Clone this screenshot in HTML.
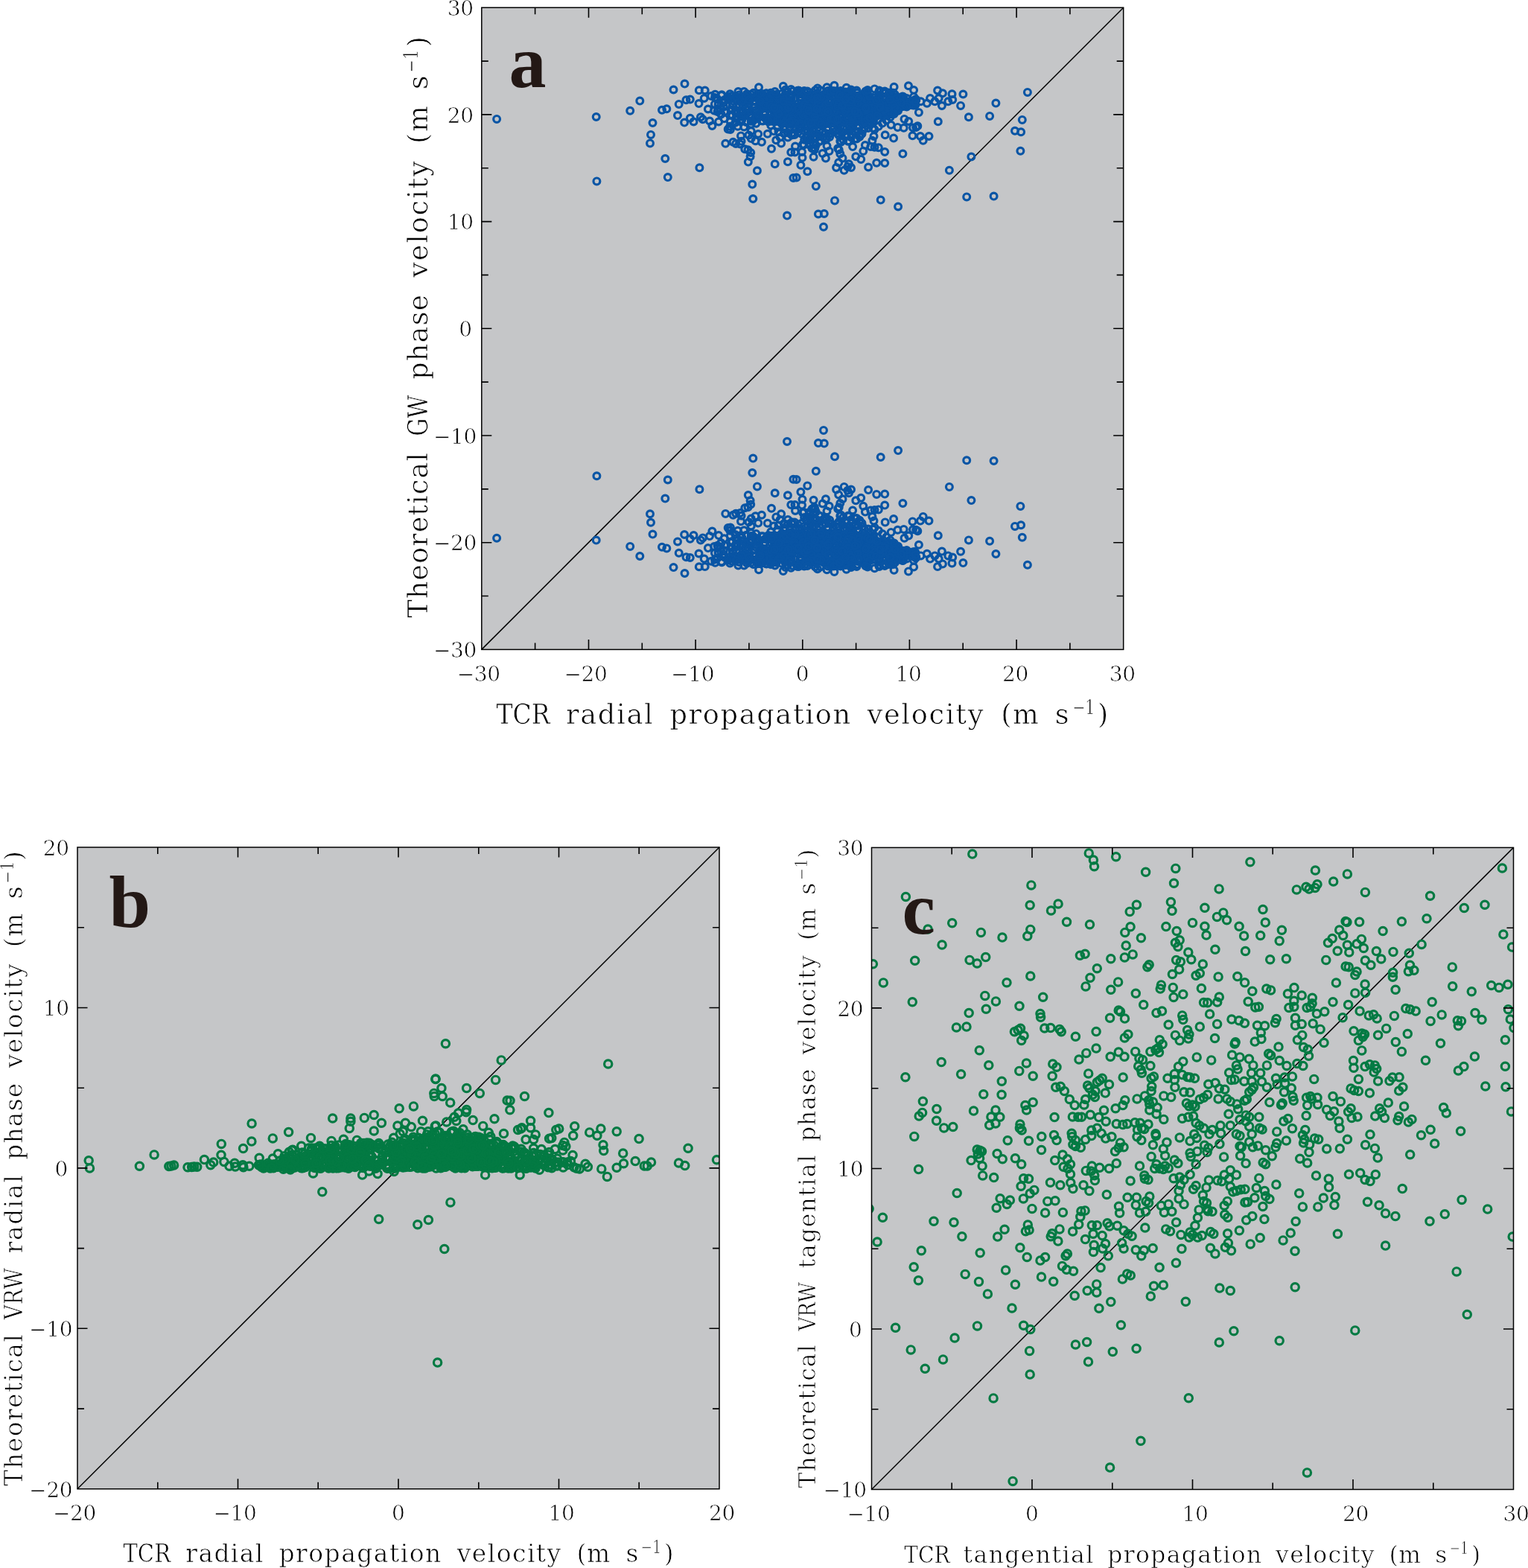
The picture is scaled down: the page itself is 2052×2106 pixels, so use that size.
<!DOCTYPE html>
<html lang="en"><head><meta charset="utf-8"><title>Figure</title>
<style>html,body{margin:0;padding:0;background:#fff}svg{display:block}</style></head>
<body><svg width="2052" height="2106" viewBox="0 0 2052 2106">
<rect width="2052" height="2106" fill="#fff"/>
<rect x="646.8" y="10.2" width="861.9" height="862.2" fill="#c5c6c8"/>
<rect x="104" y="1138" width="862" height="861.8" fill="#c5c6c8"/>
<rect x="1170.5" y="1138.4" width="862" height="862.1" fill="#c5c6c8"/>
<path d="M646.8 872.4L1508.7 10.2" stroke="#000" stroke-width="1.5" fill="none"/>
<clipPath id="cpa"><rect x="646.8" y="10.2" width="861.9" height="862.2"/></clipPath>
<g clip-path="url(#cpa)" fill="none" stroke="#0955a5" stroke-width="3.2">
<circle cx="1015.4" cy="165.7" r="4.4"/>
<circle cx="1008.1" cy="156.4" r="4.4"/>
<circle cx="998.2" cy="137.6" r="4.4"/>
<circle cx="994.4" cy="150.7" r="4.4"/>
<circle cx="992.9" cy="131" r="4.4"/>
<circle cx="983.8" cy="141.3" r="4.4"/>
<circle cx="1015" cy="147.9" r="4.4"/>
<circle cx="984.7" cy="135.8" r="4.4"/>
<circle cx="980.8" cy="163.2" r="4.4"/>
<circle cx="989.5" cy="148.7" r="4.4"/>
<circle cx="977.5" cy="130" r="4.4"/>
<circle cx="998.5" cy="132" r="4.4"/>
<circle cx="1002.1" cy="163.9" r="4.4"/>
<circle cx="1015.7" cy="131.1" r="4.4"/>
<circle cx="987.4" cy="164.7" r="4.4"/>
<circle cx="1001.4" cy="145.4" r="4.4"/>
<circle cx="971.3" cy="138.3" r="4.4"/>
<circle cx="1012.5" cy="135.8" r="4.4"/>
<circle cx="1015.4" cy="155.1" r="4.4"/>
<circle cx="1002.7" cy="126.6" r="4.4"/>
<circle cx="964.4" cy="147" r="4.4"/>
<circle cx="983.4" cy="155.5" r="4.4"/>
<circle cx="959.9" cy="139.9" r="4.4"/>
<circle cx="968.3" cy="153.6" r="4.4"/>
<circle cx="1006.8" cy="130.9" r="4.4"/>
<circle cx="994.9" cy="156.7" r="4.4"/>
<circle cx="964.8" cy="138.8" r="4.4"/>
<circle cx="993.1" cy="141.3" r="4.4"/>
<circle cx="959.1" cy="148.5" r="4.4"/>
<circle cx="960" cy="131.1" r="4.4"/>
<circle cx="971.9" cy="143.6" r="4.4"/>
<circle cx="973" cy="150" r="4.4"/>
<circle cx="983.4" cy="147.2" r="4.4"/>
<circle cx="982.5" cy="128.9" r="4.4"/>
<circle cx="968.9" cy="128.1" r="4.4"/>
<circle cx="1006.2" cy="140.1" r="4.4"/>
<circle cx="1006.7" cy="153.9" r="4.4"/>
<circle cx="1011.9" cy="161.8" r="4.4"/>
<circle cx="988.9" cy="143.2" r="4.4"/>
<circle cx="1016.3" cy="150.3" r="4.4"/>
<circle cx="1015" cy="129.4" r="4.4"/>
<circle cx="1002.1" cy="134.6" r="4.4"/>
<circle cx="1004.3" cy="147.4" r="4.4"/>
<circle cx="988.4" cy="133.5" r="4.4"/>
<circle cx="996.4" cy="160.7" r="4.4"/>
<circle cx="1011" cy="131.2" r="4.4"/>
<circle cx="1006.5" cy="129.9" r="4.4"/>
<circle cx="988.1" cy="159" r="4.4"/>
<circle cx="994.3" cy="133.4" r="4.4"/>
<circle cx="1017.5" cy="159" r="4.4"/>
<circle cx="1004.2" cy="151.4" r="4.4"/>
<circle cx="1008.7" cy="162.7" r="4.4"/>
<circle cx="1014.8" cy="136.7" r="4.4"/>
<circle cx="998.8" cy="131.5" r="4.4"/>
<circle cx="992.4" cy="127.5" r="4.4"/>
<circle cx="997" cy="148.5" r="4.4"/>
<circle cx="988.1" cy="151.4" r="4.4"/>
<circle cx="998.1" cy="137.1" r="4.4"/>
<circle cx="1012.6" cy="143.7" r="4.4"/>
<circle cx="997.5" cy="143.8" r="4.4"/>
<circle cx="1009.1" cy="127.2" r="4.4"/>
<circle cx="1017.3" cy="125.9" r="4.4"/>
<circle cx="1086.5" cy="188.1" r="4.4"/>
<circle cx="1100.1" cy="189.7" r="4.4"/>
<circle cx="1126.4" cy="175.7" r="4.4"/>
<circle cx="1088.7" cy="180.1" r="4.4"/>
<circle cx="1148.2" cy="186.4" r="4.4"/>
<circle cx="1140.1" cy="189.4" r="4.4"/>
<circle cx="1152.5" cy="176.5" r="4.4"/>
<circle cx="1076" cy="179.6" r="4.4"/>
<circle cx="1126.5" cy="181.8" r="4.4"/>
<circle cx="1114.2" cy="184" r="4.4"/>
<circle cx="1131.1" cy="178.2" r="4.4"/>
<circle cx="1091.4" cy="175.6" r="4.4"/>
<circle cx="1104.3" cy="177.9" r="4.4"/>
<circle cx="1092.3" cy="194" r="4.4"/>
<circle cx="1136" cy="182.6" r="4.4"/>
<circle cx="1082.3" cy="184.6" r="4.4"/>
<circle cx="1094.3" cy="198.9" r="4.4"/>
<circle cx="1154.4" cy="183.8" r="4.4"/>
<circle cx="1109.4" cy="187.5" r="4.4"/>
<circle cx="1128.3" cy="189.5" r="4.4"/>
<circle cx="1099.5" cy="182.1" r="4.4"/>
<circle cx="1092.9" cy="183.8" r="4.4"/>
<circle cx="1141.5" cy="174.7" r="4.4"/>
<circle cx="1144.8" cy="180.2" r="4.4"/>
<circle cx="1116.6" cy="179" r="4.4"/>
<circle cx="1105.2" cy="184.6" r="4.4"/>
<circle cx="1157.5" cy="179.8" r="4.4"/>
<circle cx="1085.4" cy="175.8" r="4.4"/>
<circle cx="1079.6" cy="194.6" r="4.4"/>
<circle cx="1067.1" cy="181.1" r="4.4"/>
<circle cx="1061.6" cy="162.2" r="4.4"/>
<circle cx="1086.4" cy="163.3" r="4.4"/>
<circle cx="1035.3" cy="168.4" r="4.4"/>
<circle cx="1143.6" cy="164.7" r="4.4"/>
<circle cx="1108.2" cy="165.8" r="4.4"/>
<circle cx="1051.8" cy="162.2" r="4.4"/>
<circle cx="1149.1" cy="164.1" r="4.4"/>
<circle cx="1073" cy="173.2" r="4.4"/>
<circle cx="1161.4" cy="161.8" r="4.4"/>
<circle cx="1118.9" cy="174.1" r="4.4"/>
<circle cx="1103.4" cy="163.7" r="4.4"/>
<circle cx="1098.4" cy="161.9" r="4.4"/>
<circle cx="1165.9" cy="172" r="4.4"/>
<circle cx="1103.8" cy="168.7" r="4.4"/>
<circle cx="1117.8" cy="169.1" r="4.4"/>
<circle cx="1050" cy="166.4" r="4.4"/>
<circle cx="1068.5" cy="171.2" r="4.4"/>
<circle cx="1098" cy="167.2" r="4.4"/>
<circle cx="1123.1" cy="165.8" r="4.4"/>
<circle cx="1080.2" cy="175.7" r="4.4"/>
<circle cx="1143.6" cy="172.9" r="4.4"/>
<circle cx="1061.8" cy="167" r="4.4"/>
<circle cx="1088.6" cy="179.8" r="4.4"/>
<circle cx="1070.5" cy="164" r="4.4"/>
<circle cx="1093.8" cy="162.9" r="4.4"/>
<circle cx="1031.9" cy="163.6" r="4.4"/>
<circle cx="1129.9" cy="163.1" r="4.4"/>
<circle cx="1044" cy="171.1" r="4.4"/>
<circle cx="1063.5" cy="178.7" r="4.4"/>
<circle cx="1153.8" cy="170.5" r="4.4"/>
<circle cx="1147.6" cy="175.6" r="4.4"/>
<circle cx="1057.7" cy="178.3" r="4.4"/>
<circle cx="1126.5" cy="174.4" r="4.4"/>
<circle cx="1173.2" cy="161.6" r="4.4"/>
<circle cx="1168" cy="160.3" r="4.4"/>
<circle cx="1161.1" cy="171.6" r="4.4"/>
<circle cx="1153.3" cy="161.8" r="4.4"/>
<circle cx="1071.9" cy="177.6" r="4.4"/>
<circle cx="1109" cy="179" r="4.4"/>
<circle cx="1100.4" cy="175" r="4.4"/>
<circle cx="1097.4" cy="179.1" r="4.4"/>
<circle cx="1037.8" cy="163" r="4.4"/>
<circle cx="1052.8" cy="173.7" r="4.4"/>
<circle cx="1075.6" cy="166.3" r="4.4"/>
<circle cx="1113.9" cy="179.7" r="4.4"/>
<circle cx="1087.9" cy="172.6" r="4.4"/>
<circle cx="1132.5" cy="172.9" r="4.4"/>
<circle cx="1111.8" cy="174.6" r="4.4"/>
<circle cx="1137.2" cy="171.6" r="4.4"/>
<circle cx="1158.5" cy="166.9" r="4.4"/>
<circle cx="1085" cy="168.9" r="4.4"/>
<circle cx="1061" cy="171.6" r="4.4"/>
<circle cx="1166.3" cy="166.4" r="4.4"/>
<circle cx="1125.3" cy="178.8" r="4.4"/>
<circle cx="1138.6" cy="160.7" r="4.4"/>
<circle cx="1113.9" cy="164.1" r="4.4"/>
<circle cx="1080.2" cy="169.4" r="4.4"/>
<circle cx="1092.7" cy="176.8" r="4.4"/>
<circle cx="1179.2" cy="160.7" r="4.4"/>
<circle cx="1139.3" cy="175.9" r="4.4"/>
<circle cx="1046.8" cy="160" r="4.4"/>
<circle cx="1181.4" cy="132.7" r="4.4"/>
<circle cx="1124" cy="141.7" r="4.4"/>
<circle cx="1157.4" cy="157.3" r="4.4"/>
<circle cx="1196.9" cy="140.9" r="4.4"/>
<circle cx="1113.3" cy="154.2" r="4.4"/>
<circle cx="1067" cy="164.5" r="4.4"/>
<circle cx="1023.4" cy="145.9" r="4.4"/>
<circle cx="1219" cy="138.5" r="4.4"/>
<circle cx="1064.4" cy="140.4" r="4.4"/>
<circle cx="1024.2" cy="131.2" r="4.4"/>
<circle cx="1111.7" cy="143.8" r="4.4"/>
<circle cx="1067.9" cy="131.6" r="4.4"/>
<circle cx="1064.8" cy="142.1" r="4.4"/>
<circle cx="1080" cy="122" r="4.4"/>
<circle cx="1197.2" cy="146.6" r="4.4"/>
<circle cx="1155.5" cy="129.6" r="4.4"/>
<circle cx="1043.9" cy="136.3" r="4.4"/>
<circle cx="1172.4" cy="153.7" r="4.4"/>
<circle cx="1218.4" cy="140.4" r="4.4"/>
<circle cx="1195.6" cy="151.8" r="4.4"/>
<circle cx="1082.9" cy="148" r="4.4"/>
<circle cx="1126.1" cy="148.1" r="4.4"/>
<circle cx="1025.4" cy="132.2" r="4.4"/>
<circle cx="1188.6" cy="140.1" r="4.4"/>
<circle cx="1055" cy="146.2" r="4.4"/>
<circle cx="1168.5" cy="152" r="4.4"/>
<circle cx="1098.2" cy="141.2" r="4.4"/>
<circle cx="1126.8" cy="156.8" r="4.4"/>
<circle cx="1129.5" cy="139.1" r="4.4"/>
<circle cx="1122.8" cy="122.4" r="4.4"/>
<circle cx="1027.3" cy="153.4" r="4.4"/>
<circle cx="1102.2" cy="128.8" r="4.4"/>
<circle cx="1125.5" cy="166.2" r="4.4"/>
<circle cx="1182.9" cy="145.8" r="4.4"/>
<circle cx="1202.1" cy="131.7" r="4.4"/>
<circle cx="1127.9" cy="164.8" r="4.4"/>
<circle cx="1141.6" cy="142.1" r="4.4"/>
<circle cx="1075.6" cy="146.2" r="4.4"/>
<circle cx="1191.2" cy="144.9" r="4.4"/>
<circle cx="1138.1" cy="140.6" r="4.4"/>
<circle cx="1030" cy="161" r="4.4"/>
<circle cx="1140" cy="130.2" r="4.4"/>
<circle cx="1126" cy="143.3" r="4.4"/>
<circle cx="1094.4" cy="136.9" r="4.4"/>
<circle cx="1133.2" cy="149.7" r="4.4"/>
<circle cx="1149.1" cy="142.1" r="4.4"/>
<circle cx="1024" cy="131.6" r="4.4"/>
<circle cx="1055.9" cy="147.9" r="4.4"/>
<circle cx="1072.6" cy="159.7" r="4.4"/>
<circle cx="1162" cy="124.8" r="4.4"/>
<circle cx="1179.7" cy="132.5" r="4.4"/>
<circle cx="1041.4" cy="149.7" r="4.4"/>
<circle cx="1091.7" cy="124.2" r="4.4"/>
<circle cx="1052.2" cy="145.3" r="4.4"/>
<circle cx="1054" cy="133.6" r="4.4"/>
<circle cx="1170.3" cy="141.9" r="4.4"/>
<circle cx="1086.9" cy="142.8" r="4.4"/>
<circle cx="1023.1" cy="138.8" r="4.4"/>
<circle cx="1108.1" cy="129.6" r="4.4"/>
<circle cx="1041.3" cy="162.4" r="4.4"/>
<circle cx="1127.2" cy="130.6" r="4.4"/>
<circle cx="1147.6" cy="158.6" r="4.4"/>
<circle cx="1049.3" cy="154.1" r="4.4"/>
<circle cx="1052.3" cy="153.4" r="4.4"/>
<circle cx="1163.1" cy="146.1" r="4.4"/>
<circle cx="1065.2" cy="165.9" r="4.4"/>
<circle cx="1188.7" cy="144.8" r="4.4"/>
<circle cx="1065.8" cy="150.8" r="4.4"/>
<circle cx="1102.5" cy="147.5" r="4.4"/>
<circle cx="1086.7" cy="150" r="4.4"/>
<circle cx="1030.6" cy="134.7" r="4.4"/>
<circle cx="1083.6" cy="160.5" r="4.4"/>
<circle cx="1084.4" cy="164.2" r="4.4"/>
<circle cx="1177.2" cy="140.1" r="4.4"/>
<circle cx="1140" cy="128.9" r="4.4"/>
<circle cx="1168.7" cy="144.4" r="4.4"/>
<circle cx="1098.9" cy="137" r="4.4"/>
<circle cx="1062" cy="152" r="4.4"/>
<circle cx="1110.7" cy="129.9" r="4.4"/>
<circle cx="1040.3" cy="151.6" r="4.4"/>
<circle cx="1081.4" cy="144" r="4.4"/>
<circle cx="1087.6" cy="161.1" r="4.4"/>
<circle cx="1061" cy="136.1" r="4.4"/>
<circle cx="1090.6" cy="130.8" r="4.4"/>
<circle cx="1162.3" cy="159.5" r="4.4"/>
<circle cx="1217.5" cy="136.8" r="4.4"/>
<circle cx="1121.7" cy="166.3" r="4.4"/>
<circle cx="1068.2" cy="154.4" r="4.4"/>
<circle cx="1036.1" cy="128.8" r="4.4"/>
<circle cx="1213" cy="130.8" r="4.4"/>
<circle cx="1180.5" cy="148.6" r="4.4"/>
<circle cx="1198" cy="137.9" r="4.4"/>
<circle cx="1090.8" cy="134.4" r="4.4"/>
<circle cx="1203.6" cy="148.8" r="4.4"/>
<circle cx="1047" cy="146.4" r="4.4"/>
<circle cx="1033.7" cy="160.8" r="4.4"/>
<circle cx="1091" cy="149.3" r="4.4"/>
<circle cx="1185.3" cy="138.4" r="4.4"/>
<circle cx="1140.1" cy="131.3" r="4.4"/>
<circle cx="1035.5" cy="133.3" r="4.4"/>
<circle cx="1216" cy="142.1" r="4.4"/>
<circle cx="1077.3" cy="157.2" r="4.4"/>
<circle cx="1161.5" cy="125.2" r="4.4"/>
<circle cx="1042.6" cy="161.7" r="4.4"/>
<circle cx="1026.6" cy="132" r="4.4"/>
<circle cx="1229.5" cy="140.4" r="4.4"/>
<circle cx="1042.7" cy="128.7" r="4.4"/>
<circle cx="1069.7" cy="155.2" r="4.4"/>
<circle cx="1040" cy="162.9" r="4.4"/>
<circle cx="1099" cy="165.6" r="4.4"/>
<circle cx="1212.6" cy="134.5" r="4.4"/>
<circle cx="1072.2" cy="142.9" r="4.4"/>
<circle cx="1039.4" cy="151" r="4.4"/>
<circle cx="1228.3" cy="134.6" r="4.4"/>
<circle cx="1145.7" cy="141.7" r="4.4"/>
<circle cx="1085" cy="123.9" r="4.4"/>
<circle cx="1064.1" cy="149.4" r="4.4"/>
<circle cx="1165.3" cy="151.4" r="4.4"/>
<circle cx="1073.4" cy="145.9" r="4.4"/>
<circle cx="1083.8" cy="132.3" r="4.4"/>
<circle cx="1035.4" cy="133.9" r="4.4"/>
<circle cx="1228.4" cy="141.6" r="4.4"/>
<circle cx="1157.5" cy="150.6" r="4.4"/>
<circle cx="1219.3" cy="139" r="4.4"/>
<circle cx="1083.7" cy="136.1" r="4.4"/>
<circle cx="1085.8" cy="160" r="4.4"/>
<circle cx="1209.2" cy="134.9" r="4.4"/>
<circle cx="1089.5" cy="146" r="4.4"/>
<circle cx="1141.9" cy="148.4" r="4.4"/>
<circle cx="1070.5" cy="121.9" r="4.4"/>
<circle cx="1070.2" cy="124.3" r="4.4"/>
<circle cx="1136" cy="124.3" r="4.4"/>
<circle cx="1034.1" cy="150.2" r="4.4"/>
<circle cx="1080.2" cy="157.4" r="4.4"/>
<circle cx="1123.6" cy="160.7" r="4.4"/>
<circle cx="1051" cy="144.1" r="4.4"/>
<circle cx="1188.1" cy="124.5" r="4.4"/>
<circle cx="1193.8" cy="135.7" r="4.4"/>
<circle cx="1040.9" cy="144.7" r="4.4"/>
<circle cx="1214.7" cy="134.5" r="4.4"/>
<circle cx="1085.6" cy="162.5" r="4.4"/>
<circle cx="1165.6" cy="129.2" r="4.4"/>
<circle cx="1110.6" cy="128.3" r="4.4"/>
<circle cx="1171" cy="151.7" r="4.4"/>
<circle cx="1072.1" cy="124" r="4.4"/>
<circle cx="1135.5" cy="145.9" r="4.4"/>
<circle cx="1200.2" cy="141.9" r="4.4"/>
<circle cx="1102.7" cy="136.6" r="4.4"/>
<circle cx="1073.2" cy="122.1" r="4.4"/>
<circle cx="1156.3" cy="140.2" r="4.4"/>
<circle cx="1140.1" cy="123.9" r="4.4"/>
<circle cx="1094" cy="127.4" r="4.4"/>
<circle cx="1044.8" cy="132.9" r="4.4"/>
<circle cx="1195.4" cy="139.3" r="4.4"/>
<circle cx="1103.8" cy="149.2" r="4.4"/>
<circle cx="1131.1" cy="144" r="4.4"/>
<circle cx="1156.9" cy="141.2" r="4.4"/>
<circle cx="1164.9" cy="154.6" r="4.4"/>
<circle cx="1069" cy="143.8" r="4.4"/>
<circle cx="1120.5" cy="131.4" r="4.4"/>
<circle cx="1106.2" cy="146.8" r="4.4"/>
<circle cx="1076.9" cy="150.7" r="4.4"/>
<circle cx="1127.5" cy="161.4" r="4.4"/>
<circle cx="1052.1" cy="156.2" r="4.4"/>
<circle cx="1207" cy="135.3" r="4.4"/>
<circle cx="1166.2" cy="160.1" r="4.4"/>
<circle cx="1097.5" cy="153.3" r="4.4"/>
<circle cx="1175.6" cy="148.4" r="4.4"/>
<circle cx="1055.7" cy="132.5" r="4.4"/>
<circle cx="1064.6" cy="147.2" r="4.4"/>
<circle cx="1180.2" cy="123.4" r="4.4"/>
<circle cx="1163.9" cy="154" r="4.4"/>
<circle cx="1092.5" cy="144.7" r="4.4"/>
<circle cx="1053.3" cy="154.6" r="4.4"/>
<circle cx="1190.9" cy="149.9" r="4.4"/>
<circle cx="1075.3" cy="163" r="4.4"/>
<circle cx="1159.2" cy="153.2" r="4.4"/>
<circle cx="1113.2" cy="163.5" r="4.4"/>
<circle cx="1225.8" cy="138.6" r="4.4"/>
<circle cx="1189.8" cy="140.9" r="4.4"/>
<circle cx="1053.3" cy="136" r="4.4"/>
<circle cx="1045" cy="162.8" r="4.4"/>
<circle cx="1146.5" cy="139.8" r="4.4"/>
<circle cx="1043.3" cy="134.6" r="4.4"/>
<circle cx="1071.1" cy="155.5" r="4.4"/>
<circle cx="1018.9" cy="129.7" r="4.4"/>
<circle cx="1111.9" cy="122" r="4.4"/>
<circle cx="1152.3" cy="148.9" r="4.4"/>
<circle cx="1196.8" cy="130.5" r="4.4"/>
<circle cx="1078.9" cy="145.9" r="4.4"/>
<circle cx="1076.5" cy="147.9" r="4.4"/>
<circle cx="1071.7" cy="152.4" r="4.4"/>
<circle cx="1123" cy="160.4" r="4.4"/>
<circle cx="1182.6" cy="147.2" r="4.4"/>
<circle cx="1100" cy="134.1" r="4.4"/>
<circle cx="1041.1" cy="158.1" r="4.4"/>
<circle cx="1043.3" cy="155.4" r="4.4"/>
<circle cx="1134.7" cy="165.4" r="4.4"/>
<circle cx="1047.2" cy="144" r="4.4"/>
<circle cx="1140.5" cy="135.3" r="4.4"/>
<circle cx="1125.6" cy="137.4" r="4.4"/>
<circle cx="1112.7" cy="141.7" r="4.4"/>
<circle cx="1083.2" cy="139.4" r="4.4"/>
<circle cx="1185.6" cy="152.4" r="4.4"/>
<circle cx="1123.4" cy="150.8" r="4.4"/>
<circle cx="1098.8" cy="130.4" r="4.4"/>
<circle cx="1018.8" cy="133.8" r="4.4"/>
<circle cx="1146" cy="161.6" r="4.4"/>
<circle cx="1195.5" cy="144.5" r="4.4"/>
<circle cx="1196.6" cy="139.8" r="4.4"/>
<circle cx="1083.3" cy="128.8" r="4.4"/>
<circle cx="1150.7" cy="145.4" r="4.4"/>
<circle cx="1094.9" cy="121.2" r="4.4"/>
<circle cx="1101.3" cy="140.6" r="4.4"/>
<circle cx="1104.7" cy="160.6" r="4.4"/>
<circle cx="1143.1" cy="154.8" r="4.4"/>
<circle cx="1123.4" cy="155.3" r="4.4"/>
<circle cx="1155" cy="150.8" r="4.4"/>
<circle cx="1152.8" cy="139.7" r="4.4"/>
<circle cx="1152.7" cy="150.2" r="4.4"/>
<circle cx="1192.5" cy="148.9" r="4.4"/>
<circle cx="1092.8" cy="133.2" r="4.4"/>
<circle cx="1169.5" cy="161.2" r="4.4"/>
<circle cx="1134.5" cy="128" r="4.4"/>
<circle cx="1196.3" cy="143.3" r="4.4"/>
<circle cx="1118" cy="123.1" r="4.4"/>
<circle cx="1127.2" cy="155.3" r="4.4"/>
<circle cx="1108.4" cy="137.3" r="4.4"/>
<circle cx="1126.5" cy="164.5" r="4.4"/>
<circle cx="1165.8" cy="139.5" r="4.4"/>
<circle cx="1165.4" cy="148.8" r="4.4"/>
<circle cx="1062.7" cy="130.6" r="4.4"/>
<circle cx="1207.6" cy="133.4" r="4.4"/>
<circle cx="1034" cy="159.2" r="4.4"/>
<circle cx="1130" cy="137.9" r="4.4"/>
<circle cx="1127.5" cy="154.9" r="4.4"/>
<circle cx="1054.1" cy="151" r="4.4"/>
<circle cx="1170.7" cy="158.5" r="4.4"/>
<circle cx="1075.7" cy="149" r="4.4"/>
<circle cx="1067.7" cy="146.8" r="4.4"/>
<circle cx="1054.9" cy="157.3" r="4.4"/>
<circle cx="1203.5" cy="136.2" r="4.4"/>
<circle cx="1065.6" cy="165.3" r="4.4"/>
<circle cx="1169.2" cy="159.8" r="4.4"/>
<circle cx="1024.5" cy="162.4" r="4.4"/>
<circle cx="1151.2" cy="135.6" r="4.4"/>
<circle cx="1110.4" cy="156" r="4.4"/>
<circle cx="1186.1" cy="129.7" r="4.4"/>
<circle cx="1151.9" cy="128.6" r="4.4"/>
<circle cx="1226.2" cy="141.4" r="4.4"/>
<circle cx="1147.7" cy="133.1" r="4.4"/>
<circle cx="1130.7" cy="127.4" r="4.4"/>
<circle cx="1047.6" cy="153.9" r="4.4"/>
<circle cx="1095.3" cy="155.6" r="4.4"/>
<circle cx="1069.5" cy="154" r="4.4"/>
<circle cx="1171.8" cy="135.1" r="4.4"/>
<circle cx="1040.8" cy="139.3" r="4.4"/>
<circle cx="1123.4" cy="125.6" r="4.4"/>
<circle cx="1058" cy="123.5" r="4.4"/>
<circle cx="1145.9" cy="161.9" r="4.4"/>
<circle cx="1064.3" cy="122.6" r="4.4"/>
<circle cx="1168.6" cy="158.5" r="4.4"/>
<circle cx="1091.3" cy="159.5" r="4.4"/>
<circle cx="1043.3" cy="152.9" r="4.4"/>
<circle cx="1038.4" cy="139.4" r="4.4"/>
<circle cx="1123.9" cy="138.4" r="4.4"/>
<circle cx="1054.1" cy="131.7" r="4.4"/>
<circle cx="1193.5" cy="142.3" r="4.4"/>
<circle cx="1142.1" cy="130.7" r="4.4"/>
<circle cx="1171" cy="136.2" r="4.4"/>
<circle cx="1145" cy="162.8" r="4.4"/>
<circle cx="1086.4" cy="138.6" r="4.4"/>
<circle cx="1142.2" cy="163.3" r="4.4"/>
<circle cx="1103.6" cy="161.5" r="4.4"/>
<circle cx="1180.3" cy="128" r="4.4"/>
<circle cx="1049.1" cy="151.6" r="4.4"/>
<circle cx="1030.2" cy="138.5" r="4.4"/>
<circle cx="1045.8" cy="142.3" r="4.4"/>
<circle cx="1076.5" cy="126.4" r="4.4"/>
<circle cx="1154.4" cy="155.3" r="4.4"/>
<circle cx="1165" cy="159.9" r="4.4"/>
<circle cx="1159.9" cy="138.9" r="4.4"/>
<circle cx="1155.3" cy="132.2" r="4.4"/>
<circle cx="1144.4" cy="137.1" r="4.4"/>
<circle cx="1147.5" cy="146.8" r="4.4"/>
<circle cx="1129.7" cy="123.8" r="4.4"/>
<circle cx="1093.6" cy="140" r="4.4"/>
<circle cx="1060.7" cy="161.5" r="4.4"/>
<circle cx="1108.8" cy="151.5" r="4.4"/>
<circle cx="1170.7" cy="155.2" r="4.4"/>
<circle cx="1172.3" cy="155.6" r="4.4"/>
<circle cx="1071.8" cy="165.9" r="4.4"/>
<circle cx="1050.3" cy="163.3" r="4.4"/>
<circle cx="1029.3" cy="125.2" r="4.4"/>
<circle cx="1192" cy="142.6" r="4.4"/>
<circle cx="1097.2" cy="166.3" r="4.4"/>
<circle cx="1026.6" cy="145.4" r="4.4"/>
<circle cx="1112.9" cy="126.9" r="4.4"/>
<circle cx="1102.6" cy="153.6" r="4.4"/>
<circle cx="1130.2" cy="125.2" r="4.4"/>
<circle cx="1189.3" cy="124.9" r="4.4"/>
<circle cx="1025.3" cy="138.7" r="4.4"/>
<circle cx="1174.8" cy="135.4" r="4.4"/>
<circle cx="1045.8" cy="157.6" r="4.4"/>
<circle cx="1083" cy="140.5" r="4.4"/>
<circle cx="1070.5" cy="146.6" r="4.4"/>
<circle cx="1088.6" cy="136.6" r="4.4"/>
<circle cx="1143" cy="125.8" r="4.4"/>
<circle cx="1157.7" cy="141.6" r="4.4"/>
<circle cx="1196.6" cy="153.3" r="4.4"/>
<circle cx="1132.6" cy="162.3" r="4.4"/>
<circle cx="1196" cy="134.4" r="4.4"/>
<circle cx="1051.6" cy="138" r="4.4"/>
<circle cx="1129.5" cy="125.5" r="4.4"/>
<circle cx="1091.9" cy="147.4" r="4.4"/>
<circle cx="1027.3" cy="158.5" r="4.4"/>
<circle cx="1157.3" cy="135.4" r="4.4"/>
<circle cx="1081.8" cy="137.2" r="4.4"/>
<circle cx="1087.6" cy="155.4" r="4.4"/>
<circle cx="1125.2" cy="145.2" r="4.4"/>
<circle cx="1049.8" cy="163.1" r="4.4"/>
<circle cx="1087.7" cy="136.1" r="4.4"/>
<circle cx="1120.7" cy="163" r="4.4"/>
<circle cx="1046.8" cy="145.1" r="4.4"/>
<circle cx="1185.8" cy="153.3" r="4.4"/>
<circle cx="1177.8" cy="137.6" r="4.4"/>
<circle cx="1104.2" cy="142.4" r="4.4"/>
<circle cx="1053.9" cy="127.8" r="4.4"/>
<circle cx="1165.1" cy="146.9" r="4.4"/>
<circle cx="1212.1" cy="129.5" r="4.4"/>
<circle cx="1106" cy="154.5" r="4.4"/>
<circle cx="1028.7" cy="125.6" r="4.4"/>
<circle cx="1134.8" cy="133.2" r="4.4"/>
<circle cx="1040.9" cy="133" r="4.4"/>
<circle cx="1153.3" cy="145.2" r="4.4"/>
<circle cx="1200" cy="150.6" r="4.4"/>
<circle cx="1055.1" cy="160.6" r="4.4"/>
<circle cx="1022.7" cy="137.9" r="4.4"/>
<circle cx="1078.7" cy="162" r="4.4"/>
<circle cx="1146" cy="160.8" r="4.4"/>
<circle cx="1209.1" cy="140.6" r="4.4"/>
<circle cx="1162.6" cy="146" r="4.4"/>
<circle cx="1173.3" cy="158.4" r="4.4"/>
<circle cx="1061.1" cy="155.4" r="4.4"/>
<circle cx="1182.9" cy="144.7" r="4.4"/>
<circle cx="1122.2" cy="139.6" r="4.4"/>
<circle cx="1143.1" cy="122.8" r="4.4"/>
<circle cx="1200.1" cy="142.1" r="4.4"/>
<circle cx="1058.6" cy="134.8" r="4.4"/>
<circle cx="1043.7" cy="134.9" r="4.4"/>
<circle cx="1140.4" cy="146.4" r="4.4"/>
<circle cx="1130.5" cy="145.9" r="4.4"/>
<circle cx="1105.4" cy="150" r="4.4"/>
<circle cx="1083.9" cy="134.9" r="4.4"/>
<circle cx="1126.4" cy="148" r="4.4"/>
<circle cx="1052.9" cy="150.3" r="4.4"/>
<circle cx="1139.1" cy="137.9" r="4.4"/>
<circle cx="1104.1" cy="164.1" r="4.4"/>
<circle cx="1199.1" cy="138.6" r="4.4"/>
<circle cx="1117.4" cy="157.6" r="4.4"/>
<circle cx="1097.7" cy="155.5" r="4.4"/>
<circle cx="1121" cy="136.5" r="4.4"/>
<circle cx="1115.6" cy="126.4" r="4.4"/>
<circle cx="1093.9" cy="140.1" r="4.4"/>
<circle cx="1021.9" cy="128.9" r="4.4"/>
<circle cx="1073.7" cy="160.5" r="4.4"/>
<circle cx="1144.2" cy="134.2" r="4.4"/>
<circle cx="1128" cy="155" r="4.4"/>
<circle cx="1165.9" cy="140.9" r="4.4"/>
<circle cx="1184.3" cy="143.3" r="4.4"/>
<circle cx="1171.1" cy="143.6" r="4.4"/>
<circle cx="1037.6" cy="127" r="4.4"/>
<circle cx="1023.6" cy="132.6" r="4.4"/>
<circle cx="1120.7" cy="164.8" r="4.4"/>
<circle cx="1103.4" cy="154.3" r="4.4"/>
<circle cx="1196.6" cy="125.1" r="4.4"/>
<circle cx="1135.6" cy="145.6" r="4.4"/>
<circle cx="1092.2" cy="164.5" r="4.4"/>
<circle cx="1136.3" cy="140.3" r="4.4"/>
<circle cx="1161.7" cy="126.5" r="4.4"/>
<circle cx="1074.8" cy="133.8" r="4.4"/>
<circle cx="1120.7" cy="157.5" r="4.4"/>
<circle cx="1162.8" cy="125" r="4.4"/>
<circle cx="1101.4" cy="151.8" r="4.4"/>
<circle cx="1081" cy="144.4" r="4.4"/>
<circle cx="1100.7" cy="162.6" r="4.4"/>
<circle cx="1061.1" cy="145" r="4.4"/>
<circle cx="1107.2" cy="161.8" r="4.4"/>
<circle cx="1230.3" cy="134.3" r="4.4"/>
<circle cx="1123.4" cy="162.2" r="4.4"/>
<circle cx="1134.6" cy="130.9" r="4.4"/>
<circle cx="1180.6" cy="136.5" r="4.4"/>
<circle cx="1075.3" cy="145.9" r="4.4"/>
<circle cx="1112.2" cy="156" r="4.4"/>
<circle cx="1198.3" cy="131.5" r="4.4"/>
<circle cx="1076.8" cy="153.5" r="4.4"/>
<circle cx="1106.1" cy="127" r="4.4"/>
<circle cx="1059.8" cy="146.8" r="4.4"/>
<circle cx="1132" cy="149" r="4.4"/>
<circle cx="1049.9" cy="140" r="4.4"/>
<circle cx="1077.9" cy="153" r="4.4"/>
<circle cx="1075.2" cy="130.9" r="4.4"/>
<circle cx="1096.7" cy="142.6" r="4.4"/>
<circle cx="1090.4" cy="148.9" r="4.4"/>
<circle cx="1056.8" cy="161.5" r="4.4"/>
<circle cx="1166.6" cy="145.6" r="4.4"/>
<circle cx="1030.4" cy="136" r="4.4"/>
<circle cx="1165.7" cy="150.7" r="4.4"/>
<circle cx="1085.5" cy="143.7" r="4.4"/>
<circle cx="1088.6" cy="126.9" r="4.4"/>
<circle cx="1048" cy="132.8" r="4.4"/>
<circle cx="1036.8" cy="145.8" r="4.4"/>
<circle cx="1168.4" cy="146.9" r="4.4"/>
<circle cx="1164.5" cy="131.4" r="4.4"/>
<circle cx="1060.7" cy="147.1" r="4.4"/>
<circle cx="1207.2" cy="140.4" r="4.4"/>
<circle cx="1083.3" cy="149.3" r="4.4"/>
<circle cx="1036.1" cy="131.3" r="4.4"/>
<circle cx="1091" cy="148.7" r="4.4"/>
<circle cx="1128.9" cy="122.1" r="4.4"/>
<circle cx="1088.6" cy="127.4" r="4.4"/>
<circle cx="1071.7" cy="156.4" r="4.4"/>
<circle cx="1163.8" cy="122.9" r="4.4"/>
<circle cx="1034.6" cy="154.3" r="4.4"/>
<circle cx="1040.1" cy="135.6" r="4.4"/>
<circle cx="1075.6" cy="123.3" r="4.4"/>
<circle cx="1024.7" cy="127.4" r="4.4"/>
<circle cx="1103.5" cy="164" r="4.4"/>
<circle cx="1154.6" cy="132.1" r="4.4"/>
<circle cx="1163.4" cy="133.6" r="4.4"/>
<circle cx="1128.3" cy="135.8" r="4.4"/>
<circle cx="1221" cy="137.2" r="4.4"/>
<circle cx="1190" cy="150.5" r="4.4"/>
<circle cx="1198.5" cy="148.9" r="4.4"/>
<circle cx="1204.3" cy="139.6" r="4.4"/>
<circle cx="1163.3" cy="149.5" r="4.4"/>
<circle cx="1130.9" cy="147" r="4.4"/>
<circle cx="1132.7" cy="139.1" r="4.4"/>
<circle cx="1135.5" cy="123.5" r="4.4"/>
<circle cx="1126.8" cy="129.1" r="4.4"/>
<circle cx="1064" cy="141" r="4.4"/>
<circle cx="1134.8" cy="132.5" r="4.4"/>
<circle cx="1076" cy="145.4" r="4.4"/>
<circle cx="1119.3" cy="139.6" r="4.4"/>
<circle cx="1040.2" cy="138.2" r="4.4"/>
<circle cx="1158" cy="146" r="4.4"/>
<circle cx="1134.6" cy="159.8" r="4.4"/>
<circle cx="1172.8" cy="152.5" r="4.4"/>
<circle cx="1024.5" cy="135.2" r="4.4"/>
<circle cx="1164" cy="128.2" r="4.4"/>
<circle cx="1206.1" cy="130.9" r="4.4"/>
<circle cx="1089.8" cy="161.9" r="4.4"/>
<circle cx="1052.2" cy="160.1" r="4.4"/>
<circle cx="1099.7" cy="141.2" r="4.4"/>
<circle cx="1043.2" cy="148.6" r="4.4"/>
<circle cx="1075.7" cy="151.7" r="4.4"/>
<circle cx="1189.1" cy="148.8" r="4.4"/>
<circle cx="1099.2" cy="146.8" r="4.4"/>
<circle cx="1206.9" cy="142.1" r="4.4"/>
<circle cx="1184.8" cy="148.5" r="4.4"/>
<circle cx="1108.4" cy="163.9" r="4.4"/>
<circle cx="1105.4" cy="148.9" r="4.4"/>
<circle cx="1029.4" cy="142.7" r="4.4"/>
<circle cx="1026" cy="153.4" r="4.4"/>
<circle cx="1041.8" cy="127.4" r="4.4"/>
<circle cx="1126.7" cy="137.4" r="4.4"/>
<circle cx="1076" cy="166.2" r="4.4"/>
<circle cx="1070.5" cy="158.2" r="4.4"/>
<circle cx="1069.3" cy="146.9" r="4.4"/>
<circle cx="1094.6" cy="128.3" r="4.4"/>
<circle cx="1085.1" cy="161.5" r="4.4"/>
<circle cx="1092.1" cy="151.2" r="4.4"/>
<circle cx="1029.9" cy="141" r="4.4"/>
<circle cx="1098.5" cy="134.5" r="4.4"/>
<circle cx="1192.7" cy="141.3" r="4.4"/>
<circle cx="1167.6" cy="150.2" r="4.4"/>
<circle cx="1129.1" cy="123.6" r="4.4"/>
<circle cx="1162" cy="162" r="4.4"/>
<circle cx="1054.9" cy="150.6" r="4.4"/>
<circle cx="1122.3" cy="136.7" r="4.4"/>
<circle cx="1022.6" cy="162.3" r="4.4"/>
<circle cx="1100" cy="159.4" r="4.4"/>
<circle cx="1055.4" cy="154" r="4.4"/>
<circle cx="1039.3" cy="136.4" r="4.4"/>
<circle cx="1185.9" cy="142.2" r="4.4"/>
<circle cx="1118.8" cy="143.7" r="4.4"/>
<circle cx="1183.5" cy="154.3" r="4.4"/>
<circle cx="1059.5" cy="141.3" r="4.4"/>
<circle cx="1134" cy="147.3" r="4.4"/>
<circle cx="1050.1" cy="138.3" r="4.4"/>
<circle cx="1034" cy="129.4" r="4.4"/>
<circle cx="1181.9" cy="151.7" r="4.4"/>
<circle cx="1188.7" cy="134.3" r="4.4"/>
<circle cx="1022" cy="139.2" r="4.4"/>
<circle cx="1153.6" cy="154.9" r="4.4"/>
<circle cx="1101.6" cy="121.2" r="4.4"/>
<circle cx="1091.3" cy="132" r="4.4"/>
<circle cx="1143.3" cy="144.6" r="4.4"/>
<circle cx="1109.5" cy="157.5" r="4.4"/>
<circle cx="1167.9" cy="152.8" r="4.4"/>
<circle cx="1157.9" cy="145.7" r="4.4"/>
<circle cx="1071.1" cy="156.9" r="4.4"/>
<circle cx="1043.5" cy="150.6" r="4.4"/>
<circle cx="1100.8" cy="146.8" r="4.4"/>
<circle cx="1155.3" cy="143" r="4.4"/>
<circle cx="1084.8" cy="133.8" r="4.4"/>
<circle cx="1106.9" cy="148.4" r="4.4"/>
<circle cx="1086.1" cy="145.6" r="4.4"/>
<circle cx="1114" cy="144.1" r="4.4"/>
<circle cx="1107.4" cy="128.7" r="4.4"/>
<circle cx="1102.6" cy="138.9" r="4.4"/>
<circle cx="1061" cy="158.6" r="4.4"/>
<circle cx="1095" cy="128" r="4.4"/>
<circle cx="1139.3" cy="159.9" r="4.4"/>
<circle cx="1185" cy="149.6" r="4.4"/>
<circle cx="1174.4" cy="136.5" r="4.4"/>
<circle cx="1048.5" cy="132.7" r="4.4"/>
<circle cx="1092.8" cy="133.8" r="4.4"/>
<circle cx="1118.1" cy="127.9" r="4.4"/>
<circle cx="1045.9" cy="132.6" r="4.4"/>
<circle cx="1060.1" cy="157.9" r="4.4"/>
<circle cx="1133" cy="130.1" r="4.4"/>
<circle cx="1109.9" cy="161.1" r="4.4"/>
<circle cx="1141.6" cy="146.5" r="4.4"/>
<circle cx="1101.7" cy="130" r="4.4"/>
<circle cx="1151.8" cy="124.5" r="4.4"/>
<circle cx="1186.2" cy="123.6" r="4.4"/>
<circle cx="1177.7" cy="138.6" r="4.4"/>
<circle cx="1164" cy="148.2" r="4.4"/>
<circle cx="1045.6" cy="145.8" r="4.4"/>
<circle cx="1033.9" cy="132.1" r="4.4"/>
<circle cx="1099.7" cy="134.1" r="4.4"/>
<circle cx="1094.4" cy="159.6" r="4.4"/>
<circle cx="1066.2" cy="153.6" r="4.4"/>
<circle cx="1092.4" cy="145.6" r="4.4"/>
<circle cx="1037" cy="159.1" r="4.4"/>
<circle cx="1062.7" cy="142.3" r="4.4"/>
<circle cx="1080.1" cy="158.3" r="4.4"/>
<circle cx="1144.8" cy="149.3" r="4.4"/>
<circle cx="1179.5" cy="132.7" r="4.4"/>
<circle cx="1030.5" cy="159.1" r="4.4"/>
<circle cx="1085.5" cy="158.4" r="4.4"/>
<circle cx="1040.1" cy="160.3" r="4.4"/>
<circle cx="1153.6" cy="132.3" r="4.4"/>
<circle cx="1062.5" cy="144.4" r="4.4"/>
<circle cx="1044" cy="162.7" r="4.4"/>
<circle cx="1169.5" cy="158.7" r="4.4"/>
<circle cx="1100.1" cy="163.5" r="4.4"/>
<circle cx="1046.7" cy="153.9" r="4.4"/>
<circle cx="1043.9" cy="130.3" r="4.4"/>
<circle cx="1181.4" cy="138.4" r="4.4"/>
<circle cx="1121.2" cy="149.2" r="4.4"/>
<circle cx="1075.3" cy="150.4" r="4.4"/>
<circle cx="1161.7" cy="163.4" r="4.4"/>
<circle cx="1125.6" cy="160.3" r="4.4"/>
<circle cx="1108.1" cy="133.5" r="4.4"/>
<circle cx="1038.9" cy="159.2" r="4.4"/>
<circle cx="1045.7" cy="146.7" r="4.4"/>
<circle cx="1115.1" cy="123.1" r="4.4"/>
<circle cx="1063.9" cy="158.9" r="4.4"/>
<circle cx="1133.3" cy="163.5" r="4.4"/>
<circle cx="1163.1" cy="123" r="4.4"/>
<circle cx="1108.5" cy="141.3" r="4.4"/>
<circle cx="1058.7" cy="144.4" r="4.4"/>
<circle cx="1129.7" cy="130.1" r="4.4"/>
<circle cx="1095" cy="161.4" r="4.4"/>
<circle cx="1031.8" cy="162.7" r="4.4"/>
<circle cx="1116.1" cy="159.4" r="4.4"/>
<circle cx="1055.8" cy="127.8" r="4.4"/>
<circle cx="1212" cy="134.1" r="4.4"/>
<circle cx="1027.2" cy="144" r="4.4"/>
<circle cx="1102.8" cy="166.7" r="4.4"/>
<circle cx="1156.3" cy="139.1" r="4.4"/>
<circle cx="1211.8" cy="142.6" r="4.4"/>
<circle cx="1212.7" cy="142.9" r="4.4"/>
<circle cx="1109.3" cy="148.1" r="4.4"/>
<circle cx="1085.9" cy="127.9" r="4.4"/>
<circle cx="1144.1" cy="160.1" r="4.4"/>
<circle cx="1077.4" cy="160.8" r="4.4"/>
<circle cx="1186.4" cy="156.7" r="4.4"/>
<circle cx="1187.2" cy="147.5" r="4.4"/>
<circle cx="1042.3" cy="147.4" r="4.4"/>
<circle cx="1090.1" cy="137.9" r="4.4"/>
<circle cx="1135.9" cy="150.3" r="4.4"/>
<circle cx="1142.7" cy="143.3" r="4.4"/>
<circle cx="1153.8" cy="160" r="4.4"/>
<circle cx="1113.5" cy="144" r="4.4"/>
<circle cx="1052.4" cy="136" r="4.4"/>
<circle cx="1063.8" cy="162.2" r="4.4"/>
<circle cx="1049.7" cy="126" r="4.4"/>
<circle cx="1085.9" cy="144.4" r="4.4"/>
<circle cx="1200.3" cy="149" r="4.4"/>
<circle cx="1153" cy="158.7" r="4.4"/>
<circle cx="1074.8" cy="165.6" r="4.4"/>
<circle cx="1135.8" cy="147.4" r="4.4"/>
<circle cx="1150.4" cy="124.4" r="4.4"/>
<circle cx="1054.5" cy="164.1" r="4.4"/>
<circle cx="1075.2" cy="124.8" r="4.4"/>
<circle cx="1078.4" cy="154.4" r="4.4"/>
<circle cx="1074.2" cy="130.7" r="4.4"/>
<circle cx="1077.3" cy="143.1" r="4.4"/>
<circle cx="1175.8" cy="134.9" r="4.4"/>
<circle cx="1193.9" cy="124.5" r="4.4"/>
<circle cx="1085.5" cy="163.6" r="4.4"/>
<circle cx="1201.9" cy="127.1" r="4.4"/>
<circle cx="1112.6" cy="137.7" r="4.4"/>
<circle cx="1085.5" cy="155.5" r="4.4"/>
<circle cx="1143.9" cy="151.5" r="4.4"/>
<circle cx="1204.8" cy="140.5" r="4.4"/>
<circle cx="1042.6" cy="127" r="4.4"/>
<circle cx="1143.6" cy="126.6" r="4.4"/>
<circle cx="1075.1" cy="130" r="4.4"/>
<circle cx="1089.7" cy="165.3" r="4.4"/>
<circle cx="1172.8" cy="131.1" r="4.4"/>
<circle cx="1072.2" cy="146.4" r="4.4"/>
<circle cx="1020" cy="156.2" r="4.4"/>
<circle cx="1036.1" cy="158.6" r="4.4"/>
<circle cx="1025.5" cy="145.3" r="4.4"/>
<circle cx="1062.8" cy="134.3" r="4.4"/>
<circle cx="1123" cy="138.1" r="4.4"/>
<circle cx="1101.9" cy="151.1" r="4.4"/>
<circle cx="1059.8" cy="129.3" r="4.4"/>
<circle cx="1164.5" cy="134.7" r="4.4"/>
<circle cx="1217.7" cy="140.6" r="4.4"/>
<circle cx="1119.4" cy="122.1" r="4.4"/>
<circle cx="1022.4" cy="125.8" r="4.4"/>
<circle cx="1151.9" cy="151.6" r="4.4"/>
<circle cx="1221.8" cy="140.9" r="4.4"/>
<circle cx="1169.4" cy="136.8" r="4.4"/>
<circle cx="1033.8" cy="140.3" r="4.4"/>
<circle cx="1168.1" cy="158" r="4.4"/>
<circle cx="1138.6" cy="146.3" r="4.4"/>
<circle cx="1125.2" cy="143" r="4.4"/>
<circle cx="1163.6" cy="147.5" r="4.4"/>
<circle cx="1201.4" cy="141.7" r="4.4"/>
<circle cx="1118.8" cy="159.3" r="4.4"/>
<circle cx="1162.6" cy="145.1" r="4.4"/>
<circle cx="1138.6" cy="158.1" r="4.4"/>
<circle cx="1148" cy="132.9" r="4.4"/>
<circle cx="1084.4" cy="148.8" r="4.4"/>
<circle cx="1027.8" cy="142" r="4.4"/>
<circle cx="1208.9" cy="131.7" r="4.4"/>
<circle cx="1113" cy="153.2" r="4.4"/>
<circle cx="1151.9" cy="138.7" r="4.4"/>
<circle cx="1111.6" cy="150.5" r="4.4"/>
<circle cx="1094.3" cy="157.1" r="4.4"/>
<circle cx="1019.8" cy="155.6" r="4.4"/>
<circle cx="1176.8" cy="135.1" r="4.4"/>
<circle cx="1021.2" cy="136.6" r="4.4"/>
<circle cx="1144.1" cy="157.2" r="4.4"/>
<circle cx="1204.3" cy="130.6" r="4.4"/>
<circle cx="1035.5" cy="126.5" r="4.4"/>
<circle cx="1045.5" cy="152.8" r="4.4"/>
<circle cx="1067.8" cy="165.3" r="4.4"/>
<circle cx="1167.9" cy="129.4" r="4.4"/>
<circle cx="1182" cy="144.2" r="4.4"/>
<circle cx="1140.8" cy="137.8" r="4.4"/>
<circle cx="1080.9" cy="140.3" r="4.4"/>
<circle cx="1130.7" cy="142.2" r="4.4"/>
<circle cx="1060.6" cy="164.1" r="4.4"/>
<circle cx="1148.1" cy="149.4" r="4.4"/>
<circle cx="1152.8" cy="132.2" r="4.4"/>
<circle cx="1102.5" cy="130.7" r="4.4"/>
<circle cx="1018.3" cy="153.4" r="4.4"/>
<circle cx="1083.8" cy="143.9" r="4.4"/>
<circle cx="1162.5" cy="122.4" r="4.4"/>
<circle cx="1097.3" cy="146.5" r="4.4"/>
<circle cx="1205.1" cy="144.6" r="4.4"/>
<circle cx="1086" cy="148.8" r="4.4"/>
<circle cx="1142.9" cy="134.4" r="4.4"/>
<circle cx="1135.3" cy="133.7" r="4.4"/>
<circle cx="1020.4" cy="135.3" r="4.4"/>
<circle cx="1036.5" cy="143.6" r="4.4"/>
<circle cx="1125.2" cy="161" r="4.4"/>
<circle cx="1178.1" cy="155.5" r="4.4"/>
<circle cx="1229.8" cy="133.2" r="4.4"/>
<circle cx="1097.8" cy="131.6" r="4.4"/>
<circle cx="1039.9" cy="144.7" r="4.4"/>
<circle cx="1127.4" cy="127" r="4.4"/>
<circle cx="667.1" cy="159.9" r="4.4"/>
<circle cx="800.7" cy="157" r="4.4"/>
<circle cx="801.4" cy="243.4" r="4.4"/>
<circle cx="846.2" cy="148.7" r="4.4"/>
<circle cx="859.3" cy="135.6" r="4.4"/>
<circle cx="876.5" cy="165" r="4.4"/>
<circle cx="874" cy="180.9" r="4.4"/>
<circle cx="873" cy="192.4" r="4.4"/>
<circle cx="889" cy="147.8" r="4.4"/>
<circle cx="895.3" cy="146.2" r="4.4"/>
<circle cx="893.3" cy="213" r="4.4"/>
<circle cx="896.8" cy="238.1" r="4.4"/>
<circle cx="904.5" cy="120.5" r="4.4"/>
<circle cx="919.5" cy="112.6" r="4.4"/>
<circle cx="938.8" cy="121.3" r="4.4"/>
<circle cx="946.7" cy="121.5" r="4.4"/>
<circle cx="911.7" cy="139.9" r="4.4"/>
<circle cx="921.5" cy="134.3" r="4.4"/>
<circle cx="926.8" cy="133.6" r="4.4"/>
<circle cx="938.5" cy="139.1" r="4.4"/>
<circle cx="945.7" cy="132" r="4.4"/>
<circle cx="950.9" cy="146.5" r="4.4"/>
<circle cx="910" cy="155.1" r="4.4"/>
<circle cx="919.1" cy="164.6" r="4.4"/>
<circle cx="926.8" cy="158.8" r="4.4"/>
<circle cx="931.5" cy="163.5" r="4.4"/>
<circle cx="940.9" cy="157.2" r="4.4"/>
<circle cx="943.8" cy="160.2" r="4.4"/>
<circle cx="953" cy="162.5" r="4.4"/>
<circle cx="956.4" cy="169" r="4.4"/>
<circle cx="965.1" cy="163.5" r="4.4"/>
<circle cx="972.5" cy="159.3" r="4.4"/>
<circle cx="939.4" cy="225.3" r="4.4"/>
<circle cx="974.3" cy="192.7" r="4.4"/>
<circle cx="984.5" cy="190.8" r="4.4"/>
<circle cx="988.2" cy="192.9" r="4.4"/>
<circle cx="995" cy="182.4" r="4.4"/>
<circle cx="995.6" cy="189.8" r="4.4"/>
<circle cx="994" cy="193.5" r="4.4"/>
<circle cx="1000.3" cy="200.3" r="4.4"/>
<circle cx="1004.5" cy="201.3" r="4.4"/>
<circle cx="1008.2" cy="205" r="4.4"/>
<circle cx="1007.6" cy="210.3" r="4.4"/>
<circle cx="1004.8" cy="217.6" r="4.4"/>
<circle cx="1016.9" cy="229.2" r="4.4"/>
<circle cx="1010.3" cy="247.6" r="4.4"/>
<circle cx="1011.3" cy="267" r="4.4"/>
<circle cx="1036" cy="199.8" r="4.4"/>
<circle cx="1040.7" cy="220.3" r="4.4"/>
<circle cx="1057.9" cy="217.3" r="4.4"/>
<circle cx="1075.4" cy="221.8" r="4.4"/>
<circle cx="1077.5" cy="211.8" r="4.4"/>
<circle cx="1077" cy="204" r="4.4"/>
<circle cx="1068" cy="196.6" r="4.4"/>
<circle cx="1078" cy="194" r="4.4"/>
<circle cx="1062.3" cy="204.5" r="4.4"/>
<circle cx="1067.5" cy="204.5" r="4.4"/>
<circle cx="1084.3" cy="230.2" r="4.4"/>
<circle cx="1065.4" cy="238.9" r="4.4"/>
<circle cx="1069.6" cy="238.6" r="4.4"/>
<circle cx="1057" cy="289.6" r="4.4"/>
<circle cx="1049.1" cy="192.4" r="4.4"/>
<circle cx="1022.9" cy="190.8" r="4.4"/>
<circle cx="1014.5" cy="189.3" r="4.4"/>
<circle cx="1008.7" cy="186.1" r="4.4"/>
<circle cx="1005.5" cy="181.4" r="4.4"/>
<circle cx="1008.7" cy="176.1" r="4.4"/>
<circle cx="1018.2" cy="180" r="4.4"/>
<circle cx="1030.8" cy="179.8" r="4.4"/>
<circle cx="1039.2" cy="176.1" r="4.4"/>
<circle cx="1042.3" cy="188.2" r="4.4"/>
<circle cx="1047.6" cy="184.5" r="4.4"/>
<circle cx="980.3" cy="169.8" r="4.4"/>
<circle cx="977.7" cy="173.5" r="4.4"/>
<circle cx="980.9" cy="174" r="4.4"/>
<circle cx="990.8" cy="169.8" r="4.4"/>
<circle cx="999.2" cy="170.4" r="4.4"/>
<circle cx="955.1" cy="128.9" r="4.4"/>
<circle cx="960.4" cy="126.8" r="4.4"/>
<circle cx="969.3" cy="127.3" r="4.4"/>
<circle cx="980.3" cy="126.2" r="4.4"/>
<circle cx="991.4" cy="123.1" r="4.4"/>
<circle cx="999.2" cy="123.1" r="4.4"/>
<circle cx="1003.4" cy="126.2" r="4.4"/>
<circle cx="1019" cy="117.3" r="4.4"/>
<circle cx="1020.3" cy="125.7" r="4.4"/>
<circle cx="1011.8" cy="124.7" r="4.4"/>
<circle cx="1035" cy="124.7" r="4.4"/>
<circle cx="1040.7" cy="123.1" r="4.4"/>
<circle cx="1051.8" cy="115.7" r="4.4"/>
<circle cx="1054.9" cy="120.5" r="4.4"/>
<circle cx="1062.3" cy="119.9" r="4.4"/>
<circle cx="1072.2" cy="121.5" r="4.4"/>
<circle cx="1084.3" cy="122.6" r="4.4"/>
<circle cx="963.5" cy="133.1" r="4.4"/>
<circle cx="964.6" cy="140.4" r="4.4"/>
<circle cx="963.5" cy="149.9" r="4.4"/>
<circle cx="968.3" cy="153" r="4.4"/>
<circle cx="975.1" cy="141.5" r="4.4"/>
<circle cx="973" cy="134.1" r="4.4"/>
<circle cx="981.4" cy="132" r="4.4"/>
<circle cx="984.5" cy="140.4" r="4.4"/>
<circle cx="982.4" cy="154.1" r="4.4"/>
<circle cx="987.7" cy="148.8" r="4.4"/>
<circle cx="990.8" cy="157.2" r="4.4"/>
<circle cx="995" cy="163.5" r="4.4"/>
<circle cx="1000.3" cy="153" r="4.4"/>
<circle cx="1005.5" cy="144.6" r="4.4"/>
<circle cx="1007.6" cy="157.2" r="4.4"/>
<circle cx="1008.7" cy="166.7" r="4.4"/>
<circle cx="996.1" cy="136.2" r="4.4"/>
<circle cx="1001.3" cy="129.9" r="4.4"/>
<circle cx="1005.5" cy="134.1" r="4.4"/>
<circle cx="988.7" cy="129.9" r="4.4"/>
<circle cx="1052.8" cy="179.3" r="4.4"/>
<circle cx="1058.1" cy="184.5" r="4.4"/>
<circle cx="1063.3" cy="181.4" r="4.4"/>
<circle cx="1045.5" cy="177.2" r="4.4"/>
<circle cx="1084.3" cy="184.5" r="4.4"/>
<circle cx="1087.5" cy="195" r="4.4"/>
<circle cx="1080.1" cy="187.7" r="4.4"/>
<circle cx="1053.9" cy="169.8" r="4.4"/>
<circle cx="1068.6" cy="174" r="4.4"/>
<circle cx="1095.8" cy="249.9" r="4.4"/>
<circle cx="1121" cy="269.4" r="4.4"/>
<circle cx="1182.7" cy="268.6" r="4.4"/>
<circle cx="1206.1" cy="277.5" r="4.4"/>
<circle cx="1098.9" cy="287.5" r="4.4"/>
<circle cx="1106.8" cy="287" r="4.4"/>
<circle cx="1274.9" cy="228.7" r="4.4"/>
<circle cx="1212.4" cy="206.6" r="4.4"/>
<circle cx="1188.2" cy="204" r="4.4"/>
<circle cx="1188.2" cy="219" r="4.4"/>
<circle cx="1177.2" cy="218.7" r="4.4"/>
<circle cx="1166.1" cy="224.5" r="4.4"/>
<circle cx="1156.2" cy="213.9" r="4.4"/>
<circle cx="1149.3" cy="210.3" r="4.4"/>
<circle cx="1159.3" cy="202.9" r="4.4"/>
<circle cx="1161.9" cy="195" r="4.4"/>
<circle cx="1169.3" cy="197.1" r="4.4"/>
<circle cx="1174.5" cy="197.7" r="4.4"/>
<circle cx="1179.8" cy="198.2" r="4.4"/>
<circle cx="1143" cy="225" r="4.4"/>
<circle cx="1139.9" cy="220.3" r="4.4"/>
<circle cx="1133.6" cy="228.7" r="4.4"/>
<circle cx="1138.3" cy="223.9" r="4.4"/>
<circle cx="1123.1" cy="225" r="4.4"/>
<circle cx="1126.2" cy="218.2" r="4.4"/>
<circle cx="1131.5" cy="212.4" r="4.4"/>
<circle cx="1128.3" cy="206.6" r="4.4"/>
<circle cx="1126.7" cy="201.3" r="4.4"/>
<circle cx="1125.2" cy="199.2" r="4.4"/>
<circle cx="1108.9" cy="212.4" r="4.4"/>
<circle cx="1104.7" cy="206.1" r="4.4"/>
<circle cx="1113.6" cy="202.9" r="4.4"/>
<circle cx="1110.5" cy="196.1" r="4.4"/>
<circle cx="1092.6" cy="210.8" r="4.4"/>
<circle cx="1110.5" cy="185.6" r="4.4"/>
<circle cx="1145.1" cy="197.1" r="4.4"/>
<circle cx="1150.4" cy="186.6" r="4.4"/>
<circle cx="1156.7" cy="180.3" r="4.4"/>
<circle cx="1158.8" cy="175.1" r="4.4"/>
<circle cx="1173.5" cy="183" r="4.4"/>
<circle cx="1171.4" cy="188.7" r="4.4"/>
<circle cx="1188.7" cy="181.2" r="4.4"/>
<circle cx="1200.1" cy="185.6" r="4.4"/>
<circle cx="1225.5" cy="182.2" r="4.4"/>
<circle cx="1236" cy="183" r="4.4"/>
<circle cx="1239.7" cy="188.7" r="4.4"/>
<circle cx="1247.5" cy="183" r="4.4"/>
<circle cx="1196.6" cy="167.7" r="4.4"/>
<circle cx="1205.5" cy="170.9" r="4.4"/>
<circle cx="1213.7" cy="171.7" r="4.4"/>
<circle cx="1214.5" cy="159.9" r="4.4"/>
<circle cx="1220.2" cy="163" r="4.4"/>
<circle cx="1226" cy="171.4" r="4.4"/>
<circle cx="1230.2" cy="170.9" r="4.4"/>
<circle cx="1232.3" cy="169.3" r="4.4"/>
<circle cx="1233.9" cy="150.9" r="4.4"/>
<circle cx="1259.8" cy="163.3" r="4.4"/>
<circle cx="1200.6" cy="116.8" r="4.4"/>
<circle cx="1220" cy="115.2" r="4.4"/>
<circle cx="1227.1" cy="121" r="4.4"/>
<circle cx="1259.1" cy="121.5" r="4.4"/>
<circle cx="1265.9" cy="125.2" r="4.4"/>
<circle cx="1278.5" cy="126.2" r="4.4"/>
<circle cx="1249.1" cy="132" r="4.4"/>
<circle cx="1260.7" cy="132" r="4.4"/>
<circle cx="1255.4" cy="136.2" r="4.4"/>
<circle cx="1264.9" cy="142" r="4.4"/>
<circle cx="1273.3" cy="136.2" r="4.4"/>
<circle cx="1244.9" cy="138.8" r="4.4"/>
<circle cx="1236.5" cy="136.2" r="4.4"/>
<circle cx="1227.1" cy="129.9" r="4.4"/>
<circle cx="1212.9" cy="129.9" r="4.4"/>
<circle cx="1217.6" cy="132" r="4.4"/>
<circle cx="1221.8" cy="136.2" r="4.4"/>
<circle cx="1229.2" cy="137.3" r="4.4"/>
<circle cx="1217.6" cy="143.6" r="4.4"/>
<circle cx="1210.3" cy="138.3" r="4.4"/>
<circle cx="1203.9" cy="131" r="4.4"/>
<circle cx="1199.7" cy="124.7" r="4.4"/>
<circle cx="1097.9" cy="118.4" r="4.4"/>
<circle cx="1110.5" cy="117.3" r="4.4"/>
<circle cx="1120.4" cy="114.7" r="4.4"/>
<circle cx="1136.7" cy="117.8" r="4.4"/>
<circle cx="1143" cy="120.5" r="4.4"/>
<circle cx="1150.4" cy="121.5" r="4.4"/>
<circle cx="1165.1" cy="121" r="4.4"/>
<circle cx="1174.5" cy="119.4" r="4.4"/>
<circle cx="1180.8" cy="121.5" r="4.4"/>
<circle cx="1188.2" cy="122.6" r="4.4"/>
<circle cx="1193.4" cy="126.8" r="4.4"/>
<circle cx="1195.5" cy="157.2" r="4.4"/>
<circle cx="1200.8" cy="153" r="4.4"/>
<circle cx="1206.1" cy="148.8" r="4.4"/>
<circle cx="1190.3" cy="161.4" r="4.4"/>
<circle cx="1185" cy="165.6" r="4.4"/>
<circle cx="1179.8" cy="169.8" r="4.4"/>
<circle cx="1174.5" cy="174" r="4.4"/>
<circle cx="1172.4" cy="171.9" r="4.4"/>
<circle cx="1198.7" cy="140.4" r="4.4"/>
<circle cx="1201.8" cy="144.6" r="4.4"/>
<circle cx="1195.5" cy="134.1" r="4.4"/>
<circle cx="1138.8" cy="189.8" r="4.4"/>
<circle cx="1132.5" cy="187.7" r="4.4"/>
<circle cx="1129.4" cy="190.8" r="4.4"/>
<circle cx="1143" cy="184.5" r="4.4"/>
<circle cx="1101" cy="189.8" r="4.4"/>
<circle cx="1095.8" cy="195" r="4.4"/>
<circle cx="1090.5" cy="199.2" r="4.4"/>
<circle cx="1087.4" cy="192.9" r="4.4"/>
<circle cx="1096.8" cy="184.5" r="4.4"/>
<circle cx="1093.7" cy="201.3" r="4.4"/>
<circle cx="1279.2" cy="134" r="4.4"/>
<circle cx="1293.4" cy="126.5" r="4.4"/>
<circle cx="1290.1" cy="141.9" r="4.4"/>
<circle cx="1300.9" cy="157.2" r="4.4"/>
<circle cx="1329.1" cy="155.9" r="4.4"/>
<circle cx="1337.4" cy="138.6" r="4.4"/>
<circle cx="1379.9" cy="123.9" r="4.4"/>
<circle cx="1372.8" cy="160.9" r="4.4"/>
<circle cx="1363" cy="175.7" r="4.4"/>
<circle cx="1371.1" cy="177.3" r="4.4"/>
<circle cx="1370.4" cy="202.7" r="4.4"/>
<circle cx="1304.4" cy="210.5" r="4.4"/>
<circle cx="1298.2" cy="264.4" r="4.4"/>
<circle cx="1334.6" cy="263.6" r="4.4"/>
<circle cx="1106" cy="304.7" r="4.4"/>
<circle cx="1015.4" cy="716.9" r="4.4"/>
<circle cx="1008.1" cy="726.2" r="4.4"/>
<circle cx="998.2" cy="745" r="4.4"/>
<circle cx="994.4" cy="731.9" r="4.4"/>
<circle cx="992.9" cy="751.6" r="4.4"/>
<circle cx="983.8" cy="741.3" r="4.4"/>
<circle cx="1015" cy="734.7" r="4.4"/>
<circle cx="984.7" cy="746.8" r="4.4"/>
<circle cx="980.8" cy="719.4" r="4.4"/>
<circle cx="989.5" cy="733.9" r="4.4"/>
<circle cx="977.5" cy="752.6" r="4.4"/>
<circle cx="998.5" cy="750.6" r="4.4"/>
<circle cx="1002.1" cy="718.7" r="4.4"/>
<circle cx="1015.7" cy="751.5" r="4.4"/>
<circle cx="987.4" cy="717.9" r="4.4"/>
<circle cx="1001.4" cy="737.2" r="4.4"/>
<circle cx="971.3" cy="744.3" r="4.4"/>
<circle cx="1012.5" cy="746.8" r="4.4"/>
<circle cx="1015.4" cy="727.5" r="4.4"/>
<circle cx="1002.7" cy="756" r="4.4"/>
<circle cx="964.4" cy="735.6" r="4.4"/>
<circle cx="983.4" cy="727.1" r="4.4"/>
<circle cx="959.9" cy="742.7" r="4.4"/>
<circle cx="968.3" cy="729" r="4.4"/>
<circle cx="1006.8" cy="751.7" r="4.4"/>
<circle cx="994.9" cy="725.9" r="4.4"/>
<circle cx="964.8" cy="743.8" r="4.4"/>
<circle cx="993.1" cy="741.3" r="4.4"/>
<circle cx="959.1" cy="734.1" r="4.4"/>
<circle cx="960" cy="751.5" r="4.4"/>
<circle cx="971.9" cy="739" r="4.4"/>
<circle cx="973" cy="732.6" r="4.4"/>
<circle cx="983.4" cy="735.4" r="4.4"/>
<circle cx="982.5" cy="753.7" r="4.4"/>
<circle cx="968.9" cy="754.5" r="4.4"/>
<circle cx="1006.2" cy="742.5" r="4.4"/>
<circle cx="1006.7" cy="728.7" r="4.4"/>
<circle cx="1011.9" cy="720.8" r="4.4"/>
<circle cx="988.9" cy="739.4" r="4.4"/>
<circle cx="1016.3" cy="732.3" r="4.4"/>
<circle cx="1015" cy="753.2" r="4.4"/>
<circle cx="1002.1" cy="748" r="4.4"/>
<circle cx="1004.3" cy="735.2" r="4.4"/>
<circle cx="988.4" cy="749.1" r="4.4"/>
<circle cx="996.4" cy="721.9" r="4.4"/>
<circle cx="1011" cy="751.4" r="4.4"/>
<circle cx="1006.5" cy="752.7" r="4.4"/>
<circle cx="988.1" cy="723.6" r="4.4"/>
<circle cx="994.3" cy="749.2" r="4.4"/>
<circle cx="1017.5" cy="723.6" r="4.4"/>
<circle cx="1004.2" cy="731.2" r="4.4"/>
<circle cx="1008.7" cy="719.9" r="4.4"/>
<circle cx="1014.8" cy="745.9" r="4.4"/>
<circle cx="998.8" cy="751.1" r="4.4"/>
<circle cx="992.4" cy="755.1" r="4.4"/>
<circle cx="997" cy="734.1" r="4.4"/>
<circle cx="988.1" cy="731.2" r="4.4"/>
<circle cx="998.1" cy="745.5" r="4.4"/>
<circle cx="1012.6" cy="738.9" r="4.4"/>
<circle cx="997.5" cy="738.8" r="4.4"/>
<circle cx="1009.1" cy="755.4" r="4.4"/>
<circle cx="1017.3" cy="756.7" r="4.4"/>
<circle cx="1086.5" cy="694.5" r="4.4"/>
<circle cx="1100.1" cy="692.9" r="4.4"/>
<circle cx="1126.4" cy="706.9" r="4.4"/>
<circle cx="1088.7" cy="702.5" r="4.4"/>
<circle cx="1148.2" cy="696.2" r="4.4"/>
<circle cx="1140.1" cy="693.2" r="4.4"/>
<circle cx="1152.5" cy="706.1" r="4.4"/>
<circle cx="1076" cy="703" r="4.4"/>
<circle cx="1126.5" cy="700.8" r="4.4"/>
<circle cx="1114.2" cy="698.6" r="4.4"/>
<circle cx="1131.1" cy="704.4" r="4.4"/>
<circle cx="1091.4" cy="707" r="4.4"/>
<circle cx="1104.3" cy="704.7" r="4.4"/>
<circle cx="1092.3" cy="688.6" r="4.4"/>
<circle cx="1136" cy="700" r="4.4"/>
<circle cx="1082.3" cy="698" r="4.4"/>
<circle cx="1094.3" cy="683.7" r="4.4"/>
<circle cx="1154.4" cy="698.8" r="4.4"/>
<circle cx="1109.4" cy="695.1" r="4.4"/>
<circle cx="1128.3" cy="693.1" r="4.4"/>
<circle cx="1099.5" cy="700.5" r="4.4"/>
<circle cx="1092.9" cy="698.8" r="4.4"/>
<circle cx="1141.5" cy="707.9" r="4.4"/>
<circle cx="1144.8" cy="702.4" r="4.4"/>
<circle cx="1116.6" cy="703.6" r="4.4"/>
<circle cx="1105.2" cy="698" r="4.4"/>
<circle cx="1157.5" cy="702.8" r="4.4"/>
<circle cx="1085.4" cy="706.8" r="4.4"/>
<circle cx="1079.6" cy="688" r="4.4"/>
<circle cx="1067.1" cy="701.5" r="4.4"/>
<circle cx="1061.6" cy="720.4" r="4.4"/>
<circle cx="1086.4" cy="719.3" r="4.4"/>
<circle cx="1035.3" cy="714.2" r="4.4"/>
<circle cx="1143.6" cy="717.9" r="4.4"/>
<circle cx="1108.2" cy="716.8" r="4.4"/>
<circle cx="1051.8" cy="720.4" r="4.4"/>
<circle cx="1149.1" cy="718.5" r="4.4"/>
<circle cx="1073" cy="709.4" r="4.4"/>
<circle cx="1161.4" cy="720.8" r="4.4"/>
<circle cx="1118.9" cy="708.5" r="4.4"/>
<circle cx="1103.4" cy="718.9" r="4.4"/>
<circle cx="1098.4" cy="720.7" r="4.4"/>
<circle cx="1165.9" cy="710.6" r="4.4"/>
<circle cx="1103.8" cy="713.9" r="4.4"/>
<circle cx="1117.8" cy="713.5" r="4.4"/>
<circle cx="1050" cy="716.2" r="4.4"/>
<circle cx="1068.5" cy="711.4" r="4.4"/>
<circle cx="1098" cy="715.4" r="4.4"/>
<circle cx="1123.1" cy="716.8" r="4.4"/>
<circle cx="1080.2" cy="706.9" r="4.4"/>
<circle cx="1143.6" cy="709.7" r="4.4"/>
<circle cx="1061.8" cy="715.6" r="4.4"/>
<circle cx="1088.6" cy="702.8" r="4.4"/>
<circle cx="1070.5" cy="718.6" r="4.4"/>
<circle cx="1093.8" cy="719.7" r="4.4"/>
<circle cx="1031.9" cy="719" r="4.4"/>
<circle cx="1129.9" cy="719.5" r="4.4"/>
<circle cx="1044" cy="711.5" r="4.4"/>
<circle cx="1063.5" cy="703.9" r="4.4"/>
<circle cx="1153.8" cy="712.1" r="4.4"/>
<circle cx="1147.6" cy="707" r="4.4"/>
<circle cx="1057.7" cy="704.3" r="4.4"/>
<circle cx="1126.5" cy="708.2" r="4.4"/>
<circle cx="1173.2" cy="721" r="4.4"/>
<circle cx="1168" cy="722.3" r="4.4"/>
<circle cx="1161.1" cy="711" r="4.4"/>
<circle cx="1153.3" cy="720.8" r="4.4"/>
<circle cx="1071.9" cy="705" r="4.4"/>
<circle cx="1109" cy="703.6" r="4.4"/>
<circle cx="1100.4" cy="707.6" r="4.4"/>
<circle cx="1097.4" cy="703.5" r="4.4"/>
<circle cx="1037.8" cy="719.6" r="4.4"/>
<circle cx="1052.8" cy="708.9" r="4.4"/>
<circle cx="1075.6" cy="716.3" r="4.4"/>
<circle cx="1113.9" cy="702.9" r="4.4"/>
<circle cx="1087.9" cy="710" r="4.4"/>
<circle cx="1132.5" cy="709.7" r="4.4"/>
<circle cx="1111.8" cy="708" r="4.4"/>
<circle cx="1137.2" cy="711" r="4.4"/>
<circle cx="1158.5" cy="715.7" r="4.4"/>
<circle cx="1085" cy="713.7" r="4.4"/>
<circle cx="1061" cy="711" r="4.4"/>
<circle cx="1166.3" cy="716.2" r="4.4"/>
<circle cx="1125.3" cy="703.8" r="4.4"/>
<circle cx="1138.6" cy="721.9" r="4.4"/>
<circle cx="1113.9" cy="718.5" r="4.4"/>
<circle cx="1080.2" cy="713.2" r="4.4"/>
<circle cx="1092.7" cy="705.8" r="4.4"/>
<circle cx="1179.2" cy="721.9" r="4.4"/>
<circle cx="1139.3" cy="706.7" r="4.4"/>
<circle cx="1046.8" cy="722.6" r="4.4"/>
<circle cx="1181.4" cy="749.9" r="4.4"/>
<circle cx="1124" cy="740.9" r="4.4"/>
<circle cx="1157.4" cy="725.3" r="4.4"/>
<circle cx="1196.9" cy="741.7" r="4.4"/>
<circle cx="1113.3" cy="728.4" r="4.4"/>
<circle cx="1067" cy="718.1" r="4.4"/>
<circle cx="1023.4" cy="736.7" r="4.4"/>
<circle cx="1219" cy="744.1" r="4.4"/>
<circle cx="1064.4" cy="742.2" r="4.4"/>
<circle cx="1024.2" cy="751.4" r="4.4"/>
<circle cx="1111.7" cy="738.8" r="4.4"/>
<circle cx="1067.9" cy="751" r="4.4"/>
<circle cx="1064.8" cy="740.5" r="4.4"/>
<circle cx="1080" cy="760.6" r="4.4"/>
<circle cx="1197.2" cy="736" r="4.4"/>
<circle cx="1155.5" cy="753" r="4.4"/>
<circle cx="1043.9" cy="746.3" r="4.4"/>
<circle cx="1172.4" cy="728.9" r="4.4"/>
<circle cx="1218.4" cy="742.2" r="4.4"/>
<circle cx="1195.6" cy="730.8" r="4.4"/>
<circle cx="1082.9" cy="734.6" r="4.4"/>
<circle cx="1126.1" cy="734.5" r="4.4"/>
<circle cx="1025.4" cy="750.4" r="4.4"/>
<circle cx="1188.6" cy="742.5" r="4.4"/>
<circle cx="1055" cy="736.4" r="4.4"/>
<circle cx="1168.5" cy="730.6" r="4.4"/>
<circle cx="1098.2" cy="741.4" r="4.4"/>
<circle cx="1126.8" cy="725.8" r="4.4"/>
<circle cx="1129.5" cy="743.5" r="4.4"/>
<circle cx="1122.8" cy="760.2" r="4.4"/>
<circle cx="1027.3" cy="729.2" r="4.4"/>
<circle cx="1102.2" cy="753.8" r="4.4"/>
<circle cx="1125.5" cy="716.4" r="4.4"/>
<circle cx="1182.9" cy="736.8" r="4.4"/>
<circle cx="1202.1" cy="750.9" r="4.4"/>
<circle cx="1127.9" cy="717.8" r="4.4"/>
<circle cx="1141.6" cy="740.5" r="4.4"/>
<circle cx="1075.6" cy="736.4" r="4.4"/>
<circle cx="1191.2" cy="737.7" r="4.4"/>
<circle cx="1138.1" cy="742" r="4.4"/>
<circle cx="1030" cy="721.6" r="4.4"/>
<circle cx="1140" cy="752.4" r="4.4"/>
<circle cx="1126" cy="739.3" r="4.4"/>
<circle cx="1094.4" cy="745.7" r="4.4"/>
<circle cx="1133.2" cy="732.9" r="4.4"/>
<circle cx="1149.1" cy="740.5" r="4.4"/>
<circle cx="1024" cy="751" r="4.4"/>
<circle cx="1055.9" cy="734.7" r="4.4"/>
<circle cx="1072.6" cy="722.9" r="4.4"/>
<circle cx="1162" cy="757.8" r="4.4"/>
<circle cx="1179.7" cy="750.1" r="4.4"/>
<circle cx="1041.4" cy="732.9" r="4.4"/>
<circle cx="1091.7" cy="758.4" r="4.4"/>
<circle cx="1052.2" cy="737.3" r="4.4"/>
<circle cx="1054" cy="749" r="4.4"/>
<circle cx="1170.3" cy="740.7" r="4.4"/>
<circle cx="1086.9" cy="739.8" r="4.4"/>
<circle cx="1023.1" cy="743.8" r="4.4"/>
<circle cx="1108.1" cy="753" r="4.4"/>
<circle cx="1041.3" cy="720.2" r="4.4"/>
<circle cx="1127.2" cy="752" r="4.4"/>
<circle cx="1147.6" cy="724" r="4.4"/>
<circle cx="1049.3" cy="728.5" r="4.4"/>
<circle cx="1052.3" cy="729.2" r="4.4"/>
<circle cx="1163.1" cy="736.5" r="4.4"/>
<circle cx="1065.2" cy="716.7" r="4.4"/>
<circle cx="1188.7" cy="737.8" r="4.4"/>
<circle cx="1065.8" cy="731.8" r="4.4"/>
<circle cx="1102.5" cy="735.1" r="4.4"/>
<circle cx="1086.7" cy="732.6" r="4.4"/>
<circle cx="1030.6" cy="747.9" r="4.4"/>
<circle cx="1083.6" cy="722.1" r="4.4"/>
<circle cx="1084.4" cy="718.4" r="4.4"/>
<circle cx="1177.2" cy="742.5" r="4.4"/>
<circle cx="1140" cy="753.7" r="4.4"/>
<circle cx="1168.7" cy="738.2" r="4.4"/>
<circle cx="1098.9" cy="745.6" r="4.4"/>
<circle cx="1062" cy="730.6" r="4.4"/>
<circle cx="1110.7" cy="752.7" r="4.4"/>
<circle cx="1040.3" cy="731" r="4.4"/>
<circle cx="1081.4" cy="738.6" r="4.4"/>
<circle cx="1087.6" cy="721.5" r="4.4"/>
<circle cx="1061" cy="746.5" r="4.4"/>
<circle cx="1090.6" cy="751.8" r="4.4"/>
<circle cx="1162.3" cy="723.1" r="4.4"/>
<circle cx="1217.5" cy="745.8" r="4.4"/>
<circle cx="1121.7" cy="716.3" r="4.4"/>
<circle cx="1068.2" cy="728.2" r="4.4"/>
<circle cx="1036.1" cy="753.8" r="4.4"/>
<circle cx="1213" cy="751.8" r="4.4"/>
<circle cx="1180.5" cy="734" r="4.4"/>
<circle cx="1198" cy="744.7" r="4.4"/>
<circle cx="1090.8" cy="748.2" r="4.4"/>
<circle cx="1203.6" cy="733.8" r="4.4"/>
<circle cx="1047" cy="736.2" r="4.4"/>
<circle cx="1033.7" cy="721.8" r="4.4"/>
<circle cx="1091" cy="733.3" r="4.4"/>
<circle cx="1185.3" cy="744.2" r="4.4"/>
<circle cx="1140.1" cy="751.3" r="4.4"/>
<circle cx="1035.5" cy="749.3" r="4.4"/>
<circle cx="1216" cy="740.5" r="4.4"/>
<circle cx="1077.3" cy="725.4" r="4.4"/>
<circle cx="1161.5" cy="757.4" r="4.4"/>
<circle cx="1042.6" cy="720.9" r="4.4"/>
<circle cx="1026.6" cy="750.6" r="4.4"/>
<circle cx="1229.5" cy="742.2" r="4.4"/>
<circle cx="1042.7" cy="753.9" r="4.4"/>
<circle cx="1069.7" cy="727.4" r="4.4"/>
<circle cx="1040" cy="719.7" r="4.4"/>
<circle cx="1099" cy="717" r="4.4"/>
<circle cx="1212.6" cy="748.1" r="4.4"/>
<circle cx="1072.2" cy="739.7" r="4.4"/>
<circle cx="1039.4" cy="731.6" r="4.4"/>
<circle cx="1228.3" cy="748" r="4.4"/>
<circle cx="1145.7" cy="740.9" r="4.4"/>
<circle cx="1085" cy="758.7" r="4.4"/>
<circle cx="1064.1" cy="733.2" r="4.4"/>
<circle cx="1165.3" cy="731.2" r="4.4"/>
<circle cx="1073.4" cy="736.7" r="4.4"/>
<circle cx="1083.8" cy="750.3" r="4.4"/>
<circle cx="1035.4" cy="748.7" r="4.4"/>
<circle cx="1228.4" cy="741" r="4.4"/>
<circle cx="1157.5" cy="732" r="4.4"/>
<circle cx="1219.3" cy="743.6" r="4.4"/>
<circle cx="1083.7" cy="746.5" r="4.4"/>
<circle cx="1085.8" cy="722.6" r="4.4"/>
<circle cx="1209.2" cy="747.7" r="4.4"/>
<circle cx="1089.5" cy="736.6" r="4.4"/>
<circle cx="1141.9" cy="734.2" r="4.4"/>
<circle cx="1070.5" cy="760.7" r="4.4"/>
<circle cx="1070.2" cy="758.3" r="4.4"/>
<circle cx="1136" cy="758.3" r="4.4"/>
<circle cx="1034.1" cy="732.4" r="4.4"/>
<circle cx="1080.2" cy="725.2" r="4.4"/>
<circle cx="1123.6" cy="721.9" r="4.4"/>
<circle cx="1051" cy="738.5" r="4.4"/>
<circle cx="1188.1" cy="758.1" r="4.4"/>
<circle cx="1193.8" cy="746.9" r="4.4"/>
<circle cx="1040.9" cy="737.9" r="4.4"/>
<circle cx="1214.7" cy="748.1" r="4.4"/>
<circle cx="1085.6" cy="720.1" r="4.4"/>
<circle cx="1165.6" cy="753.4" r="4.4"/>
<circle cx="1110.6" cy="754.3" r="4.4"/>
<circle cx="1171" cy="730.9" r="4.4"/>
<circle cx="1072.1" cy="758.6" r="4.4"/>
<circle cx="1135.5" cy="736.7" r="4.4"/>
<circle cx="1200.2" cy="740.7" r="4.4"/>
<circle cx="1102.7" cy="746" r="4.4"/>
<circle cx="1073.2" cy="760.5" r="4.4"/>
<circle cx="1156.3" cy="742.4" r="4.4"/>
<circle cx="1140.1" cy="758.7" r="4.4"/>
<circle cx="1094" cy="755.2" r="4.4"/>
<circle cx="1044.8" cy="749.7" r="4.4"/>
<circle cx="1195.4" cy="743.3" r="4.4"/>
<circle cx="1103.8" cy="733.4" r="4.4"/>
<circle cx="1131.1" cy="738.6" r="4.4"/>
<circle cx="1156.9" cy="741.4" r="4.4"/>
<circle cx="1164.9" cy="728" r="4.4"/>
<circle cx="1069" cy="738.8" r="4.4"/>
<circle cx="1120.5" cy="751.2" r="4.4"/>
<circle cx="1106.2" cy="735.8" r="4.4"/>
<circle cx="1076.9" cy="731.9" r="4.4"/>
<circle cx="1127.5" cy="721.2" r="4.4"/>
<circle cx="1052.1" cy="726.4" r="4.4"/>
<circle cx="1207" cy="747.3" r="4.4"/>
<circle cx="1166.2" cy="722.5" r="4.4"/>
<circle cx="1097.5" cy="729.3" r="4.4"/>
<circle cx="1175.6" cy="734.2" r="4.4"/>
<circle cx="1055.7" cy="750.1" r="4.4"/>
<circle cx="1064.6" cy="735.4" r="4.4"/>
<circle cx="1180.2" cy="759.2" r="4.4"/>
<circle cx="1163.9" cy="728.6" r="4.4"/>
<circle cx="1092.5" cy="737.9" r="4.4"/>
<circle cx="1053.3" cy="728" r="4.4"/>
<circle cx="1190.9" cy="732.7" r="4.4"/>
<circle cx="1075.3" cy="719.6" r="4.4"/>
<circle cx="1159.2" cy="729.4" r="4.4"/>
<circle cx="1113.2" cy="719.1" r="4.4"/>
<circle cx="1225.8" cy="744" r="4.4"/>
<circle cx="1189.8" cy="741.7" r="4.4"/>
<circle cx="1053.3" cy="746.6" r="4.4"/>
<circle cx="1045" cy="719.8" r="4.4"/>
<circle cx="1146.5" cy="742.8" r="4.4"/>
<circle cx="1043.3" cy="748" r="4.4"/>
<circle cx="1071.1" cy="727.1" r="4.4"/>
<circle cx="1018.9" cy="752.9" r="4.4"/>
<circle cx="1111.9" cy="760.6" r="4.4"/>
<circle cx="1152.3" cy="733.7" r="4.4"/>
<circle cx="1196.8" cy="752.1" r="4.4"/>
<circle cx="1078.9" cy="736.7" r="4.4"/>
<circle cx="1076.5" cy="734.7" r="4.4"/>
<circle cx="1071.7" cy="730.2" r="4.4"/>
<circle cx="1123" cy="722.2" r="4.4"/>
<circle cx="1182.6" cy="735.4" r="4.4"/>
<circle cx="1100" cy="748.5" r="4.4"/>
<circle cx="1041.1" cy="724.5" r="4.4"/>
<circle cx="1043.3" cy="727.2" r="4.4"/>
<circle cx="1134.7" cy="717.2" r="4.4"/>
<circle cx="1047.2" cy="738.6" r="4.4"/>
<circle cx="1140.5" cy="747.3" r="4.4"/>
<circle cx="1125.6" cy="745.2" r="4.4"/>
<circle cx="1112.7" cy="740.9" r="4.4"/>
<circle cx="1083.2" cy="743.2" r="4.4"/>
<circle cx="1185.6" cy="730.2" r="4.4"/>
<circle cx="1123.4" cy="731.8" r="4.4"/>
<circle cx="1098.8" cy="752.2" r="4.4"/>
<circle cx="1018.8" cy="748.8" r="4.4"/>
<circle cx="1146" cy="721" r="4.4"/>
<circle cx="1195.5" cy="738.1" r="4.4"/>
<circle cx="1196.6" cy="742.8" r="4.4"/>
<circle cx="1083.3" cy="753.8" r="4.4"/>
<circle cx="1150.7" cy="737.2" r="4.4"/>
<circle cx="1094.9" cy="761.4" r="4.4"/>
<circle cx="1101.3" cy="742" r="4.4"/>
<circle cx="1104.7" cy="722" r="4.4"/>
<circle cx="1143.1" cy="727.8" r="4.4"/>
<circle cx="1123.4" cy="727.3" r="4.4"/>
<circle cx="1155" cy="731.8" r="4.4"/>
<circle cx="1152.8" cy="742.9" r="4.4"/>
<circle cx="1152.7" cy="732.4" r="4.4"/>
<circle cx="1192.5" cy="733.7" r="4.4"/>
<circle cx="1092.8" cy="749.4" r="4.4"/>
<circle cx="1169.5" cy="721.4" r="4.4"/>
<circle cx="1134.5" cy="754.6" r="4.4"/>
<circle cx="1196.3" cy="739.3" r="4.4"/>
<circle cx="1118" cy="759.5" r="4.4"/>
<circle cx="1127.2" cy="727.3" r="4.4"/>
<circle cx="1108.4" cy="745.3" r="4.4"/>
<circle cx="1126.5" cy="718.1" r="4.4"/>
<circle cx="1165.8" cy="743.1" r="4.4"/>
<circle cx="1165.4" cy="733.8" r="4.4"/>
<circle cx="1062.7" cy="752" r="4.4"/>
<circle cx="1207.6" cy="749.2" r="4.4"/>
<circle cx="1034" cy="723.4" r="4.4"/>
<circle cx="1130" cy="744.7" r="4.4"/>
<circle cx="1127.5" cy="727.7" r="4.4"/>
<circle cx="1054.1" cy="731.6" r="4.4"/>
<circle cx="1170.7" cy="724.1" r="4.4"/>
<circle cx="1075.7" cy="733.6" r="4.4"/>
<circle cx="1067.7" cy="735.8" r="4.4"/>
<circle cx="1054.9" cy="725.3" r="4.4"/>
<circle cx="1203.5" cy="746.4" r="4.4"/>
<circle cx="1065.6" cy="717.3" r="4.4"/>
<circle cx="1169.2" cy="722.8" r="4.4"/>
<circle cx="1024.5" cy="720.2" r="4.4"/>
<circle cx="1151.2" cy="747" r="4.4"/>
<circle cx="1110.4" cy="726.6" r="4.4"/>
<circle cx="1186.1" cy="752.9" r="4.4"/>
<circle cx="1151.9" cy="754" r="4.4"/>
<circle cx="1226.2" cy="741.2" r="4.4"/>
<circle cx="1147.7" cy="749.5" r="4.4"/>
<circle cx="1130.7" cy="755.2" r="4.4"/>
<circle cx="1047.6" cy="728.7" r="4.4"/>
<circle cx="1095.3" cy="727" r="4.4"/>
<circle cx="1069.5" cy="728.6" r="4.4"/>
<circle cx="1171.8" cy="747.5" r="4.4"/>
<circle cx="1040.8" cy="743.3" r="4.4"/>
<circle cx="1123.4" cy="757" r="4.4"/>
<circle cx="1058" cy="759.1" r="4.4"/>
<circle cx="1145.9" cy="720.7" r="4.4"/>
<circle cx="1064.3" cy="760" r="4.4"/>
<circle cx="1168.6" cy="724.1" r="4.4"/>
<circle cx="1091.3" cy="723.1" r="4.4"/>
<circle cx="1043.3" cy="729.7" r="4.4"/>
<circle cx="1038.4" cy="743.2" r="4.4"/>
<circle cx="1123.9" cy="744.2" r="4.4"/>
<circle cx="1054.1" cy="750.9" r="4.4"/>
<circle cx="1193.5" cy="740.3" r="4.4"/>
<circle cx="1142.1" cy="751.9" r="4.4"/>
<circle cx="1171" cy="746.4" r="4.4"/>
<circle cx="1145" cy="719.8" r="4.4"/>
<circle cx="1086.4" cy="744" r="4.4"/>
<circle cx="1142.2" cy="719.3" r="4.4"/>
<circle cx="1103.6" cy="721.1" r="4.4"/>
<circle cx="1180.3" cy="754.6" r="4.4"/>
<circle cx="1049.1" cy="731" r="4.4"/>
<circle cx="1030.2" cy="744.1" r="4.4"/>
<circle cx="1045.8" cy="740.3" r="4.4"/>
<circle cx="1076.5" cy="756.2" r="4.4"/>
<circle cx="1154.4" cy="727.3" r="4.4"/>
<circle cx="1165" cy="722.7" r="4.4"/>
<circle cx="1159.9" cy="743.7" r="4.4"/>
<circle cx="1155.3" cy="750.4" r="4.4"/>
<circle cx="1144.4" cy="745.5" r="4.4"/>
<circle cx="1147.5" cy="735.8" r="4.4"/>
<circle cx="1129.7" cy="758.8" r="4.4"/>
<circle cx="1093.6" cy="742.6" r="4.4"/>
<circle cx="1060.7" cy="721.1" r="4.4"/>
<circle cx="1108.8" cy="731.1" r="4.4"/>
<circle cx="1170.7" cy="727.4" r="4.4"/>
<circle cx="1172.3" cy="727" r="4.4"/>
<circle cx="1071.8" cy="716.7" r="4.4"/>
<circle cx="1050.3" cy="719.3" r="4.4"/>
<circle cx="1029.3" cy="757.4" r="4.4"/>
<circle cx="1192" cy="740" r="4.4"/>
<circle cx="1097.2" cy="716.3" r="4.4"/>
<circle cx="1026.6" cy="737.2" r="4.4"/>
<circle cx="1112.9" cy="755.7" r="4.4"/>
<circle cx="1102.6" cy="729" r="4.4"/>
<circle cx="1130.2" cy="757.4" r="4.4"/>
<circle cx="1189.3" cy="757.7" r="4.4"/>
<circle cx="1025.3" cy="743.9" r="4.4"/>
<circle cx="1174.8" cy="747.2" r="4.4"/>
<circle cx="1045.8" cy="725" r="4.4"/>
<circle cx="1083" cy="742.1" r="4.4"/>
<circle cx="1070.5" cy="736" r="4.4"/>
<circle cx="1088.6" cy="746" r="4.4"/>
<circle cx="1143" cy="756.8" r="4.4"/>
<circle cx="1157.7" cy="741" r="4.4"/>
<circle cx="1196.6" cy="729.3" r="4.4"/>
<circle cx="1132.6" cy="720.3" r="4.4"/>
<circle cx="1196" cy="748.2" r="4.4"/>
<circle cx="1051.6" cy="744.6" r="4.4"/>
<circle cx="1129.5" cy="757.1" r="4.4"/>
<circle cx="1091.9" cy="735.2" r="4.4"/>
<circle cx="1027.3" cy="724.1" r="4.4"/>
<circle cx="1157.3" cy="747.2" r="4.4"/>
<circle cx="1081.8" cy="745.4" r="4.4"/>
<circle cx="1087.6" cy="727.2" r="4.4"/>
<circle cx="1125.2" cy="737.4" r="4.4"/>
<circle cx="1049.8" cy="719.5" r="4.4"/>
<circle cx="1087.7" cy="746.5" r="4.4"/>
<circle cx="1120.7" cy="719.6" r="4.4"/>
<circle cx="1046.8" cy="737.5" r="4.4"/>
<circle cx="1185.8" cy="729.3" r="4.4"/>
<circle cx="1177.8" cy="745" r="4.4"/>
<circle cx="1104.2" cy="740.2" r="4.4"/>
<circle cx="1053.9" cy="754.8" r="4.4"/>
<circle cx="1165.1" cy="735.7" r="4.4"/>
<circle cx="1212.1" cy="753.1" r="4.4"/>
<circle cx="1106" cy="728.1" r="4.4"/>
<circle cx="1028.7" cy="757" r="4.4"/>
<circle cx="1134.8" cy="749.4" r="4.4"/>
<circle cx="1040.9" cy="749.6" r="4.4"/>
<circle cx="1153.3" cy="737.4" r="4.4"/>
<circle cx="1200" cy="732" r="4.4"/>
<circle cx="1055.1" cy="722" r="4.4"/>
<circle cx="1022.7" cy="744.7" r="4.4"/>
<circle cx="1078.7" cy="720.6" r="4.4"/>
<circle cx="1146" cy="721.8" r="4.4"/>
<circle cx="1209.1" cy="742" r="4.4"/>
<circle cx="1162.6" cy="736.6" r="4.4"/>
<circle cx="1173.3" cy="724.2" r="4.4"/>
<circle cx="1061.1" cy="727.2" r="4.4"/>
<circle cx="1182.9" cy="737.9" r="4.4"/>
<circle cx="1122.2" cy="743" r="4.4"/>
<circle cx="1143.1" cy="759.8" r="4.4"/>
<circle cx="1200.1" cy="740.5" r="4.4"/>
<circle cx="1058.6" cy="747.8" r="4.4"/>
<circle cx="1043.7" cy="747.7" r="4.4"/>
<circle cx="1140.4" cy="736.2" r="4.4"/>
<circle cx="1130.5" cy="736.7" r="4.4"/>
<circle cx="1105.4" cy="732.6" r="4.4"/>
<circle cx="1083.9" cy="747.7" r="4.4"/>
<circle cx="1126.4" cy="734.6" r="4.4"/>
<circle cx="1052.9" cy="732.3" r="4.4"/>
<circle cx="1139.1" cy="744.7" r="4.4"/>
<circle cx="1104.1" cy="718.5" r="4.4"/>
<circle cx="1199.1" cy="744" r="4.4"/>
<circle cx="1117.4" cy="725" r="4.4"/>
<circle cx="1097.7" cy="727.1" r="4.4"/>
<circle cx="1121" cy="746.1" r="4.4"/>
<circle cx="1115.6" cy="756.2" r="4.4"/>
<circle cx="1093.9" cy="742.5" r="4.4"/>
<circle cx="1021.9" cy="753.7" r="4.4"/>
<circle cx="1073.7" cy="722.1" r="4.4"/>
<circle cx="1144.2" cy="748.4" r="4.4"/>
<circle cx="1128" cy="727.6" r="4.4"/>
<circle cx="1165.9" cy="741.7" r="4.4"/>
<circle cx="1184.3" cy="739.3" r="4.4"/>
<circle cx="1171.1" cy="739" r="4.4"/>
<circle cx="1037.6" cy="755.6" r="4.4"/>
<circle cx="1023.6" cy="750" r="4.4"/>
<circle cx="1120.7" cy="717.8" r="4.4"/>
<circle cx="1103.4" cy="728.3" r="4.4"/>
<circle cx="1196.6" cy="757.5" r="4.4"/>
<circle cx="1135.6" cy="737" r="4.4"/>
<circle cx="1092.2" cy="718.1" r="4.4"/>
<circle cx="1136.3" cy="742.3" r="4.4"/>
<circle cx="1161.7" cy="756.1" r="4.4"/>
<circle cx="1074.8" cy="748.8" r="4.4"/>
<circle cx="1120.7" cy="725.1" r="4.4"/>
<circle cx="1162.8" cy="757.6" r="4.4"/>
<circle cx="1101.4" cy="730.8" r="4.4"/>
<circle cx="1081" cy="738.2" r="4.4"/>
<circle cx="1100.7" cy="720" r="4.4"/>
<circle cx="1061.1" cy="737.6" r="4.4"/>
<circle cx="1107.2" cy="720.8" r="4.4"/>
<circle cx="1230.3" cy="748.3" r="4.4"/>
<circle cx="1123.4" cy="720.4" r="4.4"/>
<circle cx="1134.6" cy="751.7" r="4.4"/>
<circle cx="1180.6" cy="746.1" r="4.4"/>
<circle cx="1075.3" cy="736.7" r="4.4"/>
<circle cx="1112.2" cy="726.6" r="4.4"/>
<circle cx="1198.3" cy="751.1" r="4.4"/>
<circle cx="1076.8" cy="729.1" r="4.4"/>
<circle cx="1106.1" cy="755.6" r="4.4"/>
<circle cx="1059.8" cy="735.8" r="4.4"/>
<circle cx="1132" cy="733.6" r="4.4"/>
<circle cx="1049.9" cy="742.6" r="4.4"/>
<circle cx="1077.9" cy="729.6" r="4.4"/>
<circle cx="1075.2" cy="751.7" r="4.4"/>
<circle cx="1096.7" cy="740" r="4.4"/>
<circle cx="1090.4" cy="733.7" r="4.4"/>
<circle cx="1056.8" cy="721.1" r="4.4"/>
<circle cx="1166.6" cy="737" r="4.4"/>
<circle cx="1030.4" cy="746.6" r="4.4"/>
<circle cx="1165.7" cy="731.9" r="4.4"/>
<circle cx="1085.5" cy="738.9" r="4.4"/>
<circle cx="1088.6" cy="755.7" r="4.4"/>
<circle cx="1048" cy="749.8" r="4.4"/>
<circle cx="1036.8" cy="736.8" r="4.4"/>
<circle cx="1168.4" cy="735.7" r="4.4"/>
<circle cx="1164.5" cy="751.2" r="4.4"/>
<circle cx="1060.7" cy="735.5" r="4.4"/>
<circle cx="1207.2" cy="742.2" r="4.4"/>
<circle cx="1083.3" cy="733.3" r="4.4"/>
<circle cx="1036.1" cy="751.3" r="4.4"/>
<circle cx="1091" cy="733.9" r="4.4"/>
<circle cx="1128.9" cy="760.5" r="4.4"/>
<circle cx="1088.6" cy="755.2" r="4.4"/>
<circle cx="1071.7" cy="726.2" r="4.4"/>
<circle cx="1163.8" cy="759.7" r="4.4"/>
<circle cx="1034.6" cy="728.3" r="4.4"/>
<circle cx="1040.1" cy="747" r="4.4"/>
<circle cx="1075.6" cy="759.3" r="4.4"/>
<circle cx="1024.7" cy="755.2" r="4.4"/>
<circle cx="1103.5" cy="718.6" r="4.4"/>
<circle cx="1154.6" cy="750.5" r="4.4"/>
<circle cx="1163.4" cy="749" r="4.4"/>
<circle cx="1128.3" cy="746.8" r="4.4"/>
<circle cx="1221" cy="745.4" r="4.4"/>
<circle cx="1190" cy="732.1" r="4.4"/>
<circle cx="1198.5" cy="733.7" r="4.4"/>
<circle cx="1204.3" cy="743" r="4.4"/>
<circle cx="1163.3" cy="733.1" r="4.4"/>
<circle cx="1130.9" cy="735.6" r="4.4"/>
<circle cx="1132.7" cy="743.5" r="4.4"/>
<circle cx="1135.5" cy="759.1" r="4.4"/>
<circle cx="1126.8" cy="753.5" r="4.4"/>
<circle cx="1064" cy="741.6" r="4.4"/>
<circle cx="1134.8" cy="750.1" r="4.4"/>
<circle cx="1076" cy="737.2" r="4.4"/>
<circle cx="1119.3" cy="743" r="4.4"/>
<circle cx="1040.2" cy="744.4" r="4.4"/>
<circle cx="1158" cy="736.6" r="4.4"/>
<circle cx="1134.6" cy="722.8" r="4.4"/>
<circle cx="1172.8" cy="730.1" r="4.4"/>
<circle cx="1024.5" cy="747.4" r="4.4"/>
<circle cx="1164" cy="754.4" r="4.4"/>
<circle cx="1206.1" cy="751.7" r="4.4"/>
<circle cx="1089.8" cy="720.7" r="4.4"/>
<circle cx="1052.2" cy="722.5" r="4.4"/>
<circle cx="1099.7" cy="741.4" r="4.4"/>
<circle cx="1043.2" cy="734" r="4.4"/>
<circle cx="1075.7" cy="730.9" r="4.4"/>
<circle cx="1189.1" cy="733.8" r="4.4"/>
<circle cx="1099.2" cy="735.8" r="4.4"/>
<circle cx="1206.9" cy="740.5" r="4.4"/>
<circle cx="1184.8" cy="734.1" r="4.4"/>
<circle cx="1108.4" cy="718.7" r="4.4"/>
<circle cx="1105.4" cy="733.7" r="4.4"/>
<circle cx="1029.4" cy="739.9" r="4.4"/>
<circle cx="1026" cy="729.2" r="4.4"/>
<circle cx="1041.8" cy="755.2" r="4.4"/>
<circle cx="1126.7" cy="745.2" r="4.4"/>
<circle cx="1076" cy="716.4" r="4.4"/>
<circle cx="1070.5" cy="724.4" r="4.4"/>
<circle cx="1069.3" cy="735.7" r="4.4"/>
<circle cx="1094.6" cy="754.3" r="4.4"/>
<circle cx="1085.1" cy="721.1" r="4.4"/>
<circle cx="1092.1" cy="731.4" r="4.4"/>
<circle cx="1029.9" cy="741.6" r="4.4"/>
<circle cx="1098.5" cy="748.1" r="4.4"/>
<circle cx="1192.7" cy="741.3" r="4.4"/>
<circle cx="1167.6" cy="732.4" r="4.4"/>
<circle cx="1129.1" cy="759" r="4.4"/>
<circle cx="1162" cy="720.6" r="4.4"/>
<circle cx="1054.9" cy="732" r="4.4"/>
<circle cx="1122.3" cy="745.9" r="4.4"/>
<circle cx="1022.6" cy="720.3" r="4.4"/>
<circle cx="1100" cy="723.2" r="4.4"/>
<circle cx="1055.4" cy="728.6" r="4.4"/>
<circle cx="1039.3" cy="746.2" r="4.4"/>
<circle cx="1185.9" cy="740.4" r="4.4"/>
<circle cx="1118.8" cy="738.9" r="4.4"/>
<circle cx="1183.5" cy="728.3" r="4.4"/>
<circle cx="1059.5" cy="741.3" r="4.4"/>
<circle cx="1134" cy="735.3" r="4.4"/>
<circle cx="1050.1" cy="744.3" r="4.4"/>
<circle cx="1034" cy="753.2" r="4.4"/>
<circle cx="1181.9" cy="730.9" r="4.4"/>
<circle cx="1188.7" cy="748.3" r="4.4"/>
<circle cx="1022" cy="743.4" r="4.4"/>
<circle cx="1153.6" cy="727.7" r="4.4"/>
<circle cx="1101.6" cy="761.4" r="4.4"/>
<circle cx="1091.3" cy="750.6" r="4.4"/>
<circle cx="1143.3" cy="738" r="4.4"/>
<circle cx="1109.5" cy="725.1" r="4.4"/>
<circle cx="1167.9" cy="729.8" r="4.4"/>
<circle cx="1157.9" cy="736.9" r="4.4"/>
<circle cx="1071.1" cy="725.7" r="4.4"/>
<circle cx="1043.5" cy="732" r="4.4"/>
<circle cx="1100.8" cy="735.8" r="4.4"/>
<circle cx="1155.3" cy="739.6" r="4.4"/>
<circle cx="1084.8" cy="748.8" r="4.4"/>
<circle cx="1106.9" cy="734.2" r="4.4"/>
<circle cx="1086.1" cy="737" r="4.4"/>
<circle cx="1114" cy="738.5" r="4.4"/>
<circle cx="1107.4" cy="753.9" r="4.4"/>
<circle cx="1102.6" cy="743.7" r="4.4"/>
<circle cx="1061" cy="724" r="4.4"/>
<circle cx="1095" cy="754.6" r="4.4"/>
<circle cx="1139.3" cy="722.7" r="4.4"/>
<circle cx="1185" cy="733" r="4.4"/>
<circle cx="1174.4" cy="746.1" r="4.4"/>
<circle cx="1048.5" cy="749.9" r="4.4"/>
<circle cx="1092.8" cy="748.8" r="4.4"/>
<circle cx="1118.1" cy="754.7" r="4.4"/>
<circle cx="1045.9" cy="750" r="4.4"/>
<circle cx="1060.1" cy="724.7" r="4.4"/>
<circle cx="1133" cy="752.5" r="4.4"/>
<circle cx="1109.9" cy="721.5" r="4.4"/>
<circle cx="1141.6" cy="736.1" r="4.4"/>
<circle cx="1101.7" cy="752.6" r="4.4"/>
<circle cx="1151.8" cy="758.1" r="4.4"/>
<circle cx="1186.2" cy="759" r="4.4"/>
<circle cx="1177.7" cy="744" r="4.4"/>
<circle cx="1164" cy="734.4" r="4.4"/>
<circle cx="1045.6" cy="736.8" r="4.4"/>
<circle cx="1033.9" cy="750.5" r="4.4"/>
<circle cx="1099.7" cy="748.5" r="4.4"/>
<circle cx="1094.4" cy="723" r="4.4"/>
<circle cx="1066.2" cy="729" r="4.4"/>
<circle cx="1092.4" cy="737" r="4.4"/>
<circle cx="1037" cy="723.5" r="4.4"/>
<circle cx="1062.7" cy="740.3" r="4.4"/>
<circle cx="1080.1" cy="724.3" r="4.4"/>
<circle cx="1144.8" cy="733.3" r="4.4"/>
<circle cx="1179.5" cy="749.9" r="4.4"/>
<circle cx="1030.5" cy="723.5" r="4.4"/>
<circle cx="1085.5" cy="724.2" r="4.4"/>
<circle cx="1040.1" cy="722.3" r="4.4"/>
<circle cx="1153.6" cy="750.3" r="4.4"/>
<circle cx="1062.5" cy="738.2" r="4.4"/>
<circle cx="1044" cy="719.9" r="4.4"/>
<circle cx="1169.5" cy="723.9" r="4.4"/>
<circle cx="1100.1" cy="719.1" r="4.4"/>
<circle cx="1046.7" cy="728.7" r="4.4"/>
<circle cx="1043.9" cy="752.3" r="4.4"/>
<circle cx="1181.4" cy="744.2" r="4.4"/>
<circle cx="1121.2" cy="733.4" r="4.4"/>
<circle cx="1075.3" cy="732.2" r="4.4"/>
<circle cx="1161.7" cy="719.2" r="4.4"/>
<circle cx="1125.6" cy="722.3" r="4.4"/>
<circle cx="1108.1" cy="749.1" r="4.4"/>
<circle cx="1038.9" cy="723.4" r="4.4"/>
<circle cx="1045.7" cy="735.9" r="4.4"/>
<circle cx="1115.1" cy="759.5" r="4.4"/>
<circle cx="1063.9" cy="723.7" r="4.4"/>
<circle cx="1133.3" cy="719.1" r="4.4"/>
<circle cx="1163.1" cy="759.6" r="4.4"/>
<circle cx="1108.5" cy="741.3" r="4.4"/>
<circle cx="1058.7" cy="738.2" r="4.4"/>
<circle cx="1129.7" cy="752.5" r="4.4"/>
<circle cx="1095" cy="721.2" r="4.4"/>
<circle cx="1031.8" cy="719.9" r="4.4"/>
<circle cx="1116.1" cy="723.2" r="4.4"/>
<circle cx="1055.8" cy="754.8" r="4.4"/>
<circle cx="1212" cy="748.5" r="4.4"/>
<circle cx="1027.2" cy="738.6" r="4.4"/>
<circle cx="1102.8" cy="715.9" r="4.4"/>
<circle cx="1156.3" cy="743.5" r="4.4"/>
<circle cx="1211.8" cy="740" r="4.4"/>
<circle cx="1212.7" cy="739.7" r="4.4"/>
<circle cx="1109.3" cy="734.5" r="4.4"/>
<circle cx="1085.9" cy="754.7" r="4.4"/>
<circle cx="1144.1" cy="722.5" r="4.4"/>
<circle cx="1077.4" cy="721.8" r="4.4"/>
<circle cx="1186.4" cy="725.9" r="4.4"/>
<circle cx="1187.2" cy="735.1" r="4.4"/>
<circle cx="1042.3" cy="735.2" r="4.4"/>
<circle cx="1090.1" cy="744.7" r="4.4"/>
<circle cx="1135.9" cy="732.3" r="4.4"/>
<circle cx="1142.7" cy="739.3" r="4.4"/>
<circle cx="1153.8" cy="722.6" r="4.4"/>
<circle cx="1113.5" cy="738.6" r="4.4"/>
<circle cx="1052.4" cy="746.6" r="4.4"/>
<circle cx="1063.8" cy="720.4" r="4.4"/>
<circle cx="1049.7" cy="756.6" r="4.4"/>
<circle cx="1085.9" cy="738.2" r="4.4"/>
<circle cx="1200.3" cy="733.6" r="4.4"/>
<circle cx="1153" cy="723.9" r="4.4"/>
<circle cx="1074.8" cy="717" r="4.4"/>
<circle cx="1135.8" cy="735.2" r="4.4"/>
<circle cx="1150.4" cy="758.2" r="4.4"/>
<circle cx="1054.5" cy="718.5" r="4.4"/>
<circle cx="1075.2" cy="757.8" r="4.4"/>
<circle cx="1078.4" cy="728.2" r="4.4"/>
<circle cx="1074.2" cy="751.9" r="4.4"/>
<circle cx="1077.3" cy="739.5" r="4.4"/>
<circle cx="1175.8" cy="747.7" r="4.4"/>
<circle cx="1193.9" cy="758.1" r="4.4"/>
<circle cx="1085.5" cy="719" r="4.4"/>
<circle cx="1201.9" cy="755.5" r="4.4"/>
<circle cx="1112.6" cy="744.9" r="4.4"/>
<circle cx="1085.5" cy="727.1" r="4.4"/>
<circle cx="1143.9" cy="731.1" r="4.4"/>
<circle cx="1204.8" cy="742.1" r="4.4"/>
<circle cx="1042.6" cy="755.6" r="4.4"/>
<circle cx="1143.6" cy="756" r="4.4"/>
<circle cx="1075.1" cy="752.6" r="4.4"/>
<circle cx="1089.7" cy="717.3" r="4.4"/>
<circle cx="1172.8" cy="751.5" r="4.4"/>
<circle cx="1072.2" cy="736.2" r="4.4"/>
<circle cx="1020" cy="726.4" r="4.4"/>
<circle cx="1036.1" cy="724" r="4.4"/>
<circle cx="1025.5" cy="737.3" r="4.4"/>
<circle cx="1062.8" cy="748.3" r="4.4"/>
<circle cx="1123" cy="744.5" r="4.4"/>
<circle cx="1101.9" cy="731.5" r="4.4"/>
<circle cx="1059.8" cy="753.3" r="4.4"/>
<circle cx="1164.5" cy="747.9" r="4.4"/>
<circle cx="1217.7" cy="742" r="4.4"/>
<circle cx="1119.4" cy="760.5" r="4.4"/>
<circle cx="1022.4" cy="756.8" r="4.4"/>
<circle cx="1151.9" cy="731" r="4.4"/>
<circle cx="1221.8" cy="741.7" r="4.4"/>
<circle cx="1169.4" cy="745.8" r="4.4"/>
<circle cx="1033.8" cy="742.3" r="4.4"/>
<circle cx="1168.1" cy="724.6" r="4.4"/>
<circle cx="1138.6" cy="736.3" r="4.4"/>
<circle cx="1125.2" cy="739.6" r="4.4"/>
<circle cx="1163.6" cy="735.1" r="4.4"/>
<circle cx="1201.4" cy="740.9" r="4.4"/>
<circle cx="1118.8" cy="723.3" r="4.4"/>
<circle cx="1162.6" cy="737.5" r="4.4"/>
<circle cx="1138.6" cy="724.5" r="4.4"/>
<circle cx="1148" cy="749.7" r="4.4"/>
<circle cx="1084.4" cy="733.8" r="4.4"/>
<circle cx="1027.8" cy="740.6" r="4.4"/>
<circle cx="1208.9" cy="750.9" r="4.4"/>
<circle cx="1113" cy="729.4" r="4.4"/>
<circle cx="1151.9" cy="743.9" r="4.4"/>
<circle cx="1111.6" cy="732.1" r="4.4"/>
<circle cx="1094.3" cy="725.5" r="4.4"/>
<circle cx="1019.8" cy="727" r="4.4"/>
<circle cx="1176.8" cy="747.5" r="4.4"/>
<circle cx="1021.2" cy="746" r="4.4"/>
<circle cx="1144.1" cy="725.4" r="4.4"/>
<circle cx="1204.3" cy="752" r="4.4"/>
<circle cx="1035.5" cy="756.1" r="4.4"/>
<circle cx="1045.5" cy="729.8" r="4.4"/>
<circle cx="1067.8" cy="717.3" r="4.4"/>
<circle cx="1167.9" cy="753.2" r="4.4"/>
<circle cx="1182" cy="738.4" r="4.4"/>
<circle cx="1140.8" cy="744.8" r="4.4"/>
<circle cx="1080.9" cy="742.3" r="4.4"/>
<circle cx="1130.7" cy="740.4" r="4.4"/>
<circle cx="1060.6" cy="718.5" r="4.4"/>
<circle cx="1148.1" cy="733.2" r="4.4"/>
<circle cx="1152.8" cy="750.4" r="4.4"/>
<circle cx="1102.5" cy="751.9" r="4.4"/>
<circle cx="1018.3" cy="729.2" r="4.4"/>
<circle cx="1083.8" cy="738.7" r="4.4"/>
<circle cx="1162.5" cy="760.2" r="4.4"/>
<circle cx="1097.3" cy="736.1" r="4.4"/>
<circle cx="1205.1" cy="738" r="4.4"/>
<circle cx="1086" cy="733.8" r="4.4"/>
<circle cx="1142.9" cy="748.2" r="4.4"/>
<circle cx="1135.3" cy="748.9" r="4.4"/>
<circle cx="1020.4" cy="747.3" r="4.4"/>
<circle cx="1036.5" cy="739" r="4.4"/>
<circle cx="1125.2" cy="721.6" r="4.4"/>
<circle cx="1178.1" cy="727.1" r="4.4"/>
<circle cx="1229.8" cy="749.4" r="4.4"/>
<circle cx="1097.8" cy="751" r="4.4"/>
<circle cx="1039.9" cy="737.9" r="4.4"/>
<circle cx="1127.4" cy="755.6" r="4.4"/>
<circle cx="667.1" cy="722.7" r="4.4"/>
<circle cx="800.7" cy="725.6" r="4.4"/>
<circle cx="801.4" cy="639.2" r="4.4"/>
<circle cx="846.2" cy="733.9" r="4.4"/>
<circle cx="859.3" cy="747" r="4.4"/>
<circle cx="876.5" cy="717.6" r="4.4"/>
<circle cx="874" cy="701.7" r="4.4"/>
<circle cx="873" cy="690.2" r="4.4"/>
<circle cx="889" cy="734.8" r="4.4"/>
<circle cx="895.3" cy="736.4" r="4.4"/>
<circle cx="893.3" cy="669.6" r="4.4"/>
<circle cx="896.8" cy="644.5" r="4.4"/>
<circle cx="904.5" cy="762.1" r="4.4"/>
<circle cx="919.5" cy="770" r="4.4"/>
<circle cx="938.8" cy="761.3" r="4.4"/>
<circle cx="946.7" cy="761.1" r="4.4"/>
<circle cx="911.7" cy="742.7" r="4.4"/>
<circle cx="921.5" cy="748.3" r="4.4"/>
<circle cx="926.8" cy="749" r="4.4"/>
<circle cx="938.5" cy="743.5" r="4.4"/>
<circle cx="945.7" cy="750.6" r="4.4"/>
<circle cx="950.9" cy="736.1" r="4.4"/>
<circle cx="910" cy="727.5" r="4.4"/>
<circle cx="919.1" cy="718" r="4.4"/>
<circle cx="926.8" cy="723.8" r="4.4"/>
<circle cx="931.5" cy="719.1" r="4.4"/>
<circle cx="940.9" cy="725.4" r="4.4"/>
<circle cx="943.8" cy="722.4" r="4.4"/>
<circle cx="953" cy="720.1" r="4.4"/>
<circle cx="956.4" cy="713.6" r="4.4"/>
<circle cx="965.1" cy="719.1" r="4.4"/>
<circle cx="972.5" cy="723.3" r="4.4"/>
<circle cx="939.4" cy="657.3" r="4.4"/>
<circle cx="974.3" cy="689.9" r="4.4"/>
<circle cx="984.5" cy="691.8" r="4.4"/>
<circle cx="988.2" cy="689.7" r="4.4"/>
<circle cx="995" cy="700.2" r="4.4"/>
<circle cx="995.6" cy="692.8" r="4.4"/>
<circle cx="994" cy="689.1" r="4.4"/>
<circle cx="1000.3" cy="682.3" r="4.4"/>
<circle cx="1004.5" cy="681.3" r="4.4"/>
<circle cx="1008.2" cy="677.6" r="4.4"/>
<circle cx="1007.6" cy="672.3" r="4.4"/>
<circle cx="1004.8" cy="665" r="4.4"/>
<circle cx="1016.9" cy="653.4" r="4.4"/>
<circle cx="1010.3" cy="635" r="4.4"/>
<circle cx="1011.3" cy="615.6" r="4.4"/>
<circle cx="1036" cy="682.8" r="4.4"/>
<circle cx="1040.7" cy="662.3" r="4.4"/>
<circle cx="1057.9" cy="665.3" r="4.4"/>
<circle cx="1075.4" cy="660.8" r="4.4"/>
<circle cx="1077.5" cy="670.8" r="4.4"/>
<circle cx="1077" cy="678.6" r="4.4"/>
<circle cx="1068" cy="686" r="4.4"/>
<circle cx="1078" cy="688.6" r="4.4"/>
<circle cx="1062.3" cy="678.1" r="4.4"/>
<circle cx="1067.5" cy="678.1" r="4.4"/>
<circle cx="1084.3" cy="652.4" r="4.4"/>
<circle cx="1065.4" cy="643.7" r="4.4"/>
<circle cx="1069.6" cy="644" r="4.4"/>
<circle cx="1057" cy="593" r="4.4"/>
<circle cx="1049.1" cy="690.2" r="4.4"/>
<circle cx="1022.9" cy="691.8" r="4.4"/>
<circle cx="1014.5" cy="693.3" r="4.4"/>
<circle cx="1008.7" cy="696.5" r="4.4"/>
<circle cx="1005.5" cy="701.2" r="4.4"/>
<circle cx="1008.7" cy="706.5" r="4.4"/>
<circle cx="1018.2" cy="702.6" r="4.4"/>
<circle cx="1030.8" cy="702.8" r="4.4"/>
<circle cx="1039.2" cy="706.5" r="4.4"/>
<circle cx="1042.3" cy="694.4" r="4.4"/>
<circle cx="1047.6" cy="698.1" r="4.4"/>
<circle cx="980.3" cy="712.8" r="4.4"/>
<circle cx="977.7" cy="709.1" r="4.4"/>
<circle cx="980.9" cy="708.6" r="4.4"/>
<circle cx="990.8" cy="712.8" r="4.4"/>
<circle cx="999.2" cy="712.2" r="4.4"/>
<circle cx="955.1" cy="753.7" r="4.4"/>
<circle cx="960.4" cy="755.8" r="4.4"/>
<circle cx="969.3" cy="755.3" r="4.4"/>
<circle cx="980.3" cy="756.4" r="4.4"/>
<circle cx="991.4" cy="759.5" r="4.4"/>
<circle cx="999.2" cy="759.5" r="4.4"/>
<circle cx="1003.4" cy="756.4" r="4.4"/>
<circle cx="1019" cy="765.3" r="4.4"/>
<circle cx="1020.3" cy="756.9" r="4.4"/>
<circle cx="1011.8" cy="757.9" r="4.4"/>
<circle cx="1035" cy="757.9" r="4.4"/>
<circle cx="1040.7" cy="759.5" r="4.4"/>
<circle cx="1051.8" cy="766.9" r="4.4"/>
<circle cx="1054.9" cy="762.1" r="4.4"/>
<circle cx="1062.3" cy="762.7" r="4.4"/>
<circle cx="1072.2" cy="761.1" r="4.4"/>
<circle cx="1084.3" cy="760" r="4.4"/>
<circle cx="963.5" cy="749.5" r="4.4"/>
<circle cx="964.6" cy="742.2" r="4.4"/>
<circle cx="963.5" cy="732.7" r="4.4"/>
<circle cx="968.3" cy="729.6" r="4.4"/>
<circle cx="975.1" cy="741.1" r="4.4"/>
<circle cx="973" cy="748.5" r="4.4"/>
<circle cx="981.4" cy="750.6" r="4.4"/>
<circle cx="984.5" cy="742.2" r="4.4"/>
<circle cx="982.4" cy="728.5" r="4.4"/>
<circle cx="987.7" cy="733.8" r="4.4"/>
<circle cx="990.8" cy="725.4" r="4.4"/>
<circle cx="995" cy="719.1" r="4.4"/>
<circle cx="1000.3" cy="729.6" r="4.4"/>
<circle cx="1005.5" cy="738" r="4.4"/>
<circle cx="1007.6" cy="725.4" r="4.4"/>
<circle cx="1008.7" cy="715.9" r="4.4"/>
<circle cx="996.1" cy="746.4" r="4.4"/>
<circle cx="1001.3" cy="752.7" r="4.4"/>
<circle cx="1005.5" cy="748.5" r="4.4"/>
<circle cx="988.7" cy="752.7" r="4.4"/>
<circle cx="1052.8" cy="703.3" r="4.4"/>
<circle cx="1058.1" cy="698.1" r="4.4"/>
<circle cx="1063.3" cy="701.2" r="4.4"/>
<circle cx="1045.5" cy="705.4" r="4.4"/>
<circle cx="1084.3" cy="698.1" r="4.4"/>
<circle cx="1087.5" cy="687.6" r="4.4"/>
<circle cx="1080.1" cy="694.9" r="4.4"/>
<circle cx="1053.9" cy="712.8" r="4.4"/>
<circle cx="1068.6" cy="708.6" r="4.4"/>
<circle cx="1095.8" cy="632.7" r="4.4"/>
<circle cx="1121" cy="613.2" r="4.4"/>
<circle cx="1182.7" cy="614" r="4.4"/>
<circle cx="1206.1" cy="605.1" r="4.4"/>
<circle cx="1098.9" cy="595.1" r="4.4"/>
<circle cx="1106.8" cy="595.6" r="4.4"/>
<circle cx="1274.9" cy="653.9" r="4.4"/>
<circle cx="1212.4" cy="676" r="4.4"/>
<circle cx="1188.2" cy="678.6" r="4.4"/>
<circle cx="1188.2" cy="663.6" r="4.4"/>
<circle cx="1177.2" cy="663.9" r="4.4"/>
<circle cx="1166.1" cy="658.1" r="4.4"/>
<circle cx="1156.2" cy="668.7" r="4.4"/>
<circle cx="1149.3" cy="672.3" r="4.4"/>
<circle cx="1159.3" cy="679.7" r="4.4"/>
<circle cx="1161.9" cy="687.6" r="4.4"/>
<circle cx="1169.3" cy="685.5" r="4.4"/>
<circle cx="1174.5" cy="684.9" r="4.4"/>
<circle cx="1179.8" cy="684.4" r="4.4"/>
<circle cx="1143" cy="657.6" r="4.4"/>
<circle cx="1139.9" cy="662.3" r="4.4"/>
<circle cx="1133.6" cy="653.9" r="4.4"/>
<circle cx="1138.3" cy="658.7" r="4.4"/>
<circle cx="1123.1" cy="657.6" r="4.4"/>
<circle cx="1126.2" cy="664.4" r="4.4"/>
<circle cx="1131.5" cy="670.2" r="4.4"/>
<circle cx="1128.3" cy="676" r="4.4"/>
<circle cx="1126.7" cy="681.3" r="4.4"/>
<circle cx="1125.2" cy="683.4" r="4.4"/>
<circle cx="1108.9" cy="670.2" r="4.4"/>
<circle cx="1104.7" cy="676.5" r="4.4"/>
<circle cx="1113.6" cy="679.7" r="4.4"/>
<circle cx="1110.5" cy="686.5" r="4.4"/>
<circle cx="1092.6" cy="671.8" r="4.4"/>
<circle cx="1110.5" cy="697" r="4.4"/>
<circle cx="1145.1" cy="685.5" r="4.4"/>
<circle cx="1150.4" cy="696" r="4.4"/>
<circle cx="1156.7" cy="702.3" r="4.4"/>
<circle cx="1158.8" cy="707.5" r="4.4"/>
<circle cx="1173.5" cy="699.6" r="4.4"/>
<circle cx="1171.4" cy="693.9" r="4.4"/>
<circle cx="1188.7" cy="701.4" r="4.4"/>
<circle cx="1200.1" cy="697" r="4.4"/>
<circle cx="1225.5" cy="700.4" r="4.4"/>
<circle cx="1236" cy="699.6" r="4.4"/>
<circle cx="1239.7" cy="693.9" r="4.4"/>
<circle cx="1247.5" cy="699.6" r="4.4"/>
<circle cx="1196.6" cy="714.9" r="4.4"/>
<circle cx="1205.5" cy="711.7" r="4.4"/>
<circle cx="1213.7" cy="710.9" r="4.4"/>
<circle cx="1214.5" cy="722.7" r="4.4"/>
<circle cx="1220.2" cy="719.6" r="4.4"/>
<circle cx="1226" cy="711.2" r="4.4"/>
<circle cx="1230.2" cy="711.7" r="4.4"/>
<circle cx="1232.3" cy="713.3" r="4.4"/>
<circle cx="1233.9" cy="731.7" r="4.4"/>
<circle cx="1259.8" cy="719.3" r="4.4"/>
<circle cx="1200.6" cy="765.8" r="4.4"/>
<circle cx="1220" cy="767.4" r="4.4"/>
<circle cx="1227.1" cy="761.6" r="4.4"/>
<circle cx="1259.1" cy="761.1" r="4.4"/>
<circle cx="1265.9" cy="757.4" r="4.4"/>
<circle cx="1278.5" cy="756.4" r="4.4"/>
<circle cx="1249.1" cy="750.6" r="4.4"/>
<circle cx="1260.7" cy="750.6" r="4.4"/>
<circle cx="1255.4" cy="746.4" r="4.4"/>
<circle cx="1264.9" cy="740.6" r="4.4"/>
<circle cx="1273.3" cy="746.4" r="4.4"/>
<circle cx="1244.9" cy="743.8" r="4.4"/>
<circle cx="1236.5" cy="746.4" r="4.4"/>
<circle cx="1227.1" cy="752.7" r="4.4"/>
<circle cx="1212.9" cy="752.7" r="4.4"/>
<circle cx="1217.6" cy="750.6" r="4.4"/>
<circle cx="1221.8" cy="746.4" r="4.4"/>
<circle cx="1229.2" cy="745.3" r="4.4"/>
<circle cx="1217.6" cy="739" r="4.4"/>
<circle cx="1210.3" cy="744.3" r="4.4"/>
<circle cx="1203.9" cy="751.6" r="4.4"/>
<circle cx="1199.7" cy="757.9" r="4.4"/>
<circle cx="1097.9" cy="764.2" r="4.4"/>
<circle cx="1110.5" cy="765.3" r="4.4"/>
<circle cx="1120.4" cy="767.9" r="4.4"/>
<circle cx="1136.7" cy="764.8" r="4.4"/>
<circle cx="1143" cy="762.1" r="4.4"/>
<circle cx="1150.4" cy="761.1" r="4.4"/>
<circle cx="1165.1" cy="761.6" r="4.4"/>
<circle cx="1174.5" cy="763.2" r="4.4"/>
<circle cx="1180.8" cy="761.1" r="4.4"/>
<circle cx="1188.2" cy="760" r="4.4"/>
<circle cx="1193.4" cy="755.8" r="4.4"/>
<circle cx="1195.5" cy="725.4" r="4.4"/>
<circle cx="1200.8" cy="729.6" r="4.4"/>
<circle cx="1206.1" cy="733.8" r="4.4"/>
<circle cx="1190.3" cy="721.2" r="4.4"/>
<circle cx="1185" cy="717" r="4.4"/>
<circle cx="1179.8" cy="712.8" r="4.4"/>
<circle cx="1174.5" cy="708.6" r="4.4"/>
<circle cx="1172.4" cy="710.7" r="4.4"/>
<circle cx="1198.7" cy="742.2" r="4.4"/>
<circle cx="1201.8" cy="738" r="4.4"/>
<circle cx="1195.5" cy="748.5" r="4.4"/>
<circle cx="1138.8" cy="692.8" r="4.4"/>
<circle cx="1132.5" cy="694.9" r="4.4"/>
<circle cx="1129.4" cy="691.8" r="4.4"/>
<circle cx="1143" cy="698.1" r="4.4"/>
<circle cx="1101" cy="692.8" r="4.4"/>
<circle cx="1095.8" cy="687.6" r="4.4"/>
<circle cx="1090.5" cy="683.4" r="4.4"/>
<circle cx="1087.4" cy="689.7" r="4.4"/>
<circle cx="1096.8" cy="698.1" r="4.4"/>
<circle cx="1093.7" cy="681.3" r="4.4"/>
<circle cx="1279.2" cy="748.6" r="4.4"/>
<circle cx="1293.4" cy="756.1" r="4.4"/>
<circle cx="1290.1" cy="740.7" r="4.4"/>
<circle cx="1300.9" cy="725.4" r="4.4"/>
<circle cx="1329.1" cy="726.7" r="4.4"/>
<circle cx="1337.4" cy="744" r="4.4"/>
<circle cx="1379.9" cy="758.7" r="4.4"/>
<circle cx="1372.8" cy="721.7" r="4.4"/>
<circle cx="1363" cy="706.9" r="4.4"/>
<circle cx="1371.1" cy="705.3" r="4.4"/>
<circle cx="1370.4" cy="679.9" r="4.4"/>
<circle cx="1304.4" cy="672.1" r="4.4"/>
<circle cx="1298.2" cy="618.2" r="4.4"/>
<circle cx="1334.6" cy="619" r="4.4"/>
<circle cx="1106" cy="577.9" r="4.4"/>
</g>
<path d="M718.6 872.4v-9M718.6 10.2v9M790.5 872.4v-13.5M790.5 10.2v13.5M862.3 872.4v-9M862.3 10.2v9M934.1 872.4v-13.5M934.1 10.2v13.5M1005.9 872.4v-9M1005.9 10.2v9M1077.8 872.4v-13.5M1077.8 10.2v13.5M1149.6 872.4v-9M1149.6 10.2v9M1221.4 872.4v-13.5M1221.4 10.2v13.5M1293.2 872.4v-9M1293.2 10.2v9M1365.1 872.4v-13.5M1365.1 10.2v13.5M1436.9 872.4v-9M1436.9 10.2v9M646.8 800.5h9M1508.7 800.5h-9M646.8 728.7h13.5M1508.7 728.7h-13.5M646.8 656.9h9M1508.7 656.9h-9M646.8 585h13.5M1508.7 585h-13.5M646.8 513.1h9M1508.7 513.1h-9M646.8 441.3h13.5M1508.7 441.3h-13.5M646.8 369.4h9M1508.7 369.4h-9M646.8 297.6h13.5M1508.7 297.6h-13.5M646.8 225.8h9M1508.7 225.8h-9M646.8 153.9h13.5M1508.7 153.9h-13.5M646.8 82.1h9M1508.7 82.1h-9" stroke="#000" stroke-width="1.6" fill="none"/>
<rect x="646.8" y="10.2" width="861.9" height="862.2" fill="none" stroke="#000" stroke-width="1.5"/>
<g font-family='"DejaVu Serif","Liberation Serif",serif' font-size="28" fill="#000" stroke="#fff" stroke-width="0.7" letter-spacing="-0.3"><text x="642.8" y="915" text-anchor="middle">−30</text><text x="786.5" y="915" text-anchor="middle">−20</text><text x="930.1" y="915" text-anchor="middle">−10</text><text x="1077.5" y="915" text-anchor="middle">0</text><text x="1219.9" y="915" text-anchor="middle">10</text><text x="1363.6" y="915" text-anchor="middle">20</text><text x="1507.2" y="915" text-anchor="middle">30</text><text x="640.1" y="883.1" text-anchor="end">−30</text><text x="640.1" y="739.4" text-anchor="end">−20</text><text x="640.1" y="595.7" text-anchor="end">−10</text><text x="633.8" y="452" text-anchor="end">0</text><text x="635.7" y="308.3" text-anchor="end">10</text><text x="635.7" y="164.6" text-anchor="end">20</text><text x="635.7" y="20.9" text-anchor="end">30</text></g>
<path d="M104 1999.8L966 1138" stroke="#000" stroke-width="1.5" fill="none"/>
<clipPath id="cpb"><rect x="104" y="1138" width="862" height="861.8"/></clipPath>
<g clip-path="url(#cpb)" fill="none" stroke="#037a43" stroke-width="3.2">
<circle cx="719.3" cy="1562.1" r="5.15"/>
<circle cx="756.3" cy="1567.9" r="5.15"/>
<circle cx="730.4" cy="1551.2" r="5.15"/>
<circle cx="761.9" cy="1561" r="5.15"/>
<circle cx="732.6" cy="1561.6" r="5.15"/>
<circle cx="739" cy="1563.9" r="5.15"/>
<circle cx="720.1" cy="1550.4" r="5.15"/>
<circle cx="729.7" cy="1564.5" r="5.15"/>
<circle cx="749.5" cy="1561.1" r="5.15"/>
<circle cx="723.2" cy="1560.8" r="5.15"/>
<circle cx="725.2" cy="1556" r="5.15"/>
<circle cx="744.7" cy="1561.7" r="5.15"/>
<circle cx="748.4" cy="1556.1" r="5.15"/>
<circle cx="770.9" cy="1567.8" r="5.15"/>
<circle cx="716.5" cy="1548.5" r="5.15"/>
<circle cx="713.3" cy="1562.1" r="5.15"/>
<circle cx="735.6" cy="1558.8" r="5.15"/>
<circle cx="714.4" cy="1552.6" r="5.15"/>
<circle cx="736.4" cy="1551.1" r="5.15"/>
<circle cx="725.5" cy="1550.6" r="5.15"/>
<circle cx="728.9" cy="1559.7" r="5.15"/>
<circle cx="746.6" cy="1565.4" r="5.15"/>
<circle cx="742.4" cy="1558.2" r="5.15"/>
<circle cx="756" cy="1561" r="5.15"/>
<circle cx="736" cy="1567.7" r="5.15"/>
<circle cx="718.6" cy="1566.1" r="5.15"/>
<circle cx="741" cy="1568.8" r="5.15"/>
<circle cx="739" cy="1555.8" r="5.15"/>
<circle cx="566.6" cy="1553.9" r="5.15"/>
<circle cx="643.1" cy="1561.8" r="5.15"/>
<circle cx="553.4" cy="1532.1" r="5.15"/>
<circle cx="615.6" cy="1531.3" r="5.15"/>
<circle cx="573" cy="1541.7" r="5.15"/>
<circle cx="670.8" cy="1550.2" r="5.15"/>
<circle cx="546.4" cy="1562.8" r="5.15"/>
<circle cx="665.8" cy="1559.7" r="5.15"/>
<circle cx="668.7" cy="1556.7" r="5.15"/>
<circle cx="690.9" cy="1559.1" r="5.15"/>
<circle cx="566.2" cy="1561.8" r="5.15"/>
<circle cx="607.6" cy="1557.2" r="5.15"/>
<circle cx="621.5" cy="1541.6" r="5.15"/>
<circle cx="585.6" cy="1541.6" r="5.15"/>
<circle cx="576.5" cy="1526.6" r="5.15"/>
<circle cx="667.5" cy="1559.3" r="5.15"/>
<circle cx="619.8" cy="1556.9" r="5.15"/>
<circle cx="544.3" cy="1553.5" r="5.15"/>
<circle cx="599.8" cy="1529.5" r="5.15"/>
<circle cx="556.5" cy="1546.1" r="5.15"/>
<circle cx="565.6" cy="1543.1" r="5.15"/>
<circle cx="629" cy="1540" r="5.15"/>
<circle cx="543.5" cy="1544.6" r="5.15"/>
<circle cx="562.4" cy="1532.3" r="5.15"/>
<circle cx="555" cy="1538.6" r="5.15"/>
<circle cx="533.2" cy="1552.3" r="5.15"/>
<circle cx="649.4" cy="1565.8" r="5.15"/>
<circle cx="665.1" cy="1561.2" r="5.15"/>
<circle cx="635" cy="1528.7" r="5.15"/>
<circle cx="594.4" cy="1562.7" r="5.15"/>
<circle cx="679.5" cy="1559.6" r="5.15"/>
<circle cx="556.6" cy="1562" r="5.15"/>
<circle cx="587.5" cy="1555.4" r="5.15"/>
<circle cx="544.7" cy="1567.6" r="5.15"/>
<circle cx="628.6" cy="1555.7" r="5.15"/>
<circle cx="558.1" cy="1550.6" r="5.15"/>
<circle cx="624.6" cy="1549.4" r="5.15"/>
<circle cx="584.7" cy="1555.9" r="5.15"/>
<circle cx="581.4" cy="1535.2" r="5.15"/>
<circle cx="549.6" cy="1553.8" r="5.15"/>
<circle cx="532.4" cy="1551.9" r="5.15"/>
<circle cx="620.1" cy="1547.1" r="5.15"/>
<circle cx="527" cy="1542.1" r="5.15"/>
<circle cx="581.8" cy="1525.4" r="5.15"/>
<circle cx="520.5" cy="1568.9" r="5.15"/>
<circle cx="541.9" cy="1535.5" r="5.15"/>
<circle cx="568.4" cy="1549.7" r="5.15"/>
<circle cx="533.9" cy="1543.6" r="5.15"/>
<circle cx="586" cy="1561.1" r="5.15"/>
<circle cx="521" cy="1537.1" r="5.15"/>
<circle cx="609.4" cy="1567.5" r="5.15"/>
<circle cx="613" cy="1543.8" r="5.15"/>
<circle cx="640.5" cy="1535.2" r="5.15"/>
<circle cx="525.7" cy="1545.1" r="5.15"/>
<circle cx="683.9" cy="1556.4" r="5.15"/>
<circle cx="566.5" cy="1553.8" r="5.15"/>
<circle cx="625.8" cy="1538.1" r="5.15"/>
<circle cx="564" cy="1534.8" r="5.15"/>
<circle cx="556.7" cy="1537.8" r="5.15"/>
<circle cx="526.9" cy="1540.1" r="5.15"/>
<circle cx="535.6" cy="1557.4" r="5.15"/>
<circle cx="606.5" cy="1547.6" r="5.15"/>
<circle cx="579.9" cy="1534.9" r="5.15"/>
<circle cx="598.3" cy="1527.6" r="5.15"/>
<circle cx="574.6" cy="1539.6" r="5.15"/>
<circle cx="585" cy="1542.2" r="5.15"/>
<circle cx="677.8" cy="1568.5" r="5.15"/>
<circle cx="527.8" cy="1546.7" r="5.15"/>
<circle cx="543.3" cy="1559.6" r="5.15"/>
<circle cx="578.1" cy="1563.9" r="5.15"/>
<circle cx="618.2" cy="1527" r="5.15"/>
<circle cx="606.2" cy="1538.8" r="5.15"/>
<circle cx="582.1" cy="1559.5" r="5.15"/>
<circle cx="558.5" cy="1555.5" r="5.15"/>
<circle cx="640" cy="1565.9" r="5.15"/>
<circle cx="613.6" cy="1565.2" r="5.15"/>
<circle cx="599.3" cy="1548.5" r="5.15"/>
<circle cx="631.7" cy="1561.3" r="5.15"/>
<circle cx="544.7" cy="1546.6" r="5.15"/>
<circle cx="666.2" cy="1546.6" r="5.15"/>
<circle cx="573.9" cy="1567.2" r="5.15"/>
<circle cx="648.9" cy="1562.6" r="5.15"/>
<circle cx="596.4" cy="1550.9" r="5.15"/>
<circle cx="670" cy="1555.4" r="5.15"/>
<circle cx="572.3" cy="1557.6" r="5.15"/>
<circle cx="539.7" cy="1535.8" r="5.15"/>
<circle cx="568.2" cy="1558.7" r="5.15"/>
<circle cx="579.8" cy="1566" r="5.15"/>
<circle cx="564.5" cy="1561.8" r="5.15"/>
<circle cx="673.6" cy="1541" r="5.15"/>
<circle cx="607.1" cy="1533.5" r="5.15"/>
<circle cx="603" cy="1564.3" r="5.15"/>
<circle cx="616.6" cy="1530.3" r="5.15"/>
<circle cx="587.6" cy="1543.9" r="5.15"/>
<circle cx="554.3" cy="1548.5" r="5.15"/>
<circle cx="526.2" cy="1560.4" r="5.15"/>
<circle cx="626" cy="1535.7" r="5.15"/>
<circle cx="679.3" cy="1544.9" r="5.15"/>
<circle cx="613.8" cy="1561.1" r="5.15"/>
<circle cx="558.6" cy="1556.8" r="5.15"/>
<circle cx="636.8" cy="1541.6" r="5.15"/>
<circle cx="529.6" cy="1545" r="5.15"/>
<circle cx="607.6" cy="1550.2" r="5.15"/>
<circle cx="563.9" cy="1546.5" r="5.15"/>
<circle cx="521.7" cy="1542.6" r="5.15"/>
<circle cx="656.8" cy="1537.3" r="5.15"/>
<circle cx="646.1" cy="1541.5" r="5.15"/>
<circle cx="684.5" cy="1556.5" r="5.15"/>
<circle cx="538.1" cy="1564.9" r="5.15"/>
<circle cx="687.7" cy="1560.2" r="5.15"/>
<circle cx="669.6" cy="1553.7" r="5.15"/>
<circle cx="649.8" cy="1553" r="5.15"/>
<circle cx="626.3" cy="1533.3" r="5.15"/>
<circle cx="544" cy="1555.9" r="5.15"/>
<circle cx="627.4" cy="1523.7" r="5.15"/>
<circle cx="635.5" cy="1550.3" r="5.15"/>
<circle cx="612.1" cy="1558.2" r="5.15"/>
<circle cx="677.7" cy="1539.3" r="5.15"/>
<circle cx="666.6" cy="1545" r="5.15"/>
<circle cx="622.9" cy="1540.9" r="5.15"/>
<circle cx="687.9" cy="1542.3" r="5.15"/>
<circle cx="641" cy="1564.8" r="5.15"/>
<circle cx="643.1" cy="1539" r="5.15"/>
<circle cx="534" cy="1544" r="5.15"/>
<circle cx="594.6" cy="1560.1" r="5.15"/>
<circle cx="661.2" cy="1568.3" r="5.15"/>
<circle cx="600.6" cy="1540.7" r="5.15"/>
<circle cx="621.6" cy="1557" r="5.15"/>
<circle cx="546.2" cy="1536.6" r="5.15"/>
<circle cx="574" cy="1567.5" r="5.15"/>
<circle cx="557.4" cy="1565.8" r="5.15"/>
<circle cx="573" cy="1530.8" r="5.15"/>
<circle cx="532" cy="1539.6" r="5.15"/>
<circle cx="522.8" cy="1554.5" r="5.15"/>
<circle cx="621.8" cy="1563.4" r="5.15"/>
<circle cx="638.7" cy="1555" r="5.15"/>
<circle cx="646.1" cy="1559.3" r="5.15"/>
<circle cx="529.7" cy="1550.8" r="5.15"/>
<circle cx="613.4" cy="1546" r="5.15"/>
<circle cx="647.1" cy="1541.5" r="5.15"/>
<circle cx="595.9" cy="1532.7" r="5.15"/>
<circle cx="570.7" cy="1548.8" r="5.15"/>
<circle cx="619.7" cy="1564.5" r="5.15"/>
<circle cx="570.4" cy="1555.4" r="5.15"/>
<circle cx="537.5" cy="1552.3" r="5.15"/>
<circle cx="548.9" cy="1562.2" r="5.15"/>
<circle cx="599.5" cy="1526" r="5.15"/>
<circle cx="646.8" cy="1548.6" r="5.15"/>
<circle cx="595.6" cy="1555.1" r="5.15"/>
<circle cx="562" cy="1536.9" r="5.15"/>
<circle cx="519.2" cy="1567.1" r="5.15"/>
<circle cx="589.6" cy="1563.9" r="5.15"/>
<circle cx="349" cy="1565.4" r="5.15"/>
<circle cx="445.6" cy="1568.1" r="5.15"/>
<circle cx="598.4" cy="1566.8" r="5.15"/>
<circle cx="549.9" cy="1567.2" r="5.15"/>
<circle cx="398.3" cy="1565.8" r="5.15"/>
<circle cx="404.6" cy="1568.7" r="5.15"/>
<circle cx="366.6" cy="1568.2" r="5.15"/>
<circle cx="372.4" cy="1567.3" r="5.15"/>
<circle cx="468.7" cy="1565.5" r="5.15"/>
<circle cx="654.2" cy="1563.1" r="5.15"/>
<circle cx="367.3" cy="1568.8" r="5.15"/>
<circle cx="531.8" cy="1563.6" r="5.15"/>
<circle cx="707.3" cy="1569" r="5.15"/>
<circle cx="386.3" cy="1565.7" r="5.15"/>
<circle cx="394.6" cy="1565" r="5.15"/>
<circle cx="573.1" cy="1564" r="5.15"/>
<circle cx="600.7" cy="1563.3" r="5.15"/>
<circle cx="407.8" cy="1568.1" r="5.15"/>
<circle cx="492" cy="1565.6" r="5.15"/>
<circle cx="563.7" cy="1566" r="5.15"/>
<circle cx="486.1" cy="1563.2" r="5.15"/>
<circle cx="611.6" cy="1569.1" r="5.15"/>
<circle cx="703.3" cy="1567.2" r="5.15"/>
<circle cx="475.8" cy="1565.3" r="5.15"/>
<circle cx="598.3" cy="1567.2" r="5.15"/>
<circle cx="386.8" cy="1564.5" r="5.15"/>
<circle cx="478.3" cy="1566.2" r="5.15"/>
<circle cx="642.3" cy="1566.2" r="5.15"/>
<circle cx="355.3" cy="1568.2" r="5.15"/>
<circle cx="502.9" cy="1566.3" r="5.15"/>
<circle cx="426.5" cy="1565.7" r="5.15"/>
<circle cx="487.5" cy="1567.9" r="5.15"/>
<circle cx="382.7" cy="1566.5" r="5.15"/>
<circle cx="410.3" cy="1567.4" r="5.15"/>
<circle cx="358.5" cy="1564.7" r="5.15"/>
<circle cx="471.3" cy="1567" r="5.15"/>
<circle cx="364.1" cy="1565.9" r="5.15"/>
<circle cx="421.6" cy="1564.8" r="5.15"/>
<circle cx="519.8" cy="1569" r="5.15"/>
<circle cx="521.5" cy="1569" r="5.15"/>
<circle cx="406.5" cy="1568.8" r="5.15"/>
<circle cx="478.7" cy="1564.2" r="5.15"/>
<circle cx="619.7" cy="1568.7" r="5.15"/>
<circle cx="347.4" cy="1564.7" r="5.15"/>
<circle cx="627.8" cy="1565.2" r="5.15"/>
<circle cx="433.7" cy="1563.1" r="5.15"/>
<circle cx="359.7" cy="1566.9" r="5.15"/>
<circle cx="706.1" cy="1569.3" r="5.15"/>
<circle cx="529.8" cy="1563.2" r="5.15"/>
<circle cx="463.3" cy="1568" r="5.15"/>
<circle cx="650.3" cy="1567" r="5.15"/>
<circle cx="429.2" cy="1566.3" r="5.15"/>
<circle cx="520.2" cy="1567" r="5.15"/>
<circle cx="441.4" cy="1569" r="5.15"/>
<circle cx="673.2" cy="1564" r="5.15"/>
<circle cx="451.9" cy="1568.5" r="5.15"/>
<circle cx="447.1" cy="1568.9" r="5.15"/>
<circle cx="534.1" cy="1567.4" r="5.15"/>
<circle cx="603.6" cy="1564.3" r="5.15"/>
<circle cx="449.6" cy="1564.6" r="5.15"/>
<circle cx="595.8" cy="1567.4" r="5.15"/>
<circle cx="393.3" cy="1568.6" r="5.15"/>
<circle cx="499.3" cy="1564.5" r="5.15"/>
<circle cx="504.7" cy="1569.2" r="5.15"/>
<circle cx="550.5" cy="1566.9" r="5.15"/>
<circle cx="682.6" cy="1569.1" r="5.15"/>
<circle cx="624.1" cy="1565.6" r="5.15"/>
<circle cx="561" cy="1568.7" r="5.15"/>
<circle cx="634.6" cy="1566.7" r="5.15"/>
<circle cx="472.5" cy="1565.3" r="5.15"/>
<circle cx="615.1" cy="1566.5" r="5.15"/>
<circle cx="351.3" cy="1567.5" r="5.15"/>
<circle cx="676.7" cy="1568" r="5.15"/>
<circle cx="674.4" cy="1568.7" r="5.15"/>
<circle cx="541.3" cy="1568" r="5.15"/>
<circle cx="484.3" cy="1563.6" r="5.15"/>
<circle cx="474.6" cy="1565" r="5.15"/>
<circle cx="687.8" cy="1567.3" r="5.15"/>
<circle cx="543.8" cy="1566.9" r="5.15"/>
<circle cx="390.8" cy="1566.4" r="5.15"/>
<circle cx="602.1" cy="1565.5" r="5.15"/>
<circle cx="435.2" cy="1565.6" r="5.15"/>
<circle cx="463.8" cy="1567.3" r="5.15"/>
<circle cx="397" cy="1563.6" r="5.15"/>
<circle cx="459.7" cy="1567.4" r="5.15"/>
<circle cx="623.8" cy="1567.2" r="5.15"/>
<circle cx="688" cy="1565.3" r="5.15"/>
<circle cx="355.9" cy="1566.1" r="5.15"/>
<circle cx="507.8" cy="1564.1" r="5.15"/>
<circle cx="589.9" cy="1565.1" r="5.15"/>
<circle cx="432.5" cy="1565.1" r="5.15"/>
<circle cx="691.4" cy="1563" r="5.15"/>
<circle cx="477.2" cy="1564.8" r="5.15"/>
<circle cx="418.9" cy="1565.7" r="5.15"/>
<circle cx="425.9" cy="1568.8" r="5.15"/>
<circle cx="528.9" cy="1567.4" r="5.15"/>
<circle cx="404.6" cy="1565.9" r="5.15"/>
<circle cx="567.6" cy="1568.3" r="5.15"/>
<circle cx="436.7" cy="1565.9" r="5.15"/>
<circle cx="658.7" cy="1568.2" r="5.15"/>
<circle cx="428.5" cy="1566.4" r="5.15"/>
<circle cx="624.4" cy="1565.5" r="5.15"/>
<circle cx="592.1" cy="1567.2" r="5.15"/>
<circle cx="701.9" cy="1566.5" r="5.15"/>
<circle cx="594.8" cy="1565.2" r="5.15"/>
<circle cx="613.7" cy="1565" r="5.15"/>
<circle cx="528.5" cy="1565.3" r="5.15"/>
<circle cx="457.7" cy="1563.9" r="5.15"/>
<circle cx="427.8" cy="1566.4" r="5.15"/>
<circle cx="437.4" cy="1563.3" r="5.15"/>
<circle cx="639.9" cy="1564.8" r="5.15"/>
<circle cx="688.6" cy="1566.8" r="5.15"/>
<circle cx="487.8" cy="1568.5" r="5.15"/>
<circle cx="674.3" cy="1565" r="5.15"/>
<circle cx="391.2" cy="1567" r="5.15"/>
<circle cx="654.3" cy="1566.8" r="5.15"/>
<circle cx="632.9" cy="1565.6" r="5.15"/>
<circle cx="571.7" cy="1564.7" r="5.15"/>
<circle cx="494.3" cy="1565.4" r="5.15"/>
<circle cx="486.2" cy="1565.5" r="5.15"/>
<circle cx="641.2" cy="1564.1" r="5.15"/>
<circle cx="420.3" cy="1564.6" r="5.15"/>
<circle cx="701.4" cy="1566.3" r="5.15"/>
<circle cx="364.4" cy="1568.3" r="5.15"/>
<circle cx="665.6" cy="1568.2" r="5.15"/>
<circle cx="476.7" cy="1567.6" r="5.15"/>
<circle cx="457.1" cy="1563.9" r="5.15"/>
<circle cx="662.6" cy="1568.2" r="5.15"/>
<circle cx="422.5" cy="1568.5" r="5.15"/>
<circle cx="354" cy="1564.9" r="5.15"/>
<circle cx="349.8" cy="1564.1" r="5.15"/>
<circle cx="404.9" cy="1567.5" r="5.15"/>
<circle cx="453.8" cy="1564.2" r="5.15"/>
<circle cx="412.6" cy="1565" r="5.15"/>
<circle cx="661.4" cy="1566.8" r="5.15"/>
<circle cx="382.6" cy="1567.3" r="5.15"/>
<circle cx="541.8" cy="1565.8" r="5.15"/>
<circle cx="538.6" cy="1567.1" r="5.15"/>
<circle cx="638.9" cy="1566.2" r="5.15"/>
<circle cx="578.2" cy="1565.9" r="5.15"/>
<circle cx="577.7" cy="1565.4" r="5.15"/>
<circle cx="497.3" cy="1566.3" r="5.15"/>
<circle cx="607.4" cy="1564.8" r="5.15"/>
<circle cx="684.4" cy="1566.1" r="5.15"/>
<circle cx="659" cy="1567.3" r="5.15"/>
<circle cx="696" cy="1567.3" r="5.15"/>
<circle cx="501.6" cy="1565.6" r="5.15"/>
<circle cx="568" cy="1567.7" r="5.15"/>
<circle cx="652.9" cy="1563.8" r="5.15"/>
<circle cx="367.9" cy="1563.7" r="5.15"/>
<circle cx="375.9" cy="1563.4" r="5.15"/>
<circle cx="348.1" cy="1564.6" r="5.15"/>
<circle cx="386.5" cy="1567.3" r="5.15"/>
<circle cx="571" cy="1569.1" r="5.15"/>
<circle cx="697.5" cy="1567.7" r="5.15"/>
<circle cx="693.5" cy="1563.2" r="5.15"/>
<circle cx="428.7" cy="1568.8" r="5.15"/>
<circle cx="519.5" cy="1564.3" r="5.15"/>
<circle cx="622.7" cy="1565.7" r="5.15"/>
<circle cx="544.3" cy="1565" r="5.15"/>
<circle cx="433.7" cy="1563.5" r="5.15"/>
<circle cx="567.7" cy="1569" r="5.15"/>
<circle cx="707.1" cy="1567.8" r="5.15"/>
<circle cx="687.6" cy="1565.3" r="5.15"/>
<circle cx="454.4" cy="1568.8" r="5.15"/>
<circle cx="565.2" cy="1567.2" r="5.15"/>
<circle cx="349.6" cy="1564.4" r="5.15"/>
<circle cx="522" cy="1567.6" r="5.15"/>
<circle cx="517.4" cy="1546.7" r="5.15"/>
<circle cx="692" cy="1541.9" r="5.15"/>
<circle cx="537.9" cy="1548.1" r="5.15"/>
<circle cx="418.3" cy="1544.3" r="5.15"/>
<circle cx="583.1" cy="1558.7" r="5.15"/>
<circle cx="383.5" cy="1559.5" r="5.15"/>
<circle cx="606.6" cy="1520.1" r="5.15"/>
<circle cx="713.4" cy="1567.5" r="5.15"/>
<circle cx="592" cy="1549.6" r="5.15"/>
<circle cx="513" cy="1561.2" r="5.15"/>
<circle cx="542.1" cy="1550.8" r="5.15"/>
<circle cx="534.9" cy="1552" r="5.15"/>
<circle cx="719.1" cy="1569.1" r="5.15"/>
<circle cx="660.9" cy="1554.3" r="5.15"/>
<circle cx="633.5" cy="1538.5" r="5.15"/>
<circle cx="663.2" cy="1537.8" r="5.15"/>
<circle cx="704.5" cy="1561.5" r="5.15"/>
<circle cx="686.8" cy="1542.1" r="5.15"/>
<circle cx="638" cy="1531.8" r="5.15"/>
<circle cx="706.7" cy="1556.9" r="5.15"/>
<circle cx="556.9" cy="1541" r="5.15"/>
<circle cx="420.6" cy="1555.5" r="5.15"/>
<circle cx="398.5" cy="1551" r="5.15"/>
<circle cx="709.2" cy="1559.2" r="5.15"/>
<circle cx="462.5" cy="1563.4" r="5.15"/>
<circle cx="666.1" cy="1550.9" r="5.15"/>
<circle cx="387.1" cy="1568.8" r="5.15"/>
<circle cx="635.9" cy="1534.9" r="5.15"/>
<circle cx="439.9" cy="1548.8" r="5.15"/>
<circle cx="487.5" cy="1541.2" r="5.15"/>
<circle cx="562.6" cy="1562.5" r="5.15"/>
<circle cx="686.1" cy="1560" r="5.15"/>
<circle cx="623.6" cy="1566.2" r="5.15"/>
<circle cx="422.7" cy="1566.7" r="5.15"/>
<circle cx="676.4" cy="1549" r="5.15"/>
<circle cx="364.3" cy="1567.4" r="5.15"/>
<circle cx="438.2" cy="1554.1" r="5.15"/>
<circle cx="445.1" cy="1560.3" r="5.15"/>
<circle cx="570.7" cy="1533.1" r="5.15"/>
<circle cx="414.9" cy="1555" r="5.15"/>
<circle cx="557" cy="1561.7" r="5.15"/>
<circle cx="577.3" cy="1532.4" r="5.15"/>
<circle cx="484" cy="1563.7" r="5.15"/>
<circle cx="605.8" cy="1548" r="5.15"/>
<circle cx="356.6" cy="1564.7" r="5.15"/>
<circle cx="609.4" cy="1567.4" r="5.15"/>
<circle cx="528.4" cy="1555.5" r="5.15"/>
<circle cx="468" cy="1569.3" r="5.15"/>
<circle cx="622.7" cy="1564.2" r="5.15"/>
<circle cx="622.7" cy="1554.1" r="5.15"/>
<circle cx="643.5" cy="1564.9" r="5.15"/>
<circle cx="480.2" cy="1553.1" r="5.15"/>
<circle cx="683.3" cy="1562.7" r="5.15"/>
<circle cx="504.3" cy="1558.6" r="5.15"/>
<circle cx="669.5" cy="1547.4" r="5.15"/>
<circle cx="581.2" cy="1537.6" r="5.15"/>
<circle cx="565.6" cy="1549.2" r="5.15"/>
<circle cx="717.5" cy="1563.1" r="5.15"/>
<circle cx="619.4" cy="1537.9" r="5.15"/>
<circle cx="622" cy="1547.8" r="5.15"/>
<circle cx="513" cy="1561" r="5.15"/>
<circle cx="381" cy="1556.5" r="5.15"/>
<circle cx="608.4" cy="1543.5" r="5.15"/>
<circle cx="577.4" cy="1565.2" r="5.15"/>
<circle cx="461.4" cy="1552.8" r="5.15"/>
<circle cx="685.1" cy="1551.9" r="5.15"/>
<circle cx="513.5" cy="1563.7" r="5.15"/>
<circle cx="471" cy="1552.2" r="5.15"/>
<circle cx="648.2" cy="1564.9" r="5.15"/>
<circle cx="675.7" cy="1537.7" r="5.15"/>
<circle cx="565.7" cy="1534.2" r="5.15"/>
<circle cx="659.7" cy="1561.5" r="5.15"/>
<circle cx="613.2" cy="1566.7" r="5.15"/>
<circle cx="429.2" cy="1539.2" r="5.15"/>
<circle cx="581.5" cy="1543.3" r="5.15"/>
<circle cx="466.7" cy="1561" r="5.15"/>
<circle cx="612.2" cy="1547.3" r="5.15"/>
<circle cx="464.3" cy="1558.6" r="5.15"/>
<circle cx="657" cy="1530.2" r="5.15"/>
<circle cx="582.8" cy="1540.9" r="5.15"/>
<circle cx="583.1" cy="1551.6" r="5.15"/>
<circle cx="648.7" cy="1567.2" r="5.15"/>
<circle cx="603.3" cy="1528.2" r="5.15"/>
<circle cx="614.2" cy="1527.2" r="5.15"/>
<circle cx="608" cy="1544.7" r="5.15"/>
<circle cx="577.3" cy="1556.8" r="5.15"/>
<circle cx="495.6" cy="1558.6" r="5.15"/>
<circle cx="695.1" cy="1555.1" r="5.15"/>
<circle cx="581.5" cy="1564.7" r="5.15"/>
<circle cx="489.4" cy="1547.2" r="5.15"/>
<circle cx="675.3" cy="1558.9" r="5.15"/>
<circle cx="591" cy="1528.5" r="5.15"/>
<circle cx="617.1" cy="1560" r="5.15"/>
<circle cx="587.4" cy="1554.8" r="5.15"/>
<circle cx="428.9" cy="1564.2" r="5.15"/>
<circle cx="712.8" cy="1568.1" r="5.15"/>
<circle cx="548.7" cy="1558.6" r="5.15"/>
<circle cx="468.5" cy="1564.7" r="5.15"/>
<circle cx="666.6" cy="1535.9" r="5.15"/>
<circle cx="553.6" cy="1557.4" r="5.15"/>
<circle cx="474" cy="1558.4" r="5.15"/>
<circle cx="541.1" cy="1555.1" r="5.15"/>
<circle cx="660.8" cy="1553.4" r="5.15"/>
<circle cx="699.9" cy="1543.3" r="5.15"/>
<circle cx="431.9" cy="1545" r="5.15"/>
<circle cx="457.4" cy="1555.4" r="5.15"/>
<circle cx="586.4" cy="1544.8" r="5.15"/>
<circle cx="662.1" cy="1546.7" r="5.15"/>
<circle cx="465.3" cy="1537.6" r="5.15"/>
<circle cx="662.7" cy="1564.2" r="5.15"/>
<circle cx="427" cy="1561.6" r="5.15"/>
<circle cx="562" cy="1528.3" r="5.15"/>
<circle cx="548.3" cy="1543.8" r="5.15"/>
<circle cx="498.2" cy="1559.1" r="5.15"/>
<circle cx="558.3" cy="1543.2" r="5.15"/>
<circle cx="605.7" cy="1521.4" r="5.15"/>
<circle cx="549.3" cy="1539.2" r="5.15"/>
<circle cx="704" cy="1565.4" r="5.15"/>
<circle cx="449.6" cy="1542.3" r="5.15"/>
<circle cx="651.8" cy="1564.2" r="5.15"/>
<circle cx="526.3" cy="1534.3" r="5.15"/>
<circle cx="420.8" cy="1549.7" r="5.15"/>
<circle cx="604.2" cy="1534.5" r="5.15"/>
<circle cx="481.5" cy="1549.8" r="5.15"/>
<circle cx="388.8" cy="1555.5" r="5.15"/>
<circle cx="546.2" cy="1540.4" r="5.15"/>
<circle cx="489" cy="1539.2" r="5.15"/>
<circle cx="425.6" cy="1550.4" r="5.15"/>
<circle cx="586.2" cy="1545.2" r="5.15"/>
<circle cx="665" cy="1549.4" r="5.15"/>
<circle cx="624.1" cy="1559.6" r="5.15"/>
<circle cx="466.5" cy="1565.3" r="5.15"/>
<circle cx="430.7" cy="1569.2" r="5.15"/>
<circle cx="438.6" cy="1555.3" r="5.15"/>
<circle cx="657.9" cy="1539.6" r="5.15"/>
<circle cx="499" cy="1553.2" r="5.15"/>
<circle cx="602.5" cy="1564.8" r="5.15"/>
<circle cx="537.1" cy="1556.9" r="5.15"/>
<circle cx="536" cy="1553.2" r="5.15"/>
<circle cx="554.1" cy="1544.4" r="5.15"/>
<circle cx="660.9" cy="1568.8" r="5.15"/>
<circle cx="372.9" cy="1566.8" r="5.15"/>
<circle cx="521" cy="1557.2" r="5.15"/>
<circle cx="470.9" cy="1542" r="5.15"/>
<circle cx="540.7" cy="1540.1" r="5.15"/>
<circle cx="609.4" cy="1561.3" r="5.15"/>
<circle cx="623.6" cy="1538.8" r="5.15"/>
<circle cx="680.5" cy="1559.1" r="5.15"/>
<circle cx="610.7" cy="1562.2" r="5.15"/>
<circle cx="582.9" cy="1538.8" r="5.15"/>
<circle cx="571.9" cy="1543.9" r="5.15"/>
<circle cx="713.6" cy="1559.3" r="5.15"/>
<circle cx="445.6" cy="1564.7" r="5.15"/>
<circle cx="625.4" cy="1557.9" r="5.15"/>
<circle cx="651.4" cy="1538.8" r="5.15"/>
<circle cx="681.7" cy="1563.1" r="5.15"/>
<circle cx="607.1" cy="1557.4" r="5.15"/>
<circle cx="633.1" cy="1538.8" r="5.15"/>
<circle cx="617.4" cy="1521.6" r="5.15"/>
<circle cx="476.4" cy="1542.1" r="5.15"/>
<circle cx="586.3" cy="1550" r="5.15"/>
<circle cx="435.9" cy="1566.5" r="5.15"/>
<circle cx="596.5" cy="1535.3" r="5.15"/>
<circle cx="594.1" cy="1547.2" r="5.15"/>
<circle cx="547.2" cy="1538" r="5.15"/>
<circle cx="609.5" cy="1557.1" r="5.15"/>
<circle cx="577.7" cy="1555.9" r="5.15"/>
<circle cx="445" cy="1538.6" r="5.15"/>
<circle cx="442.8" cy="1564.5" r="5.15"/>
<circle cx="553.5" cy="1544.1" r="5.15"/>
<circle cx="571.1" cy="1556.9" r="5.15"/>
<circle cx="366.7" cy="1565.7" r="5.15"/>
<circle cx="544.9" cy="1548.7" r="5.15"/>
<circle cx="592.4" cy="1546.8" r="5.15"/>
<circle cx="454.9" cy="1554.8" r="5.15"/>
<circle cx="407.9" cy="1556.7" r="5.15"/>
<circle cx="494.3" cy="1564" r="5.15"/>
<circle cx="715.8" cy="1566.5" r="5.15"/>
<circle cx="377.2" cy="1564.5" r="5.15"/>
<circle cx="508.9" cy="1542.5" r="5.15"/>
<circle cx="543.6" cy="1566.1" r="5.15"/>
<circle cx="617.4" cy="1542" r="5.15"/>
<circle cx="712.2" cy="1559.9" r="5.15"/>
<circle cx="573.3" cy="1523.9" r="5.15"/>
<circle cx="581" cy="1541.4" r="5.15"/>
<circle cx="513.9" cy="1552.3" r="5.15"/>
<circle cx="565.4" cy="1539.5" r="5.15"/>
<circle cx="637.8" cy="1545.2" r="5.15"/>
<circle cx="621.7" cy="1530.2" r="5.15"/>
<circle cx="392.1" cy="1563.8" r="5.15"/>
<circle cx="640.2" cy="1550.1" r="5.15"/>
<circle cx="603.5" cy="1547" r="5.15"/>
<circle cx="568.9" cy="1550.5" r="5.15"/>
<circle cx="628.7" cy="1527.7" r="5.15"/>
<circle cx="442.1" cy="1568.3" r="5.15"/>
<circle cx="688.8" cy="1563.1" r="5.15"/>
<circle cx="450.2" cy="1539.8" r="5.15"/>
<circle cx="580.6" cy="1523.3" r="5.15"/>
<circle cx="382" cy="1552.7" r="5.15"/>
<circle cx="553.7" cy="1550.4" r="5.15"/>
<circle cx="488.1" cy="1542.5" r="5.15"/>
<circle cx="625.6" cy="1561" r="5.15"/>
<circle cx="649.4" cy="1550" r="5.15"/>
<circle cx="634.4" cy="1528.9" r="5.15"/>
<circle cx="649.7" cy="1536.9" r="5.15"/>
<circle cx="591.9" cy="1568.7" r="5.15"/>
<circle cx="470.4" cy="1546.1" r="5.15"/>
<circle cx="626.1" cy="1565.2" r="5.15"/>
<circle cx="508.2" cy="1536.9" r="5.15"/>
<circle cx="385.9" cy="1562.9" r="5.15"/>
<circle cx="558.8" cy="1542.9" r="5.15"/>
<circle cx="603.6" cy="1533.3" r="5.15"/>
<circle cx="428.9" cy="1552" r="5.15"/>
<circle cx="618.2" cy="1553.6" r="5.15"/>
<circle cx="482.4" cy="1555.2" r="5.15"/>
<circle cx="612.4" cy="1547.2" r="5.15"/>
<circle cx="689.9" cy="1566.2" r="5.15"/>
<circle cx="687.9" cy="1540.5" r="5.15"/>
<circle cx="647.1" cy="1533.6" r="5.15"/>
<circle cx="467.5" cy="1538.5" r="5.15"/>
<circle cx="695.8" cy="1563.9" r="5.15"/>
<circle cx="485.3" cy="1536.6" r="5.15"/>
<circle cx="496.4" cy="1537.9" r="5.15"/>
<circle cx="422.1" cy="1546.9" r="5.15"/>
<circle cx="644.9" cy="1545.7" r="5.15"/>
<circle cx="659.5" cy="1546.9" r="5.15"/>
<circle cx="415.3" cy="1556.9" r="5.15"/>
<circle cx="551.3" cy="1547.1" r="5.15"/>
<circle cx="707.6" cy="1551.4" r="5.15"/>
<circle cx="552.3" cy="1558.4" r="5.15"/>
<circle cx="622.7" cy="1564.1" r="5.15"/>
<circle cx="403.2" cy="1556.3" r="5.15"/>
<circle cx="590.1" cy="1530.6" r="5.15"/>
<circle cx="431.6" cy="1557.3" r="5.15"/>
<circle cx="543" cy="1557.2" r="5.15"/>
<circle cx="495.9" cy="1535.3" r="5.15"/>
<circle cx="708.3" cy="1552.5" r="5.15"/>
<circle cx="532.7" cy="1545.6" r="5.15"/>
<circle cx="616.7" cy="1554.3" r="5.15"/>
<circle cx="688.5" cy="1539.1" r="5.15"/>
<circle cx="655.7" cy="1552.2" r="5.15"/>
<circle cx="665.8" cy="1559.3" r="5.15"/>
<circle cx="658.5" cy="1563.6" r="5.15"/>
<circle cx="704.4" cy="1550.8" r="5.15"/>
<circle cx="543.8" cy="1554.4" r="5.15"/>
<circle cx="646.8" cy="1539.6" r="5.15"/>
<circle cx="624.3" cy="1568.8" r="5.15"/>
<circle cx="458" cy="1567.7" r="5.15"/>
<circle cx="392.5" cy="1551.2" r="5.15"/>
<circle cx="637.1" cy="1527.2" r="5.15"/>
<circle cx="566.1" cy="1564.6" r="5.15"/>
<circle cx="437.1" cy="1554.8" r="5.15"/>
<circle cx="570.1" cy="1529.5" r="5.15"/>
<circle cx="413.8" cy="1556.9" r="5.15"/>
<circle cx="465.3" cy="1546.1" r="5.15"/>
<circle cx="652.3" cy="1542.6" r="5.15"/>
<circle cx="446.4" cy="1563.5" r="5.15"/>
<circle cx="552.5" cy="1567.1" r="5.15"/>
<circle cx="368.4" cy="1566.6" r="5.15"/>
<circle cx="646.5" cy="1537.7" r="5.15"/>
<circle cx="545.2" cy="1544.5" r="5.15"/>
<circle cx="451.6" cy="1568.8" r="5.15"/>
<circle cx="593.3" cy="1530.2" r="5.15"/>
<circle cx="487.5" cy="1558.9" r="5.15"/>
<circle cx="613.9" cy="1549.1" r="5.15"/>
<circle cx="671.6" cy="1544.5" r="5.15"/>
<circle cx="585.7" cy="1568.9" r="5.15"/>
<circle cx="448.6" cy="1545.4" r="5.15"/>
<circle cx="405.7" cy="1557.5" r="5.15"/>
<circle cx="663.1" cy="1560.2" r="5.15"/>
<circle cx="615.1" cy="1523" r="5.15"/>
<circle cx="527.6" cy="1542" r="5.15"/>
<circle cx="703.5" cy="1548.1" r="5.15"/>
<circle cx="667.2" cy="1533.6" r="5.15"/>
<circle cx="642" cy="1539.4" r="5.15"/>
<circle cx="551" cy="1545" r="5.15"/>
<circle cx="408.3" cy="1560.7" r="5.15"/>
<circle cx="522.9" cy="1554.7" r="5.15"/>
<circle cx="483.1" cy="1553.2" r="5.15"/>
<circle cx="520.9" cy="1567.6" r="5.15"/>
<circle cx="657" cy="1551.5" r="5.15"/>
<circle cx="612.7" cy="1530.2" r="5.15"/>
<circle cx="558.7" cy="1541.5" r="5.15"/>
<circle cx="353.9" cy="1568.9" r="5.15"/>
<circle cx="645.8" cy="1528.6" r="5.15"/>
<circle cx="577.9" cy="1532.9" r="5.15"/>
<circle cx="489.1" cy="1545.7" r="5.15"/>
<circle cx="495.1" cy="1552.2" r="5.15"/>
<circle cx="620.6" cy="1534.9" r="5.15"/>
<circle cx="699.7" cy="1546.9" r="5.15"/>
<circle cx="617.8" cy="1535" r="5.15"/>
<circle cx="600.7" cy="1554.3" r="5.15"/>
<circle cx="659.7" cy="1548.4" r="5.15"/>
<circle cx="690.6" cy="1539.9" r="5.15"/>
<circle cx="539.3" cy="1551.2" r="5.15"/>
<circle cx="633.7" cy="1560.1" r="5.15"/>
<circle cx="492.8" cy="1535" r="5.15"/>
<circle cx="498.3" cy="1553.9" r="5.15"/>
<circle cx="713.3" cy="1558.5" r="5.15"/>
<circle cx="594.3" cy="1549.2" r="5.15"/>
<circle cx="476.6" cy="1551.4" r="5.15"/>
<circle cx="538.5" cy="1558.5" r="5.15"/>
<circle cx="655.3" cy="1549.4" r="5.15"/>
<circle cx="408.6" cy="1557.3" r="5.15"/>
<circle cx="684.1" cy="1546.1" r="5.15"/>
<circle cx="480.4" cy="1543.7" r="5.15"/>
<circle cx="402.4" cy="1554.6" r="5.15"/>
<circle cx="614.7" cy="1560.9" r="5.15"/>
<circle cx="423" cy="1566.5" r="5.15"/>
<circle cx="582" cy="1528.2" r="5.15"/>
<circle cx="563.3" cy="1553.8" r="5.15"/>
<circle cx="471.8" cy="1565.7" r="5.15"/>
<circle cx="483.6" cy="1541.8" r="5.15"/>
<circle cx="395.9" cy="1567.9" r="5.15"/>
<circle cx="400.2" cy="1564.4" r="5.15"/>
<circle cx="551.1" cy="1546.8" r="5.15"/>
<circle cx="557.3" cy="1531.6" r="5.15"/>
<circle cx="686.5" cy="1568.9" r="5.15"/>
<circle cx="652.5" cy="1548.9" r="5.15"/>
<circle cx="395.4" cy="1560.3" r="5.15"/>
<circle cx="456.8" cy="1564" r="5.15"/>
<circle cx="439.1" cy="1547.4" r="5.15"/>
<circle cx="715.2" cy="1566.2" r="5.15"/>
<circle cx="593.6" cy="1533.8" r="5.15"/>
<circle cx="598.4" cy="1555.8" r="5.15"/>
<circle cx="491.2" cy="1548.4" r="5.15"/>
<circle cx="423.8" cy="1542" r="5.15"/>
<circle cx="542.3" cy="1531.5" r="5.15"/>
<circle cx="560.2" cy="1535" r="5.15"/>
<circle cx="587.4" cy="1519.9" r="5.15"/>
<circle cx="598.3" cy="1525.4" r="5.15"/>
<circle cx="705" cy="1548.8" r="5.15"/>
<circle cx="523.9" cy="1539.1" r="5.15"/>
<circle cx="580.8" cy="1553.4" r="5.15"/>
<circle cx="630.5" cy="1556.6" r="5.15"/>
<circle cx="529.7" cy="1569" r="5.15"/>
<circle cx="660.1" cy="1561.9" r="5.15"/>
<circle cx="501.3" cy="1540.3" r="5.15"/>
<circle cx="559.4" cy="1564.4" r="5.15"/>
<circle cx="544.6" cy="1544.9" r="5.15"/>
<circle cx="509.9" cy="1564.4" r="5.15"/>
<circle cx="618.5" cy="1564.2" r="5.15"/>
<circle cx="620.8" cy="1548.7" r="5.15"/>
<circle cx="628.2" cy="1533.6" r="5.15"/>
<circle cx="536" cy="1538.4" r="5.15"/>
<circle cx="544.7" cy="1530.3" r="5.15"/>
<circle cx="463.3" cy="1538.3" r="5.15"/>
<circle cx="687.2" cy="1567.6" r="5.15"/>
<circle cx="596.3" cy="1562.5" r="5.15"/>
<circle cx="505.9" cy="1559.3" r="5.15"/>
<circle cx="432.1" cy="1556.3" r="5.15"/>
<circle cx="559.7" cy="1564.3" r="5.15"/>
<circle cx="386.5" cy="1558.6" r="5.15"/>
<circle cx="681.2" cy="1559.8" r="5.15"/>
<circle cx="497" cy="1536.3" r="5.15"/>
<circle cx="361.5" cy="1564.1" r="5.15"/>
<circle cx="463.9" cy="1543.6" r="5.15"/>
<circle cx="695.6" cy="1568.1" r="5.15"/>
<circle cx="459.3" cy="1565.3" r="5.15"/>
<circle cx="660" cy="1536.2" r="5.15"/>
<circle cx="675.5" cy="1569.1" r="5.15"/>
<circle cx="424.7" cy="1550.4" r="5.15"/>
<circle cx="420.9" cy="1563.2" r="5.15"/>
<circle cx="618.5" cy="1534.1" r="5.15"/>
<circle cx="683.1" cy="1562.6" r="5.15"/>
<circle cx="613.9" cy="1524.9" r="5.15"/>
<circle cx="607.5" cy="1566.1" r="5.15"/>
<circle cx="612.9" cy="1528.1" r="5.15"/>
<circle cx="595.9" cy="1558.6" r="5.15"/>
<circle cx="487.8" cy="1552" r="5.15"/>
<circle cx="677.2" cy="1548.3" r="5.15"/>
<circle cx="692.9" cy="1552.2" r="5.15"/>
<circle cx="452.4" cy="1550.8" r="5.15"/>
<circle cx="383.3" cy="1568.4" r="5.15"/>
<circle cx="512.9" cy="1545.1" r="5.15"/>
<circle cx="571.9" cy="1532.6" r="5.15"/>
<circle cx="442.8" cy="1559.2" r="5.15"/>
<circle cx="629.6" cy="1530.6" r="5.15"/>
<circle cx="453.3" cy="1546.1" r="5.15"/>
<circle cx="419" cy="1564" r="5.15"/>
<circle cx="520.8" cy="1556.5" r="5.15"/>
<circle cx="492.3" cy="1565.7" r="5.15"/>
<circle cx="555.7" cy="1551.1" r="5.15"/>
<circle cx="483.1" cy="1551.8" r="5.15"/>
<circle cx="639.7" cy="1544.5" r="5.15"/>
<circle cx="537.1" cy="1561.4" r="5.15"/>
<circle cx="603.2" cy="1544.7" r="5.15"/>
<circle cx="638.5" cy="1526.5" r="5.15"/>
<circle cx="575" cy="1530.1" r="5.15"/>
<circle cx="513" cy="1557.7" r="5.15"/>
<circle cx="641" cy="1558.6" r="5.15"/>
<circle cx="437.3" cy="1543.1" r="5.15"/>
<circle cx="431.9" cy="1547.8" r="5.15"/>
<circle cx="570.8" cy="1554.7" r="5.15"/>
<circle cx="561.9" cy="1562.8" r="5.15"/>
<circle cx="510.8" cy="1540.7" r="5.15"/>
<circle cx="447.3" cy="1559" r="5.15"/>
<circle cx="376.8" cy="1564.5" r="5.15"/>
<circle cx="560.5" cy="1545.9" r="5.15"/>
<circle cx="642.9" cy="1530.2" r="5.15"/>
<circle cx="579.8" cy="1545" r="5.15"/>
<circle cx="447.9" cy="1548.2" r="5.15"/>
<circle cx="382.7" cy="1560.1" r="5.15"/>
<circle cx="409.1" cy="1553.4" r="5.15"/>
<circle cx="657.4" cy="1558.4" r="5.15"/>
<circle cx="531.1" cy="1557.1" r="5.15"/>
<circle cx="518.5" cy="1556.2" r="5.15"/>
<circle cx="362.7" cy="1569.1" r="5.15"/>
<circle cx="632.4" cy="1555.7" r="5.15"/>
<circle cx="554.2" cy="1530.4" r="5.15"/>
<circle cx="520.8" cy="1565.8" r="5.15"/>
<circle cx="484.7" cy="1535.3" r="5.15"/>
<circle cx="590.4" cy="1521" r="5.15"/>
<circle cx="477" cy="1553.6" r="5.15"/>
<circle cx="669.8" cy="1548.3" r="5.15"/>
<circle cx="678" cy="1541.7" r="5.15"/>
<circle cx="495.4" cy="1561.2" r="5.15"/>
<circle cx="491" cy="1558.1" r="5.15"/>
<circle cx="417.9" cy="1546.2" r="5.15"/>
<circle cx="429.3" cy="1542" r="5.15"/>
<circle cx="464.2" cy="1540.9" r="5.15"/>
<circle cx="605.8" cy="1536.6" r="5.15"/>
<circle cx="495.4" cy="1565.4" r="5.15"/>
<circle cx="614.6" cy="1531.8" r="5.15"/>
<circle cx="633.3" cy="1555.1" r="5.15"/>
<circle cx="469.2" cy="1537.7" r="5.15"/>
<circle cx="380.8" cy="1563.3" r="5.15"/>
<circle cx="470.3" cy="1557.5" r="5.15"/>
<circle cx="465.5" cy="1539.8" r="5.15"/>
<circle cx="611.4" cy="1531.4" r="5.15"/>
<circle cx="618.4" cy="1552.2" r="5.15"/>
<circle cx="453.7" cy="1554.6" r="5.15"/>
<circle cx="500" cy="1537.8" r="5.15"/>
<circle cx="559.4" cy="1559.5" r="5.15"/>
<circle cx="598.1" cy="1565.1" r="5.15"/>
<circle cx="430" cy="1553.4" r="5.15"/>
<circle cx="596.6" cy="1567" r="5.15"/>
<circle cx="584" cy="1522.6" r="5.15"/>
<circle cx="508.3" cy="1538.1" r="5.15"/>
<circle cx="471.4" cy="1543.5" r="5.15"/>
<circle cx="498.9" cy="1542.4" r="5.15"/>
<circle cx="411.7" cy="1552.1" r="5.15"/>
<circle cx="476.5" cy="1539.7" r="5.15"/>
<circle cx="405.8" cy="1547.9" r="5.15"/>
<circle cx="609.5" cy="1546.4" r="5.15"/>
<circle cx="609.1" cy="1519.2" r="5.15"/>
<circle cx="494.8" cy="1536.7" r="5.15"/>
<circle cx="566.8" cy="1542.1" r="5.15"/>
<circle cx="680" cy="1547" r="5.15"/>
<circle cx="446.9" cy="1552.3" r="5.15"/>
<circle cx="418.8" cy="1542.1" r="5.15"/>
<circle cx="577.6" cy="1567" r="5.15"/>
<circle cx="484.2" cy="1547.6" r="5.15"/>
<circle cx="698.7" cy="1557.6" r="5.15"/>
<circle cx="582.1" cy="1549.8" r="5.15"/>
<circle cx="502.1" cy="1539.3" r="5.15"/>
<circle cx="452.2" cy="1560.6" r="5.15"/>
<circle cx="675.5" cy="1537.6" r="5.15"/>
<circle cx="464.2" cy="1536.5" r="5.15"/>
<circle cx="601.7" cy="1530" r="5.15"/>
<circle cx="532.6" cy="1551.4" r="5.15"/>
<circle cx="552.8" cy="1550" r="5.15"/>
<circle cx="557.5" cy="1560.6" r="5.15"/>
<circle cx="478.3" cy="1563.5" r="5.15"/>
<circle cx="465.9" cy="1554.7" r="5.15"/>
<circle cx="607.3" cy="1553.2" r="5.15"/>
<circle cx="706.6" cy="1560.3" r="5.15"/>
<circle cx="409" cy="1549.9" r="5.15"/>
<circle cx="531.5" cy="1546.9" r="5.15"/>
<circle cx="627.1" cy="1545.4" r="5.15"/>
<circle cx="387.8" cy="1554.2" r="5.15"/>
<circle cx="635.7" cy="1542.7" r="5.15"/>
<circle cx="410.2" cy="1562.4" r="5.15"/>
<circle cx="443.9" cy="1544" r="5.15"/>
<circle cx="644.7" cy="1538.1" r="5.15"/>
<circle cx="614.9" cy="1530.9" r="5.15"/>
<circle cx="614.8" cy="1534.8" r="5.15"/>
<circle cx="473.5" cy="1557" r="5.15"/>
<circle cx="661.8" cy="1560.5" r="5.15"/>
<circle cx="560" cy="1539.6" r="5.15"/>
<circle cx="611.6" cy="1550" r="5.15"/>
<circle cx="657.5" cy="1559.1" r="5.15"/>
<circle cx="597.7" cy="1529.9" r="5.15"/>
<circle cx="566.6" cy="1566.3" r="5.15"/>
<circle cx="604.4" cy="1539.5" r="5.15"/>
<circle cx="583.6" cy="1538.4" r="5.15"/>
<circle cx="695.3" cy="1568.7" r="5.15"/>
<circle cx="455.8" cy="1555.5" r="5.15"/>
<circle cx="550.7" cy="1542.8" r="5.15"/>
<circle cx="646.2" cy="1561" r="5.15"/>
<circle cx="455" cy="1538.1" r="5.15"/>
<circle cx="578.6" cy="1557.3" r="5.15"/>
<circle cx="606.8" cy="1546" r="5.15"/>
<circle cx="581.4" cy="1532.1" r="5.15"/>
<circle cx="434.2" cy="1542.7" r="5.15"/>
<circle cx="528.9" cy="1569.2" r="5.15"/>
<circle cx="424.8" cy="1562.5" r="5.15"/>
<circle cx="529.2" cy="1539.3" r="5.15"/>
<circle cx="648.6" cy="1538.3" r="5.15"/>
<circle cx="593" cy="1550" r="5.15"/>
<circle cx="119.2" cy="1558.8" r="5.15"/>
<circle cx="120.5" cy="1568.9" r="5.15"/>
<circle cx="187.4" cy="1566.2" r="5.15"/>
<circle cx="207.1" cy="1550.9" r="5.15"/>
<circle cx="226.8" cy="1566.5" r="5.15"/>
<circle cx="230" cy="1565.9" r="5.15"/>
<circle cx="233.6" cy="1565.1" r="5.15"/>
<circle cx="252" cy="1567.8" r="5.15"/>
<circle cx="257.6" cy="1567.5" r="5.15"/>
<circle cx="260.7" cy="1567" r="5.15"/>
<circle cx="264.7" cy="1567.3" r="5.15"/>
<circle cx="274.4" cy="1557.6" r="5.15"/>
<circle cx="282.8" cy="1564.7" r="5.15"/>
<circle cx="286.7" cy="1561" r="5.15"/>
<circle cx="297" cy="1551.3" r="5.15"/>
<circle cx="297.3" cy="1536.4" r="5.15"/>
<circle cx="300.9" cy="1560.4" r="5.15"/>
<circle cx="308" cy="1566.2" r="5.15"/>
<circle cx="315.1" cy="1562.3" r="5.15"/>
<circle cx="315.9" cy="1567" r="5.15"/>
<circle cx="326.1" cy="1564.7" r="5.15"/>
<circle cx="326.9" cy="1567.8" r="5.15"/>
<circle cx="334.8" cy="1566.2" r="5.15"/>
<circle cx="326.6" cy="1542.6" r="5.15"/>
<circle cx="337.9" cy="1533.1" r="5.15"/>
<circle cx="338.1" cy="1509" r="5.15"/>
<circle cx="348.2" cy="1555.2" r="5.15"/>
<circle cx="348.2" cy="1564.7" r="5.15"/>
<circle cx="366.3" cy="1528.9" r="5.15"/>
<circle cx="387.6" cy="1520.5" r="5.15"/>
<circle cx="373.4" cy="1549.7" r="5.15"/>
<circle cx="366.3" cy="1556" r="5.15"/>
<circle cx="388.3" cy="1547.3" r="5.15"/>
<circle cx="393.1" cy="1544.2" r="5.15"/>
<circle cx="360" cy="1562.3" r="5.15"/>
<circle cx="367.9" cy="1565.4" r="5.15"/>
<circle cx="375.7" cy="1567" r="5.15"/>
<circle cx="383.6" cy="1565.4" r="5.15"/>
<circle cx="391.5" cy="1563.9" r="5.15"/>
<circle cx="364.7" cy="1568.6" r="5.15"/>
<circle cx="380.5" cy="1570.2" r="5.15"/>
<circle cx="389.9" cy="1571" r="5.15"/>
<circle cx="396.2" cy="1557.6" r="5.15"/>
<circle cx="383.6" cy="1557.6" r="5.15"/>
<circle cx="375.7" cy="1559.1" r="5.15"/>
<circle cx="584.9" cy="1449.5" r="5.15"/>
<circle cx="582.8" cy="1468.4" r="5.15"/>
<circle cx="583.3" cy="1472.6" r="5.15"/>
<circle cx="555.4" cy="1485.9" r="5.15"/>
<circle cx="536.2" cy="1488.8" r="5.15"/>
<circle cx="446.7" cy="1502" r="5.15"/>
<circle cx="470.9" cy="1502" r="5.15"/>
<circle cx="470.9" cy="1506.2" r="5.15"/>
<circle cx="469.3" cy="1515.4" r="5.15"/>
<circle cx="489.3" cy="1501.4" r="5.15"/>
<circle cx="502.2" cy="1497.5" r="5.15"/>
<circle cx="512.4" cy="1508.3" r="5.15"/>
<circle cx="502.2" cy="1519" r="5.15"/>
<circle cx="533.9" cy="1512" r="5.15"/>
<circle cx="544.4" cy="1508.3" r="5.15"/>
<circle cx="552.3" cy="1513.5" r="5.15"/>
<circle cx="567.5" cy="1505.3" r="5.15"/>
<circle cx="584.3" cy="1512.5" r="5.15"/>
<circle cx="541.3" cy="1519.8" r="5.15"/>
<circle cx="537.1" cy="1523" r="5.15"/>
<circle cx="565.4" cy="1519.8" r="5.15"/>
<circle cx="417.5" cy="1528.4" r="5.15"/>
<circle cx="404.7" cy="1539.3" r="5.15"/>
<circle cx="414.7" cy="1541.9" r="5.15"/>
<circle cx="392.1" cy="1545" r="5.15"/>
<circle cx="445.1" cy="1532.4" r="5.15"/>
<circle cx="461.4" cy="1530.3" r="5.15"/>
<circle cx="479.3" cy="1531.4" r="5.15"/>
<circle cx="488.7" cy="1535.6" r="5.15"/>
<circle cx="508.7" cy="1535.6" r="5.15"/>
<circle cx="528.7" cy="1528.2" r="5.15"/>
<circle cx="554.9" cy="1527.2" r="5.15"/>
<circle cx="574.9" cy="1519.8" r="5.15"/>
<circle cx="420.5" cy="1576" r="5.15"/>
<circle cx="486.6" cy="1578.1" r="5.15"/>
<circle cx="495.6" cy="1572.9" r="5.15"/>
<circle cx="507.1" cy="1576.6" r="5.15"/>
<circle cx="529.2" cy="1573.4" r="5.15"/>
<circle cx="432.8" cy="1600.7" r="5.15"/>
<circle cx="508.7" cy="1637.5" r="5.15"/>
<circle cx="575.4" cy="1638.5" r="5.15"/>
<circle cx="598.4" cy="1401.8" r="5.15"/>
<circle cx="673.2" cy="1423.9" r="5.15"/>
<circle cx="816.7" cy="1429" r="5.15"/>
<circle cx="585" cy="1449.1" r="5.15"/>
<circle cx="592.9" cy="1461.6" r="5.15"/>
<circle cx="594.2" cy="1472.5" r="5.15"/>
<circle cx="604.7" cy="1481" r="5.15"/>
<circle cx="626.6" cy="1461.6" r="5.15"/>
<circle cx="644.3" cy="1468.4" r="5.15"/>
<circle cx="665.6" cy="1450.4" r="5.15"/>
<circle cx="704.5" cy="1472.5" r="5.15"/>
<circle cx="681.1" cy="1478" r="5.15"/>
<circle cx="685" cy="1478.2" r="5.15"/>
<circle cx="684.8" cy="1490.8" r="5.15"/>
<circle cx="736.9" cy="1494.6" r="5.15"/>
<circle cx="626.6" cy="1490.4" r="5.15"/>
<circle cx="626" cy="1493.7" r="5.15"/>
<circle cx="615.5" cy="1495" r="5.15"/>
<circle cx="610.2" cy="1500.3" r="5.15"/>
<circle cx="612.8" cy="1505.5" r="5.15"/>
<circle cx="599.7" cy="1506.9" r="5.15"/>
<circle cx="635.1" cy="1504.6" r="5.15"/>
<circle cx="664" cy="1502.7" r="5.15"/>
<circle cx="712.6" cy="1505.3" r="5.15"/>
<circle cx="648.7" cy="1512.4" r="5.15"/>
<circle cx="622" cy="1516.7" r="5.15"/>
<circle cx="585.3" cy="1512.1" r="5.15"/>
<circle cx="712.6" cy="1514.7" r="5.15"/>
<circle cx="700.8" cy="1514.7" r="5.15"/>
<circle cx="695.5" cy="1517.4" r="5.15"/>
<circle cx="699.5" cy="1516.1" r="5.15"/>
<circle cx="676.5" cy="1522.6" r="5.15"/>
<circle cx="656.2" cy="1521.3" r="5.15"/>
<circle cx="658.8" cy="1526.6" r="5.15"/>
<circle cx="643" cy="1527.2" r="5.15"/>
<circle cx="719.2" cy="1523.9" r="5.15"/>
<circle cx="706.1" cy="1530.5" r="5.15"/>
<circle cx="716.6" cy="1530.5" r="5.15"/>
<circle cx="750.7" cy="1516.1" r="5.15"/>
<circle cx="746.8" cy="1517.4" r="5.15"/>
<circle cx="771.7" cy="1512.8" r="5.15"/>
<circle cx="769.7" cy="1525.2" r="5.15"/>
<circle cx="740.8" cy="1528.5" r="5.15"/>
<circle cx="737.6" cy="1529.2" r="5.15"/>
<circle cx="791.7" cy="1520.9" r="5.15"/>
<circle cx="806.9" cy="1516.1" r="5.15"/>
<circle cx="801.9" cy="1525.2" r="5.15"/>
<circle cx="828.2" cy="1519.7" r="5.15"/>
<circle cx="810" cy="1537.7" r="5.15"/>
<circle cx="810.7" cy="1545.6" r="5.15"/>
<circle cx="757.9" cy="1534.4" r="5.15"/>
<circle cx="755.9" cy="1538.4" r="5.15"/>
<circle cx="759.9" cy="1539.7" r="5.15"/>
<circle cx="745.4" cy="1543.6" r="5.15"/>
<circle cx="755.9" cy="1544.9" r="5.15"/>
<circle cx="727.1" cy="1543.6" r="5.15"/>
<circle cx="769.1" cy="1551.5" r="5.15"/>
<circle cx="737.6" cy="1547.6" r="5.15"/>
<circle cx="716.6" cy="1542.3" r="5.15"/>
<circle cx="766.4" cy="1559.4" r="5.15"/>
<circle cx="755.9" cy="1560.7" r="5.15"/>
<circle cx="748.1" cy="1565.9" r="5.15"/>
<circle cx="762.5" cy="1564.6" r="5.15"/>
<circle cx="774.3" cy="1569.2" r="5.15"/>
<circle cx="778.3" cy="1569.9" r="5.15"/>
<circle cx="786.1" cy="1563.3" r="5.15"/>
<circle cx="789.4" cy="1567.3" r="5.15"/>
<circle cx="807.8" cy="1569.9" r="5.15"/>
<circle cx="828.2" cy="1568.3" r="5.15"/>
<circle cx="815.4" cy="1580.4" r="5.15"/>
<circle cx="651.6" cy="1578" r="5.15"/>
<circle cx="698.2" cy="1578" r="5.15"/>
<circle cx="724.4" cy="1571.2" r="5.15"/>
<circle cx="737.6" cy="1567.3" r="5.15"/>
<circle cx="604.9" cy="1614.9" r="5.15"/>
<circle cx="858.1" cy="1529.6" r="5.15"/>
<circle cx="836.7" cy="1549.1" r="5.15"/>
<circle cx="837.5" cy="1562.7" r="5.15"/>
<circle cx="853.2" cy="1559.6" r="5.15"/>
<circle cx="865.3" cy="1565.9" r="5.15"/>
<circle cx="869.2" cy="1565.9" r="5.15"/>
<circle cx="874.5" cy="1561" r="5.15"/>
<circle cx="911.5" cy="1562" r="5.15"/>
<circle cx="919.8" cy="1565.6" r="5.15"/>
<circle cx="924.1" cy="1542.3" r="5.15"/>
<circle cx="962.5" cy="1557.7" r="5.15"/>
<circle cx="560.8" cy="1644.8" r="5.15"/>
<circle cx="596.8" cy="1677.5" r="5.15"/>
<circle cx="587.6" cy="1830.1" r="5.15"/>
</g>
<path d="M211.8 1999.8v-9M211.8 1138v9M319.5 1999.8v-13.5M319.5 1138v13.5M427.2 1999.8v-9M427.2 1138v9M535 1999.8v-13.5M535 1138v13.5M642.8 1999.8v-9M642.8 1138v9M750.5 1999.8v-13.5M750.5 1138v13.5M858.2 1999.8v-9M858.2 1138v9M104 1892.1h9M966 1892.1h-9M104 1784.3h13.5M966 1784.3h-13.5M104 1676.6h9M966 1676.6h-9M104 1568.9h13.5M966 1568.9h-13.5M104 1461.2h9M966 1461.2h-9M104 1353.5h13.5M966 1353.5h-13.5M104 1245.7h9M966 1245.7h-9" stroke="#000" stroke-width="1.6" fill="none"/>
<rect x="104" y="1138" width="862" height="861.8" fill="none" stroke="#000" stroke-width="1.5"/>
<g font-family='"DejaVu Serif","Liberation Serif",serif' font-size="28" fill="#000" stroke="#fff" stroke-width="0.7" letter-spacing="-0.3"><text x="100" y="2042.4" text-anchor="middle">−20</text><text x="315.5" y="2042.4" text-anchor="middle">−10</text><text x="534.7" y="2042.4" text-anchor="middle">0</text><text x="754.1" y="2042.4" text-anchor="middle">10</text><text x="969.6" y="2042.4" text-anchor="middle">20</text><text x="97.3" y="2010.5" text-anchor="end">−20</text><text x="97.3" y="1795" text-anchor="end">−10</text><text x="91" y="1579.6" text-anchor="end">0</text><text x="92.9" y="1364.2" text-anchor="end">10</text><text x="92.9" y="1148.7" text-anchor="end">20</text></g>
<path d="M1170.5 2000.5L2032.5 1138.4" stroke="#000" stroke-width="1.5" fill="none"/>
<clipPath id="cpc"><rect x="1170.5" y="1138.4" width="862" height="862.1"/></clipPath>
<g clip-path="url(#cpc)" fill="none" stroke="#037a43" stroke-width="3.2">
<circle cx="1305.8" cy="1147.1" r="5.15"/>
<circle cx="1216.4" cy="1204.5" r="5.15"/>
<circle cx="1246.1" cy="1248" r="5.15"/>
<circle cx="1278.7" cy="1239.7" r="5.15"/>
<circle cx="1317.4" cy="1252.4" r="5.15"/>
<circle cx="1346" cy="1259.1" r="5.15"/>
<circle cx="1379.8" cy="1257.3" r="5.15"/>
<circle cx="1383.8" cy="1248.4" r="5.15"/>
<circle cx="1383.2" cy="1215.7" r="5.15"/>
<circle cx="1265.1" cy="1269" r="5.15"/>
<circle cx="1228.7" cy="1290.2" r="5.15"/>
<circle cx="1172.4" cy="1294.8" r="5.15"/>
<circle cx="1302.1" cy="1289.4" r="5.15"/>
<circle cx="1312.2" cy="1294" r="5.15"/>
<circle cx="1323.7" cy="1285.6" r="5.15"/>
<circle cx="1383.8" cy="1311" r="5.15"/>
<circle cx="1186.3" cy="1319.9" r="5.15"/>
<circle cx="1352" cy="1319.7" r="5.15"/>
<circle cx="1322.8" cy="1337.4" r="5.15"/>
<circle cx="1337.4" cy="1344.9" r="5.15"/>
<circle cx="1225.3" cy="1345.8" r="5.15"/>
<circle cx="1369" cy="1351.2" r="5.15"/>
<circle cx="1324.3" cy="1355.2" r="5.15"/>
<circle cx="1301.2" cy="1360.6" r="5.15"/>
<circle cx="1284.4" cy="1380" r="5.15"/>
<circle cx="1298" cy="1379.1" r="5.15"/>
<circle cx="1362.4" cy="1385.8" r="5.15"/>
<circle cx="1367.1" cy="1383.5" r="5.15"/>
<circle cx="1370.5" cy="1381.2" r="5.15"/>
<circle cx="1375.1" cy="1391" r="5.15"/>
<circle cx="1371.7" cy="1397.4" r="5.15"/>
<circle cx="1315.3" cy="1410.7" r="5.15"/>
<circle cx="1264.2" cy="1426.6" r="5.15"/>
<circle cx="1327.8" cy="1430.7" r="5.15"/>
<circle cx="1378.4" cy="1428" r="5.15"/>
<circle cx="1368.8" cy="1438.4" r="5.15"/>
<circle cx="1290.6" cy="1442.7" r="5.15"/>
<circle cx="1215.9" cy="1446.8" r="5.15"/>
<circle cx="1345.3" cy="1452.3" r="5.15"/>
<circle cx="1320.8" cy="1469.8" r="5.15"/>
<circle cx="1345.1" cy="1470.2" r="5.15"/>
<circle cx="1239.4" cy="1479.2" r="5.15"/>
<circle cx="1376.9" cy="1484.6" r="5.15"/>
<circle cx="1257.9" cy="1489.6" r="5.15"/>
<circle cx="1378.6" cy="1491" r="5.15"/>
<circle cx="1307.5" cy="1492.1" r="5.15"/>
<circle cx="1238.6" cy="1494.4" r="5.15"/>
<circle cx="1234.2" cy="1499.1" r="5.15"/>
<circle cx="1337" cy="1491" r="5.15"/>
<circle cx="1330.9" cy="1500" r="5.15"/>
<circle cx="1342.8" cy="1500.2" r="5.15"/>
<circle cx="1257.6" cy="1505.2" r="5.15"/>
<circle cx="1337" cy="1508.9" r="5.15"/>
<circle cx="1328.7" cy="1511.2" r="5.15"/>
<circle cx="1369.9" cy="1510" r="5.15"/>
<circle cx="1369.4" cy="1515.2" r="5.15"/>
<circle cx="1372.2" cy="1518.1" r="5.15"/>
<circle cx="1267.7" cy="1514.9" r="5.15"/>
<circle cx="1279.8" cy="1513.5" r="5.15"/>
<circle cx="1227.8" cy="1526.4" r="5.15"/>
<circle cx="1353.2" cy="1531.8" r="5.15"/>
<circle cx="1381.5" cy="1532.2" r="5.15"/>
<circle cx="1312.2" cy="1544.1" r="5.15"/>
<circle cx="1316.2" cy="1545.3" r="5.15"/>
<circle cx="1318.5" cy="1546.4" r="5.15"/>
<circle cx="1313.3" cy="1549.9" r="5.15"/>
<circle cx="1339.1" cy="1549.5" r="5.15"/>
<circle cx="1315.6" cy="1555.7" r="5.15"/>
<circle cx="1304.1" cy="1558.6" r="5.15"/>
<circle cx="1346.3" cy="1556.8" r="5.15"/>
<circle cx="1363.4" cy="1555.7" r="5.15"/>
<circle cx="1371.7" cy="1563.8" r="5.15"/>
<circle cx="1319.1" cy="1566.1" r="5.15"/>
<circle cx="1233.6" cy="1570.6" r="5.15"/>
<circle cx="1319.7" cy="1578.9" r="5.15"/>
<circle cx="1334.7" cy="1581.6" r="5.15"/>
<circle cx="1374.6" cy="1582.8" r="5.15"/>
<circle cx="1381.5" cy="1583.3" r="5.15"/>
<circle cx="1371.1" cy="1593.2" r="5.15"/>
<circle cx="1383.2" cy="1603" r="5.15"/>
<circle cx="1285.2" cy="1602.6" r="5.15"/>
<circle cx="1343.1" cy="1609.7" r="5.15"/>
<circle cx="1356.4" cy="1612" r="5.15"/>
<circle cx="1352.3" cy="1617.4" r="5.15"/>
<circle cx="1374.3" cy="1609.9" r="5.15"/>
<circle cx="1338.2" cy="1622.3" r="5.15"/>
<circle cx="1167.2" cy="1623.4" r="5.15"/>
<circle cx="1185.4" cy="1635.3" r="5.15"/>
<circle cx="1254" cy="1640.2" r="5.15"/>
<circle cx="1281" cy="1641.7" r="5.15"/>
<circle cx="1380.3" cy="1645.1" r="5.15"/>
<circle cx="1349.1" cy="1651.3" r="5.15"/>
<circle cx="1377.4" cy="1653.8" r="5.15"/>
<circle cx="1382.1" cy="1652.1" r="5.15"/>
<circle cx="1291.9" cy="1660.7" r="5.15"/>
<circle cx="1339.7" cy="1661.1" r="5.15"/>
<circle cx="1178.1" cy="1668" r="5.15"/>
<circle cx="1369.9" cy="1675.8" r="5.15"/>
<circle cx="1237.3" cy="1679.8" r="5.15"/>
<circle cx="1316.2" cy="1682.7" r="5.15"/>
<circle cx="1379.2" cy="1688.5" r="5.15"/>
<circle cx="1227.2" cy="1701.8" r="5.15"/>
<circle cx="1350.6" cy="1706" r="5.15"/>
<circle cx="1296.2" cy="1711.4" r="5.15"/>
<circle cx="1233.4" cy="1719.7" r="5.15"/>
<circle cx="1314.5" cy="1721.4" r="5.15"/>
<circle cx="1363.4" cy="1725.2" r="5.15"/>
<circle cx="1326.4" cy="1737.9" r="5.15"/>
<circle cx="1359" cy="1757" r="5.15"/>
<circle cx="1312.5" cy="1780.9" r="5.15"/>
<circle cx="1202.6" cy="1783.2" r="5.15"/>
<circle cx="1374.6" cy="1780.3" r="5.15"/>
<circle cx="1383.8" cy="1785.5" r="5.15"/>
<circle cx="1282.1" cy="1797" r="5.15"/>
<circle cx="1223.2" cy="1812.9" r="5.15"/>
<circle cx="1266.5" cy="1825.9" r="5.15"/>
<circle cx="1242.3" cy="1838.3" r="5.15"/>
<circle cx="1382.6" cy="1814.4" r="5.15"/>
<circle cx="1383.2" cy="1846.1" r="5.15"/>
<circle cx="1334.1" cy="1877.9" r="5.15"/>
<circle cx="1360.1" cy="1989.4" r="5.15"/>
<circle cx="1384.9" cy="1188.9" r="5.15"/>
<circle cx="1462.3" cy="1145.9" r="5.15"/>
<circle cx="1468.4" cy="1155.1" r="5.15"/>
<circle cx="1469.5" cy="1163.8" r="5.15"/>
<circle cx="1498.7" cy="1150.8" r="5.15"/>
<circle cx="1538.6" cy="1171.3" r="5.15"/>
<circle cx="1578.8" cy="1166.4" r="5.15"/>
<circle cx="1576.5" cy="1186.2" r="5.15"/>
<circle cx="1421.1" cy="1214" r="5.15"/>
<circle cx="1411.5" cy="1223" r="5.15"/>
<circle cx="1432.5" cy="1238.2" r="5.15"/>
<circle cx="1463.5" cy="1241.8" r="5.15"/>
<circle cx="1526.4" cy="1215.2" r="5.15"/>
<circle cx="1517.2" cy="1224.4" r="5.15"/>
<circle cx="1572.4" cy="1211.6" r="5.15"/>
<circle cx="1574" cy="1223.3" r="5.15"/>
<circle cx="1518.1" cy="1244.7" r="5.15"/>
<circle cx="1510.8" cy="1252.4" r="5.15"/>
<circle cx="1532.4" cy="1259.7" r="5.15"/>
<circle cx="1565.9" cy="1244.6" r="5.15"/>
<circle cx="1580.2" cy="1250.5" r="5.15"/>
<circle cx="1512.2" cy="1270.1" r="5.15"/>
<circle cx="1584.2" cy="1262.8" r="5.15"/>
<circle cx="1578.4" cy="1266.3" r="5.15"/>
<circle cx="1581.9" cy="1271.5" r="5.15"/>
<circle cx="1595.8" cy="1279" r="5.15"/>
<circle cx="1450.4" cy="1283.3" r="5.15"/>
<circle cx="1457.1" cy="1281.3" r="5.15"/>
<circle cx="1491.8" cy="1287.7" r="5.15"/>
<circle cx="1510.3" cy="1285.9" r="5.15"/>
<circle cx="1521.2" cy="1281.9" r="5.15"/>
<circle cx="1543.2" cy="1295.8" r="5.15"/>
<circle cx="1540.9" cy="1298.7" r="5.15"/>
<circle cx="1579.6" cy="1289.4" r="5.15"/>
<circle cx="1585.4" cy="1291.7" r="5.15"/>
<circle cx="1599.8" cy="1288.8" r="5.15"/>
<circle cx="1473.3" cy="1300.7" r="5.15"/>
<circle cx="1583.6" cy="1302.1" r="5.15"/>
<circle cx="1574.4" cy="1308.5" r="5.15"/>
<circle cx="1464" cy="1313.3" r="5.15"/>
<circle cx="1458" cy="1324.9" r="5.15"/>
<circle cx="1501.6" cy="1318.9" r="5.15"/>
<circle cx="1491.8" cy="1329.3" r="5.15"/>
<circle cx="1559.4" cy="1322.9" r="5.15"/>
<circle cx="1558.2" cy="1328.1" r="5.15"/>
<circle cx="1575.3" cy="1326.4" r="5.15"/>
<circle cx="1525.3" cy="1334.2" r="5.15"/>
<circle cx="1588.8" cy="1335.6" r="5.15"/>
<circle cx="1576.1" cy="1339.4" r="5.15"/>
<circle cx="1400.7" cy="1339.3" r="5.15"/>
<circle cx="1535.7" cy="1349.5" r="5.15"/>
<circle cx="1397" cy="1361.6" r="5.15"/>
<circle cx="1397.6" cy="1366.2" r="5.15"/>
<circle cx="1490.6" cy="1367.3" r="5.15"/>
<circle cx="1502.2" cy="1356.9" r="5.15"/>
<circle cx="1504.5" cy="1358.7" r="5.15"/>
<circle cx="1510.5" cy="1368.1" r="5.15"/>
<circle cx="1553" cy="1360.4" r="5.15"/>
<circle cx="1560.5" cy="1358.1" r="5.15"/>
<circle cx="1587.7" cy="1363.9" r="5.15"/>
<circle cx="1588.8" cy="1369.6" r="5.15"/>
<circle cx="1569.2" cy="1376.3" r="5.15"/>
<circle cx="1402.8" cy="1381" r="5.15"/>
<circle cx="1410.9" cy="1380.6" r="5.15"/>
<circle cx="1423" cy="1382.4" r="5.15"/>
<circle cx="1425.3" cy="1385.8" r="5.15"/>
<circle cx="1444.4" cy="1392.2" r="5.15"/>
<circle cx="1472.1" cy="1385.6" r="5.15"/>
<circle cx="1514.9" cy="1389.3" r="5.15"/>
<circle cx="1510.3" cy="1393.9" r="5.15"/>
<circle cx="1578.4" cy="1390.4" r="5.15"/>
<circle cx="1584.2" cy="1397.4" r="5.15"/>
<circle cx="1594.6" cy="1383.5" r="5.15"/>
<circle cx="1596.9" cy="1389.3" r="5.15"/>
<circle cx="1595.8" cy="1395.1" r="5.15"/>
<circle cx="1557.3" cy="1396.8" r="5.15"/>
<circle cx="1561.1" cy="1402.6" r="5.15"/>
<circle cx="1472.1" cy="1408.1" r="5.15"/>
<circle cx="1458.8" cy="1414.4" r="5.15"/>
<circle cx="1449" cy="1423" r="5.15"/>
<circle cx="1491.2" cy="1419.3" r="5.15"/>
<circle cx="1502.2" cy="1413" r="5.15"/>
<circle cx="1510" cy="1419.3" r="5.15"/>
<circle cx="1524.7" cy="1412.4" r="5.15"/>
<circle cx="1544.9" cy="1412.4" r="5.15"/>
<circle cx="1551.9" cy="1410.1" r="5.15"/>
<circle cx="1555.3" cy="1407.8" r="5.15"/>
<circle cx="1556.5" cy="1413.6" r="5.15"/>
<circle cx="1529.9" cy="1421.6" r="5.15"/>
<circle cx="1534.5" cy="1423.4" r="5.15"/>
<circle cx="1588.8" cy="1425.7" r="5.15"/>
<circle cx="1413.8" cy="1429.1" r="5.15"/>
<circle cx="1419" cy="1433.2" r="5.15"/>
<circle cx="1544.9" cy="1431.5" r="5.15"/>
<circle cx="1528.7" cy="1432" r="5.15"/>
<circle cx="1532.2" cy="1436.7" r="5.15"/>
<circle cx="1533.4" cy="1441.3" r="5.15"/>
<circle cx="1582.5" cy="1432.6" r="5.15"/>
<circle cx="1577.3" cy="1442.4" r="5.15"/>
<circle cx="1461.7" cy="1441.9" r="5.15"/>
<circle cx="1413.2" cy="1445.3" r="5.15"/>
<circle cx="1387.2" cy="1445.3" r="5.15"/>
<circle cx="1508.2" cy="1447.1" r="5.15"/>
<circle cx="1480.2" cy="1448.2" r="5.15"/>
<circle cx="1476.7" cy="1451.1" r="5.15"/>
<circle cx="1473.3" cy="1453.4" r="5.15"/>
<circle cx="1549.5" cy="1445.9" r="5.15"/>
<circle cx="1546.1" cy="1448.2" r="5.15"/>
<circle cx="1568" cy="1448.2" r="5.15"/>
<circle cx="1587.7" cy="1443.6" r="5.15"/>
<circle cx="1594.6" cy="1446.5" r="5.15"/>
<circle cx="1598.1" cy="1447.1" r="5.15"/>
<circle cx="1577.3" cy="1450.5" r="5.15"/>
<circle cx="1489.5" cy="1456.5" r="5.15"/>
<circle cx="1460.6" cy="1458" r="5.15"/>
<circle cx="1462.9" cy="1461.5" r="5.15"/>
<circle cx="1417.8" cy="1460.3" r="5.15"/>
<circle cx="1424.2" cy="1459.2" r="5.15"/>
<circle cx="1429.4" cy="1465.5" r="5.15"/>
<circle cx="1471" cy="1465.5" r="5.15"/>
<circle cx="1467.5" cy="1470.2" r="5.15"/>
<circle cx="1484.3" cy="1468.1" r="5.15"/>
<circle cx="1546.7" cy="1459.2" r="5.15"/>
<circle cx="1546.1" cy="1465.5" r="5.15"/>
<circle cx="1577.9" cy="1460.3" r="5.15"/>
<circle cx="1590" cy="1466.7" r="5.15"/>
<circle cx="1598.1" cy="1467.3" r="5.15"/>
<circle cx="1537.4" cy="1471.9" r="5.15"/>
<circle cx="1562.8" cy="1471.9" r="5.15"/>
<circle cx="1572.7" cy="1473.6" r="5.15"/>
<circle cx="1436.3" cy="1476.5" r="5.15"/>
<circle cx="1470.4" cy="1473.6" r="5.15"/>
<circle cx="1457.7" cy="1476.5" r="5.15"/>
<circle cx="1455.9" cy="1484" r="5.15"/>
<circle cx="1443.2" cy="1484.6" r="5.15"/>
<circle cx="1387.2" cy="1480.6" r="5.15"/>
<circle cx="1510.8" cy="1477.7" r="5.15"/>
<circle cx="1507.9" cy="1484.6" r="5.15"/>
<circle cx="1498.1" cy="1488.7" r="5.15"/>
<circle cx="1527" cy="1475.9" r="5.15"/>
<circle cx="1542.6" cy="1477.7" r="5.15"/>
<circle cx="1548.4" cy="1480" r="5.15"/>
<circle cx="1543.8" cy="1482.9" r="5.15"/>
<circle cx="1554.2" cy="1487.5" r="5.15"/>
<circle cx="1543.8" cy="1491" r="5.15"/>
<circle cx="1482.5" cy="1491.2" r="5.15"/>
<circle cx="1593.4" cy="1481.7" r="5.15"/>
<circle cx="1596.9" cy="1485.8" r="5.15"/>
<circle cx="1416.1" cy="1500.6" r="5.15"/>
<circle cx="1440.4" cy="1500" r="5.15"/>
<circle cx="1447.9" cy="1500.2" r="5.15"/>
<circle cx="1452.5" cy="1500.2" r="5.15"/>
<circle cx="1464.3" cy="1497.3" r="5.15"/>
<circle cx="1475.6" cy="1500.6" r="5.15"/>
<circle cx="1485.2" cy="1506.3" r="5.15"/>
<circle cx="1553" cy="1496.2" r="5.15"/>
<circle cx="1562.8" cy="1503.4" r="5.15"/>
<circle cx="1587.7" cy="1502.3" r="5.15"/>
<circle cx="1595.8" cy="1500.2" r="5.15"/>
<circle cx="1499.3" cy="1509.5" r="5.15"/>
<circle cx="1507.9" cy="1510.6" r="5.15"/>
<circle cx="1513.7" cy="1509.5" r="5.15"/>
<circle cx="1524.1" cy="1507.7" r="5.15"/>
<circle cx="1531.1" cy="1508.3" r="5.15"/>
<circle cx="1542" cy="1510" r="5.15"/>
<circle cx="1533.4" cy="1515.2" r="5.15"/>
<circle cx="1536.8" cy="1516.4" r="5.15"/>
<circle cx="1527.6" cy="1517.5" r="5.15"/>
<circle cx="1473.3" cy="1515.2" r="5.15"/>
<circle cx="1465.8" cy="1518.1" r="5.15"/>
<circle cx="1439.2" cy="1522.2" r="5.15"/>
<circle cx="1415.5" cy="1524.5" r="5.15"/>
<circle cx="1398.8" cy="1526.6" r="5.15"/>
<circle cx="1419" cy="1531.6" r="5.15"/>
<circle cx="1439.8" cy="1526.8" r="5.15"/>
<circle cx="1444.4" cy="1531.4" r="5.15"/>
<circle cx="1457.7" cy="1530.5" r="5.15"/>
<circle cx="1465.8" cy="1525.6" r="5.15"/>
<circle cx="1479.1" cy="1522.2" r="5.15"/>
<circle cx="1484.8" cy="1529.1" r="5.15"/>
<circle cx="1492.9" cy="1526.8" r="5.15"/>
<circle cx="1551.9" cy="1522.7" r="5.15"/>
<circle cx="1552.4" cy="1525.6" r="5.15"/>
<circle cx="1527" cy="1526.8" r="5.15"/>
<circle cx="1532.8" cy="1531.4" r="5.15"/>
<circle cx="1584.2" cy="1527.9" r="5.15"/>
<circle cx="1598.1" cy="1532.6" r="5.15"/>
<circle cx="1504.5" cy="1534.9" r="5.15"/>
<circle cx="1566.9" cy="1534.3" r="5.15"/>
<circle cx="1548.4" cy="1537.8" r="5.15"/>
<circle cx="1440.9" cy="1537.2" r="5.15"/>
<circle cx="1444.4" cy="1539.5" r="5.15"/>
<circle cx="1451.3" cy="1541.2" r="5.15"/>
<circle cx="1509.1" cy="1540.7" r="5.15"/>
<circle cx="1502.2" cy="1541.8" r="5.15"/>
<circle cx="1497.5" cy="1546.4" r="5.15"/>
<circle cx="1398.5" cy="1544.5" r="5.15"/>
<circle cx="1562.3" cy="1543" r="5.15"/>
<circle cx="1564.6" cy="1552.2" r="5.15"/>
<circle cx="1546.1" cy="1553.4" r="5.15"/>
<circle cx="1598.1" cy="1548.7" r="5.15"/>
<circle cx="1599.2" cy="1553.4" r="5.15"/>
<circle cx="1427.1" cy="1551.1" r="5.15"/>
<circle cx="1416.7" cy="1558.6" r="5.15"/>
<circle cx="1433.4" cy="1556.8" r="5.15"/>
<circle cx="1437.5" cy="1563.8" r="5.15"/>
<circle cx="1428.2" cy="1567.2" r="5.15"/>
<circle cx="1499.3" cy="1562.6" r="5.15"/>
<circle cx="1466.3" cy="1566.1" r="5.15"/>
<circle cx="1530.5" cy="1566.1" r="5.15"/>
<circle cx="1577.3" cy="1558" r="5.15"/>
<circle cx="1581.9" cy="1562.6" r="5.15"/>
<circle cx="1553" cy="1563.8" r="5.15"/>
<circle cx="1564.6" cy="1566.1" r="5.15"/>
<circle cx="1434" cy="1569.5" r="5.15"/>
<circle cx="1437.5" cy="1577" r="5.15"/>
<circle cx="1458.3" cy="1572.4" r="5.15"/>
<circle cx="1465.2" cy="1572.9" r="5.15"/>
<circle cx="1469.8" cy="1578.7" r="5.15"/>
<circle cx="1470.4" cy="1585.6" r="5.15"/>
<circle cx="1476.7" cy="1568.3" r="5.15"/>
<circle cx="1489.5" cy="1569.5" r="5.15"/>
<circle cx="1536.8" cy="1578.7" r="5.15"/>
<circle cx="1537.4" cy="1583.3" r="5.15"/>
<circle cx="1542" cy="1584.5" r="5.15"/>
<circle cx="1550.7" cy="1569.5" r="5.15"/>
<circle cx="1557.6" cy="1569.5" r="5.15"/>
<circle cx="1562.3" cy="1570.6" r="5.15"/>
<circle cx="1569.2" cy="1568.9" r="5.15"/>
<circle cx="1598.1" cy="1577.6" r="5.15"/>
<circle cx="1576.1" cy="1582.8" r="5.15"/>
<circle cx="1584.2" cy="1581" r="5.15"/>
<circle cx="1590" cy="1584.5" r="5.15"/>
<circle cx="1518.1" cy="1586" r="5.15"/>
<circle cx="1410.5" cy="1588.2" r="5.15"/>
<circle cx="1437.8" cy="1588.5" r="5.15"/>
<circle cx="1423.9" cy="1591.7" r="5.15"/>
<circle cx="1440.9" cy="1596.6" r="5.15"/>
<circle cx="1455" cy="1591.7" r="5.15"/>
<circle cx="1462.9" cy="1599.5" r="5.15"/>
<circle cx="1388.9" cy="1598.4" r="5.15"/>
<circle cx="1585.4" cy="1591.4" r="5.15"/>
<circle cx="1583.1" cy="1599.5" r="5.15"/>
<circle cx="1486.3" cy="1604.5" r="5.15"/>
<circle cx="1514.1" cy="1608.2" r="5.15"/>
<circle cx="1526.4" cy="1608.2" r="5.15"/>
<circle cx="1543.8" cy="1607" r="5.15"/>
<circle cx="1539.1" cy="1613.4" r="5.15"/>
<circle cx="1542.6" cy="1615.7" r="5.15"/>
<circle cx="1583.1" cy="1609.9" r="5.15"/>
<circle cx="1590" cy="1617.4" r="5.15"/>
<circle cx="1406.8" cy="1613.4" r="5.15"/>
<circle cx="1417" cy="1612.8" r="5.15"/>
<circle cx="1502.5" cy="1620.3" r="5.15"/>
<circle cx="1525.3" cy="1618.6" r="5.15"/>
<circle cx="1569.2" cy="1617.4" r="5.15"/>
<circle cx="1559.4" cy="1619.2" r="5.15"/>
<circle cx="1386" cy="1623.4" r="5.15"/>
<circle cx="1403.6" cy="1629" r="5.15"/>
<circle cx="1427.4" cy="1628.4" r="5.15"/>
<circle cx="1451.9" cy="1626.7" r="5.15"/>
<circle cx="1457.1" cy="1625.9" r="5.15"/>
<circle cx="1450.8" cy="1634.2" r="5.15"/>
<circle cx="1503.6" cy="1629.3" r="5.15"/>
<circle cx="1530.5" cy="1629" r="5.15"/>
<circle cx="1538.6" cy="1627.2" r="5.15"/>
<circle cx="1563.4" cy="1628.4" r="5.15"/>
<circle cx="1573.8" cy="1627.2" r="5.15"/>
<circle cx="1579.6" cy="1641.7" r="5.15"/>
<circle cx="1448.7" cy="1644.6" r="5.15"/>
<circle cx="1466.3" cy="1645.7" r="5.15"/>
<circle cx="1473.3" cy="1645.7" r="5.15"/>
<circle cx="1487.1" cy="1642.8" r="5.15"/>
<circle cx="1490" cy="1646.9" r="5.15"/>
<circle cx="1500.4" cy="1646.3" r="5.15"/>
<circle cx="1509.1" cy="1652.7" r="5.15"/>
<circle cx="1514.9" cy="1657.3" r="5.15"/>
<circle cx="1520.1" cy="1660.2" r="5.15"/>
<circle cx="1537.8" cy="1649" r="5.15"/>
<circle cx="1565.7" cy="1650.9" r="5.15"/>
<circle cx="1571.5" cy="1653.8" r="5.15"/>
<circle cx="1585.9" cy="1658.4" r="5.15"/>
<circle cx="1598.1" cy="1655" r="5.15"/>
<circle cx="1596.9" cy="1661.9" r="5.15"/>
<circle cx="1423" cy="1650.9" r="5.15"/>
<circle cx="1412.9" cy="1656.7" r="5.15"/>
<circle cx="1411.2" cy="1660.7" r="5.15"/>
<circle cx="1440.6" cy="1654" r="5.15"/>
<circle cx="1468.1" cy="1657.3" r="5.15"/>
<circle cx="1480.2" cy="1659.6" r="5.15"/>
<circle cx="1457.5" cy="1664.6" r="5.15"/>
<circle cx="1420.9" cy="1667.1" r="5.15"/>
<circle cx="1469.2" cy="1672.3" r="5.15"/>
<circle cx="1484.5" cy="1670.6" r="5.15"/>
<circle cx="1480.8" cy="1676.9" r="5.15"/>
<circle cx="1468.4" cy="1681.5" r="5.15"/>
<circle cx="1506.6" cy="1669.4" r="5.15"/>
<circle cx="1509.1" cy="1676.9" r="5.15"/>
<circle cx="1525.3" cy="1678.7" r="5.15"/>
<circle cx="1536.3" cy="1679.2" r="5.15"/>
<circle cx="1548.2" cy="1676.6" r="5.15"/>
<circle cx="1586.9" cy="1677.2" r="5.15"/>
<circle cx="1532.8" cy="1686.7" r="5.15"/>
<circle cx="1488.3" cy="1686.7" r="5.15"/>
<circle cx="1433.4" cy="1683.9" r="5.15"/>
<circle cx="1431.1" cy="1686.7" r="5.15"/>
<circle cx="1403.6" cy="1688.5" r="5.15"/>
<circle cx="1397" cy="1693.1" r="5.15"/>
<circle cx="1426.5" cy="1700.4" r="5.15"/>
<circle cx="1432.3" cy="1705.2" r="5.15"/>
<circle cx="1441.5" cy="1707.2" r="5.15"/>
<circle cx="1478.1" cy="1702.6" r="5.15"/>
<circle cx="1557.1" cy="1702.3" r="5.15"/>
<circle cx="1579.4" cy="1696.3" r="5.15"/>
<circle cx="1513.7" cy="1711" r="5.15"/>
<circle cx="1518.3" cy="1713" r="5.15"/>
<circle cx="1398.5" cy="1715.1" r="5.15"/>
<circle cx="1507.4" cy="1717.9" r="5.15"/>
<circle cx="1414.7" cy="1721.2" r="5.15"/>
<circle cx="1472.7" cy="1724.9" r="5.15"/>
<circle cx="1549.5" cy="1727.2" r="5.15"/>
<circle cx="1562.3" cy="1726" r="5.15"/>
<circle cx="1460.2" cy="1733.5" r="5.15"/>
<circle cx="1472.7" cy="1735.9" r="5.15"/>
<circle cx="1443.2" cy="1740.2" r="5.15"/>
<circle cx="1545.3" cy="1741.1" r="5.15"/>
<circle cx="1491.8" cy="1748.6" r="5.15"/>
<circle cx="1592.3" cy="1748.3" r="5.15"/>
<circle cx="1475.9" cy="1757.2" r="5.15"/>
<circle cx="1505.4" cy="1779.8" r="5.15"/>
<circle cx="1444.4" cy="1806" r="5.15"/>
<circle cx="1459.6" cy="1802.5" r="5.15"/>
<circle cx="1494.3" cy="1815.5" r="5.15"/>
<circle cx="1526.1" cy="1811.2" r="5.15"/>
<circle cx="1461.5" cy="1829.1" r="5.15"/>
<circle cx="1596.3" cy="1877.7" r="5.15"/>
<circle cx="1531.9" cy="1935.3" r="5.15"/>
<circle cx="1490.6" cy="1971.1" r="5.15"/>
<circle cx="1678.9" cy="1157.7" r="5.15"/>
<circle cx="1766.4" cy="1169" r="5.15"/>
<circle cx="1809.4" cy="1173.9" r="5.15"/>
<circle cx="1790.7" cy="1184" r="5.15"/>
<circle cx="1637.1" cy="1193.9" r="5.15"/>
<circle cx="1741.3" cy="1194.9" r="5.15"/>
<circle cx="1754" cy="1191.2" r="5.15"/>
<circle cx="1758" cy="1194.1" r="5.15"/>
<circle cx="1766.1" cy="1192.4" r="5.15"/>
<circle cx="1769" cy="1187.7" r="5.15"/>
<circle cx="1617.9" cy="1219.3" r="5.15"/>
<circle cx="1696" cy="1221.5" r="5.15"/>
<circle cx="1642.8" cy="1225.9" r="5.15"/>
<circle cx="1634.4" cy="1231.4" r="5.15"/>
<circle cx="1647.5" cy="1235.7" r="5.15"/>
<circle cx="1601.5" cy="1239.4" r="5.15"/>
<circle cx="1617.9" cy="1244.3" r="5.15"/>
<circle cx="1664.1" cy="1244.3" r="5.15"/>
<circle cx="1699.3" cy="1239.1" r="5.15"/>
<circle cx="1807.1" cy="1237.4" r="5.15"/>
<circle cx="1808.9" cy="1238.6" r="5.15"/>
<circle cx="1721.4" cy="1249.2" r="5.15"/>
<circle cx="1798.7" cy="1249" r="5.15"/>
<circle cx="1620" cy="1256.1" r="5.15"/>
<circle cx="1670.6" cy="1257.1" r="5.15"/>
<circle cx="1692.7" cy="1256.5" r="5.15"/>
<circle cx="1803.7" cy="1256.5" r="5.15"/>
<circle cx="1718.2" cy="1263.8" r="5.15"/>
<circle cx="1789.2" cy="1260.5" r="5.15"/>
<circle cx="1783.5" cy="1266.3" r="5.15"/>
<circle cx="1809.4" cy="1269.2" r="5.15"/>
<circle cx="1631.9" cy="1275.2" r="5.15"/>
<circle cx="1672.5" cy="1277.5" r="5.15"/>
<circle cx="1796.2" cy="1277.3" r="5.15"/>
<circle cx="1811.8" cy="1279" r="5.15"/>
<circle cx="1705.7" cy="1288.8" r="5.15"/>
<circle cx="1727.4" cy="1287.7" r="5.15"/>
<circle cx="1780.8" cy="1289.4" r="5.15"/>
<circle cx="1615.3" cy="1295" r="5.15"/>
<circle cx="1807.1" cy="1298.1" r="5.15"/>
<circle cx="1811.2" cy="1298.7" r="5.15"/>
<circle cx="1611.3" cy="1307.3" r="5.15"/>
<circle cx="1606.1" cy="1310.2" r="5.15"/>
<circle cx="1636.1" cy="1311.9" r="5.15"/>
<circle cx="1661.8" cy="1311.6" r="5.15"/>
<circle cx="1671.6" cy="1319.7" r="5.15"/>
<circle cx="1794.4" cy="1320" r="5.15"/>
<circle cx="1613.4" cy="1327.5" r="5.15"/>
<circle cx="1738" cy="1326.6" r="5.15"/>
<circle cx="1681.8" cy="1331.2" r="5.15"/>
<circle cx="1700.8" cy="1328.1" r="5.15"/>
<circle cx="1706.6" cy="1329.9" r="5.15"/>
<circle cx="1729.4" cy="1334.7" r="5.15"/>
<circle cx="1748.2" cy="1337" r="5.15"/>
<circle cx="1762.3" cy="1340.2" r="5.15"/>
<circle cx="1637.3" cy="1339.1" r="5.15"/>
<circle cx="1737.8" cy="1344.3" r="5.15"/>
<circle cx="1790" cy="1345.7" r="5.15"/>
<circle cx="1616.5" cy="1346.6" r="5.15"/>
<circle cx="1621.7" cy="1346.8" r="5.15"/>
<circle cx="1634.7" cy="1346" r="5.15"/>
<circle cx="1676.2" cy="1345.2" r="5.15"/>
<circle cx="1762.1" cy="1347.8" r="5.15"/>
<circle cx="1810.6" cy="1349.5" r="5.15"/>
<circle cx="1624.6" cy="1362.1" r="5.15"/>
<circle cx="1685.8" cy="1352.9" r="5.15"/>
<circle cx="1690.4" cy="1352.3" r="5.15"/>
<circle cx="1730.9" cy="1353.5" r="5.15"/>
<circle cx="1737.8" cy="1352.3" r="5.15"/>
<circle cx="1755.1" cy="1353.5" r="5.15"/>
<circle cx="1759.8" cy="1352.3" r="5.15"/>
<circle cx="1768.4" cy="1361.6" r="5.15"/>
<circle cx="1778.8" cy="1358.7" r="5.15"/>
<circle cx="1803.1" cy="1366.8" r="5.15"/>
<circle cx="1654" cy="1369.1" r="5.15"/>
<circle cx="1663.9" cy="1370.8" r="5.15"/>
<circle cx="1671.4" cy="1374.3" r="5.15"/>
<circle cx="1714.1" cy="1368.5" r="5.15"/>
<circle cx="1712.4" cy="1373.7" r="5.15"/>
<circle cx="1739.5" cy="1367.3" r="5.15"/>
<circle cx="1611.3" cy="1379.1" r="5.15"/>
<circle cx="1634.6" cy="1375.4" r="5.15"/>
<circle cx="1688.5" cy="1377.2" r="5.15"/>
<circle cx="1698.5" cy="1377.7" r="5.15"/>
<circle cx="1739.5" cy="1377.2" r="5.15"/>
<circle cx="1748.2" cy="1375.4" r="5.15"/>
<circle cx="1763.2" cy="1374.8" r="5.15"/>
<circle cx="1773.1" cy="1382.4" r="5.15"/>
<circle cx="1631.5" cy="1394.5" r="5.15"/>
<circle cx="1693.3" cy="1387" r="5.15"/>
<circle cx="1693.9" cy="1395.6" r="5.15"/>
<circle cx="1685.2" cy="1399.1" r="5.15"/>
<circle cx="1748.8" cy="1390.4" r="5.15"/>
<circle cx="1742.4" cy="1396.8" r="5.15"/>
<circle cx="1659.2" cy="1399.7" r="5.15"/>
<circle cx="1658.1" cy="1402" r="5.15"/>
<circle cx="1778" cy="1400.5" r="5.15"/>
<circle cx="1717" cy="1406" r="5.15"/>
<circle cx="1750.5" cy="1406.6" r="5.15"/>
<circle cx="1756.3" cy="1409.5" r="5.15"/>
<circle cx="1757.5" cy="1418.2" r="5.15"/>
<circle cx="1654.6" cy="1417" r="5.15"/>
<circle cx="1665" cy="1419.9" r="5.15"/>
<circle cx="1677.4" cy="1422.2" r="5.15"/>
<circle cx="1607.2" cy="1419.9" r="5.15"/>
<circle cx="1626.7" cy="1423.9" r="5.15"/>
<circle cx="1703.7" cy="1415.3" r="5.15"/>
<circle cx="1706.6" cy="1417.6" r="5.15"/>
<circle cx="1718.2" cy="1424.5" r="5.15"/>
<circle cx="1660.4" cy="1430.9" r="5.15"/>
<circle cx="1662.1" cy="1436.1" r="5.15"/>
<circle cx="1682.9" cy="1430.9" r="5.15"/>
<circle cx="1701.4" cy="1430.9" r="5.15"/>
<circle cx="1728" cy="1431.5" r="5.15"/>
<circle cx="1741.9" cy="1428.6" r="5.15"/>
<circle cx="1749.9" cy="1431.5" r="5.15"/>
<circle cx="1650.6" cy="1440.7" r="5.15"/>
<circle cx="1680.6" cy="1441.3" r="5.15"/>
<circle cx="1692.7" cy="1441.3" r="5.15"/>
<circle cx="1713.5" cy="1448.2" r="5.15"/>
<circle cx="1725.1" cy="1447.1" r="5.15"/>
<circle cx="1735.5" cy="1445.9" r="5.15"/>
<circle cx="1604.4" cy="1448.2" r="5.15"/>
<circle cx="1653.5" cy="1450.5" r="5.15"/>
<circle cx="1658.1" cy="1449.9" r="5.15"/>
<circle cx="1670.8" cy="1452.3" r="5.15"/>
<circle cx="1681.2" cy="1452.3" r="5.15"/>
<circle cx="1694.5" cy="1452.8" r="5.15"/>
<circle cx="1764.7" cy="1449.4" r="5.15"/>
<circle cx="1622.8" cy="1456.3" r="5.15"/>
<circle cx="1632.1" cy="1454.6" r="5.15"/>
<circle cx="1715.3" cy="1456.3" r="5.15"/>
<circle cx="1725.7" cy="1455.1" r="5.15"/>
<circle cx="1637.3" cy="1462.1" r="5.15"/>
<circle cx="1644.8" cy="1463.2" r="5.15"/>
<circle cx="1701.4" cy="1460.3" r="5.15"/>
<circle cx="1683.5" cy="1460.3" r="5.15"/>
<circle cx="1681.2" cy="1463.8" r="5.15"/>
<circle cx="1677.7" cy="1466.7" r="5.15"/>
<circle cx="1734.3" cy="1461.5" r="5.15"/>
<circle cx="1724.5" cy="1466.7" r="5.15"/>
<circle cx="1621.7" cy="1470.2" r="5.15"/>
<circle cx="1814.1" cy="1462.1" r="5.15"/>
<circle cx="1616.5" cy="1474.2" r="5.15"/>
<circle cx="1611.3" cy="1476.5" r="5.15"/>
<circle cx="1636.1" cy="1475.9" r="5.15"/>
<circle cx="1647.7" cy="1475.9" r="5.15"/>
<circle cx="1674.3" cy="1476.5" r="5.15"/>
<circle cx="1671.4" cy="1478.3" r="5.15"/>
<circle cx="1736.1" cy="1473.1" r="5.15"/>
<circle cx="1737.2" cy="1478.3" r="5.15"/>
<circle cx="1754.6" cy="1474.2" r="5.15"/>
<circle cx="1759.8" cy="1472.5" r="5.15"/>
<circle cx="1761.5" cy="1475.9" r="5.15"/>
<circle cx="1769" cy="1474.2" r="5.15"/>
<circle cx="1790" cy="1472.5" r="5.15"/>
<circle cx="1800.4" cy="1479.4" r="5.15"/>
<circle cx="1704.9" cy="1480.6" r="5.15"/>
<circle cx="1722.2" cy="1481.7" r="5.15"/>
<circle cx="1720.5" cy="1484" r="5.15"/>
<circle cx="1755.7" cy="1484.6" r="5.15"/>
<circle cx="1769.6" cy="1483.5" r="5.15"/>
<circle cx="1652.3" cy="1479.4" r="5.15"/>
<circle cx="1661" cy="1482.9" r="5.15"/>
<circle cx="1662.7" cy="1489.8" r="5.15"/>
<circle cx="1604.9" cy="1486.3" r="5.15"/>
<circle cx="1601.5" cy="1484" r="5.15"/>
<circle cx="1781.7" cy="1490.4" r="5.15"/>
<circle cx="1791.5" cy="1492.7" r="5.15"/>
<circle cx="1814.1" cy="1488.7" r="5.15"/>
<circle cx="1810.6" cy="1493.3" r="5.15"/>
<circle cx="1650" cy="1496.2" r="5.15"/>
<circle cx="1673.1" cy="1497.9" r="5.15"/>
<circle cx="1677.7" cy="1500.2" r="5.15"/>
<circle cx="1690.8" cy="1500.2" r="5.15"/>
<circle cx="1754.2" cy="1498.5" r="5.15"/>
<circle cx="1786.3" cy="1498.5" r="5.15"/>
<circle cx="1729.7" cy="1502.5" r="5.15"/>
<circle cx="1723.9" cy="1506" r="5.15"/>
<circle cx="1665" cy="1503.7" r="5.15"/>
<circle cx="1673.1" cy="1506" r="5.15"/>
<circle cx="1797.9" cy="1506" r="5.15"/>
<circle cx="1815.2" cy="1501.4" r="5.15"/>
<circle cx="1602.6" cy="1499.1" r="5.15"/>
<circle cx="1606.1" cy="1508.3" r="5.15"/>
<circle cx="1610.7" cy="1511.8" r="5.15"/>
<circle cx="1639" cy="1511.8" r="5.15"/>
<circle cx="1652.3" cy="1511.8" r="5.15"/>
<circle cx="1677.7" cy="1512.9" r="5.15"/>
<circle cx="1691.6" cy="1515.2" r="5.15"/>
<circle cx="1695.1" cy="1517" r="5.15"/>
<circle cx="1735.5" cy="1515.8" r="5.15"/>
<circle cx="1799.1" cy="1515.2" r="5.15"/>
<circle cx="1628" cy="1517.5" r="5.15"/>
<circle cx="1752.8" cy="1517.5" r="5.15"/>
<circle cx="1616.5" cy="1515.2" r="5.15"/>
<circle cx="1714.7" cy="1519.9" r="5.15"/>
<circle cx="1624" cy="1523.3" r="5.15"/>
<circle cx="1639.6" cy="1522.2" r="5.15"/>
<circle cx="1660.4" cy="1523.3" r="5.15"/>
<circle cx="1665" cy="1525.6" r="5.15"/>
<circle cx="1681.2" cy="1523.3" r="5.15"/>
<circle cx="1749.4" cy="1524.5" r="5.15"/>
<circle cx="1751.7" cy="1530.3" r="5.15"/>
<circle cx="1765.5" cy="1529.1" r="5.15"/>
<circle cx="1770.7" cy="1530.3" r="5.15"/>
<circle cx="1809.4" cy="1530.3" r="5.15"/>
<circle cx="1727.4" cy="1532" r="5.15"/>
<circle cx="1607.2" cy="1528.5" r="5.15"/>
<circle cx="1603.8" cy="1523.3" r="5.15"/>
<circle cx="1637.9" cy="1536.6" r="5.15"/>
<circle cx="1677.7" cy="1533.7" r="5.15"/>
<circle cx="1714.7" cy="1535.5" r="5.15"/>
<circle cx="1750.5" cy="1534.9" r="5.15"/>
<circle cx="1758.6" cy="1537.2" r="5.15"/>
<circle cx="1617.6" cy="1538.3" r="5.15"/>
<circle cx="1622.8" cy="1541.8" r="5.15"/>
<circle cx="1665" cy="1539.5" r="5.15"/>
<circle cx="1667.3" cy="1540.7" r="5.15"/>
<circle cx="1682.3" cy="1540.7" r="5.15"/>
<circle cx="1689.3" cy="1538.9" r="5.15"/>
<circle cx="1713" cy="1540.7" r="5.15"/>
<circle cx="1699.7" cy="1544.7" r="5.15"/>
<circle cx="1781.7" cy="1543" r="5.15"/>
<circle cx="1799.3" cy="1542.7" r="5.15"/>
<circle cx="1758" cy="1547.6" r="5.15"/>
<circle cx="1607.8" cy="1546.4" r="5.15"/>
<circle cx="1621.1" cy="1547.6" r="5.15"/>
<circle cx="1643.6" cy="1553.9" r="5.15"/>
<circle cx="1665.6" cy="1552.2" r="5.15"/>
<circle cx="1708.3" cy="1552.8" r="5.15"/>
<circle cx="1745.7" cy="1556.2" r="5.15"/>
<circle cx="1755.7" cy="1562" r="5.15"/>
<circle cx="1673.1" cy="1562.6" r="5.15"/>
<circle cx="1696.2" cy="1561.4" r="5.15"/>
<circle cx="1699.7" cy="1563.8" r="5.15"/>
<circle cx="1606.1" cy="1563.8" r="5.15"/>
<circle cx="1652.3" cy="1571.8" r="5.15"/>
<circle cx="1644.2" cy="1578.1" r="5.15"/>
<circle cx="1660.4" cy="1578.1" r="5.15"/>
<circle cx="1767.5" cy="1579.1" r="5.15"/>
<circle cx="1811.5" cy="1577.2" r="5.15"/>
<circle cx="1690.8" cy="1582.4" r="5.15"/>
<circle cx="1784.3" cy="1583.3" r="5.15"/>
<circle cx="1623.4" cy="1585.1" r="5.15"/>
<circle cx="1635" cy="1585.6" r="5.15"/>
<circle cx="1640.8" cy="1586.8" r="5.15"/>
<circle cx="1650.6" cy="1583.3" r="5.15"/>
<circle cx="1713.9" cy="1591.1" r="5.15"/>
<circle cx="1606.1" cy="1592.6" r="5.15"/>
<circle cx="1602.6" cy="1597.2" r="5.15"/>
<circle cx="1620" cy="1594.9" r="5.15"/>
<circle cx="1652.3" cy="1593.7" r="5.15"/>
<circle cx="1655.8" cy="1600.7" r="5.15"/>
<circle cx="1660.4" cy="1599.5" r="5.15"/>
<circle cx="1666.2" cy="1597.8" r="5.15"/>
<circle cx="1671.9" cy="1597.2" r="5.15"/>
<circle cx="1687.3" cy="1595.5" r="5.15"/>
<circle cx="1698.3" cy="1599.5" r="5.15"/>
<circle cx="1784.6" cy="1594.5" r="5.15"/>
<circle cx="1744.7" cy="1602.7" r="5.15"/>
<circle cx="1615.3" cy="1605.3" r="5.15"/>
<circle cx="1699.7" cy="1606.4" r="5.15"/>
<circle cx="1704.9" cy="1610.5" r="5.15"/>
<circle cx="1684.9" cy="1608.8" r="5.15"/>
<circle cx="1777.3" cy="1609" r="5.15"/>
<circle cx="1793.3" cy="1607.6" r="5.15"/>
<circle cx="1616.5" cy="1613.4" r="5.15"/>
<circle cx="1620.5" cy="1615.7" r="5.15"/>
<circle cx="1648.3" cy="1613.4" r="5.15"/>
<circle cx="1644.2" cy="1619.2" r="5.15"/>
<circle cx="1671.9" cy="1615.1" r="5.15"/>
<circle cx="1675.4" cy="1614.5" r="5.15"/>
<circle cx="1695.9" cy="1620.5" r="5.15"/>
<circle cx="1749.4" cy="1620.9" r="5.15"/>
<circle cx="1769.8" cy="1620.9" r="5.15"/>
<circle cx="1791.9" cy="1618.6" r="5.15"/>
<circle cx="1610.1" cy="1624.9" r="5.15"/>
<circle cx="1621.1" cy="1623.8" r="5.15"/>
<circle cx="1628" cy="1627.2" r="5.15"/>
<circle cx="1622.3" cy="1626.7" r="5.15"/>
<circle cx="1644.8" cy="1631.3" r="5.15"/>
<circle cx="1648.8" cy="1635.3" r="5.15"/>
<circle cx="1681.8" cy="1633.6" r="5.15"/>
<circle cx="1673.7" cy="1638.8" r="5.15"/>
<circle cx="1697.9" cy="1637.6" r="5.15"/>
<circle cx="1608.4" cy="1635.6" r="5.15"/>
<circle cx="1740.1" cy="1640.5" r="5.15"/>
<circle cx="1604.9" cy="1646.3" r="5.15"/>
<circle cx="1664.4" cy="1652.7" r="5.15"/>
<circle cx="1625.7" cy="1654.4" r="5.15"/>
<circle cx="1629.8" cy="1657.3" r="5.15"/>
<circle cx="1648.6" cy="1656.7" r="5.15"/>
<circle cx="1733.2" cy="1656.1" r="5.15"/>
<circle cx="1796.4" cy="1657.3" r="5.15"/>
<circle cx="1601.5" cy="1658.4" r="5.15"/>
<circle cx="1608.4" cy="1661.9" r="5.15"/>
<circle cx="1614.2" cy="1659.6" r="5.15"/>
<circle cx="1692.2" cy="1662.5" r="5.15"/>
<circle cx="1723.1" cy="1665.9" r="5.15"/>
<circle cx="1679.2" cy="1670.9" r="5.15"/>
<circle cx="1649.4" cy="1669.4" r="5.15"/>
<circle cx="1645.4" cy="1675.2" r="5.15"/>
<circle cx="1653.5" cy="1679.8" r="5.15"/>
<circle cx="1625.4" cy="1676.3" r="5.15"/>
<circle cx="1631.9" cy="1683.9" r="5.15"/>
<circle cx="1739" cy="1680.2" r="5.15"/>
<circle cx="1637.9" cy="1730.1" r="5.15"/>
<circle cx="1652.3" cy="1733.5" r="5.15"/>
<circle cx="1739.2" cy="1728.7" r="5.15"/>
<circle cx="1656.9" cy="1787.8" r="5.15"/>
<circle cx="1637.3" cy="1803" r="5.15"/>
<circle cx="1718.2" cy="1800.7" r="5.15"/>
<circle cx="1755.4" cy="1977.9" r="5.15"/>
<circle cx="2017.4" cy="1166" r="5.15"/>
<circle cx="1833.4" cy="1198.4" r="5.15"/>
<circle cx="1920.6" cy="1203.3" r="5.15"/>
<circle cx="1966.3" cy="1219.5" r="5.15"/>
<circle cx="1994" cy="1215.2" r="5.15"/>
<circle cx="1825.6" cy="1238.3" r="5.15"/>
<circle cx="1882.4" cy="1237.8" r="5.15"/>
<circle cx="1916" cy="1233.7" r="5.15"/>
<circle cx="1857.1" cy="1250.5" r="5.15"/>
<circle cx="2018.9" cy="1255.1" r="5.15"/>
<circle cx="1828.4" cy="1261.4" r="5.15"/>
<circle cx="1822.1" cy="1267.8" r="5.15"/>
<circle cx="1909.1" cy="1268.4" r="5.15"/>
<circle cx="2030.6" cy="1272.1" r="5.15"/>
<circle cx="1831.3" cy="1273.5" r="5.15"/>
<circle cx="1848.4" cy="1277.6" r="5.15"/>
<circle cx="1871" cy="1278.4" r="5.15"/>
<circle cx="1892.3" cy="1280.2" r="5.15"/>
<circle cx="1854.8" cy="1288" r="5.15"/>
<circle cx="1833.4" cy="1290" r="5.15"/>
<circle cx="1840.9" cy="1296.3" r="5.15"/>
<circle cx="1893.5" cy="1296.3" r="5.15"/>
<circle cx="1950.3" cy="1298.9" r="5.15"/>
<circle cx="1822.1" cy="1305" r="5.15"/>
<circle cx="1819.8" cy="1309.6" r="5.15"/>
<circle cx="1870.6" cy="1306.2" r="5.15"/>
<circle cx="1891.4" cy="1304.7" r="5.15"/>
<circle cx="1898.9" cy="1303.3" r="5.15"/>
<circle cx="1870.4" cy="1312.2" r="5.15"/>
<circle cx="1833.1" cy="1322.1" r="5.15"/>
<circle cx="1950.7" cy="1324.7" r="5.15"/>
<circle cx="2002.7" cy="1323.5" r="5.15"/>
<circle cx="2013.1" cy="1326.4" r="5.15"/>
<circle cx="2024.9" cy="1322.3" r="5.15"/>
<circle cx="1874.1" cy="1329.3" r="5.15"/>
<circle cx="1976.3" cy="1331.8" r="5.15"/>
<circle cx="1819.8" cy="1333.9" r="5.15"/>
<circle cx="1833.6" cy="1333.3" r="5.15"/>
<circle cx="1923.2" cy="1345.8" r="5.15"/>
<circle cx="1826.1" cy="1358.1" r="5.15"/>
<circle cx="1838.3" cy="1363.9" r="5.15"/>
<circle cx="1844.6" cy="1362.7" r="5.15"/>
<circle cx="1849.2" cy="1367.9" r="5.15"/>
<circle cx="1872.4" cy="1364.4" r="5.15"/>
<circle cx="1887.9" cy="1354.6" r="5.15"/>
<circle cx="1893.7" cy="1355.8" r="5.15"/>
<circle cx="1901.2" cy="1358.1" r="5.15"/>
<circle cx="1936.2" cy="1362.9" r="5.15"/>
<circle cx="1921.1" cy="1371.4" r="5.15"/>
<circle cx="1957.3" cy="1370.8" r="5.15"/>
<circle cx="1962.5" cy="1371.4" r="5.15"/>
<circle cx="1958.4" cy="1377.7" r="5.15"/>
<circle cx="1981" cy="1360.6" r="5.15"/>
<circle cx="1990" cy="1369.6" r="5.15"/>
<circle cx="2025.4" cy="1355.8" r="5.15"/>
<circle cx="2028.3" cy="1369.1" r="5.15"/>
<circle cx="1818" cy="1384.7" r="5.15"/>
<circle cx="1829" cy="1388.1" r="5.15"/>
<circle cx="1832.5" cy="1389.3" r="5.15"/>
<circle cx="1830.2" cy="1392.8" r="5.15"/>
<circle cx="1824.4" cy="1397.4" r="5.15"/>
<circle cx="1850.6" cy="1390.2" r="5.15"/>
<circle cx="1861.7" cy="1381.4" r="5.15"/>
<circle cx="1890.3" cy="1388.5" r="5.15"/>
<circle cx="1874.3" cy="1399.5" r="5.15"/>
<circle cx="1934.5" cy="1401.2" r="5.15"/>
<circle cx="2021.4" cy="1396.8" r="5.15"/>
<circle cx="2033" cy="1380.6" r="5.15"/>
<circle cx="1828.8" cy="1410.9" r="5.15"/>
<circle cx="1882.4" cy="1412.4" r="5.15"/>
<circle cx="1914.5" cy="1424.2" r="5.15"/>
<circle cx="1980.4" cy="1419" r="5.15"/>
<circle cx="1817.5" cy="1424.5" r="5.15"/>
<circle cx="1833.1" cy="1432.6" r="5.15"/>
<circle cx="1839.4" cy="1429.7" r="5.15"/>
<circle cx="1846.4" cy="1430.9" r="5.15"/>
<circle cx="1848.7" cy="1435.5" r="5.15"/>
<circle cx="1845.2" cy="1440.1" r="5.15"/>
<circle cx="1818" cy="1434.3" r="5.15"/>
<circle cx="1965.9" cy="1432.6" r="5.15"/>
<circle cx="1958.4" cy="1438" r="5.15"/>
<circle cx="2021.4" cy="1432.3" r="5.15"/>
<circle cx="1824.4" cy="1449.4" r="5.15"/>
<circle cx="1850.6" cy="1452" r="5.15"/>
<circle cx="1866" cy="1451.7" r="5.15"/>
<circle cx="1870" cy="1447.1" r="5.15"/>
<circle cx="1879.1" cy="1446.7" r="5.15"/>
<circle cx="1994.8" cy="1459" r="5.15"/>
<circle cx="2022" cy="1459.8" r="5.15"/>
<circle cx="1883.9" cy="1460.3" r="5.15"/>
<circle cx="1878.7" cy="1465" r="5.15"/>
<circle cx="1839.4" cy="1468.1" r="5.15"/>
<circle cx="1824.4" cy="1465.5" r="5.15"/>
<circle cx="1818.6" cy="1464.4" r="5.15"/>
<circle cx="1864.3" cy="1481.1" r="5.15"/>
<circle cx="1885.6" cy="1486" r="5.15"/>
<circle cx="1852.7" cy="1488.7" r="5.15"/>
<circle cx="1855.6" cy="1493.3" r="5.15"/>
<circle cx="1938.6" cy="1487.5" r="5.15"/>
<circle cx="1942.3" cy="1495" r="5.15"/>
<circle cx="2029.5" cy="1492.9" r="5.15"/>
<circle cx="1823" cy="1500" r="5.15"/>
<circle cx="1846.7" cy="1499.1" r="5.15"/>
<circle cx="1859.4" cy="1501.4" r="5.15"/>
<circle cx="1878.7" cy="1499.6" r="5.15"/>
<circle cx="1877" cy="1504.8" r="5.15"/>
<circle cx="1896" cy="1503.4" r="5.15"/>
<circle cx="1891.4" cy="1507.1" r="5.15"/>
<circle cx="1921.1" cy="1517.2" r="5.15"/>
<circle cx="1840" cy="1523.7" r="5.15"/>
<circle cx="1908.5" cy="1524.7" r="5.15"/>
<circle cx="1961.6" cy="1519.3" r="5.15"/>
<circle cx="1926.7" cy="1536" r="5.15"/>
<circle cx="1833.6" cy="1537.8" r="5.15"/>
<circle cx="1846.4" cy="1542.4" r="5.15"/>
<circle cx="1893.7" cy="1550.8" r="5.15"/>
<circle cx="1850.2" cy="1555.1" r="5.15"/>
<circle cx="1826.7" cy="1575.6" r="5.15"/>
<circle cx="1833.1" cy="1584.5" r="5.15"/>
<circle cx="1840" cy="1586.6" r="5.15"/>
<circle cx="1847.3" cy="1577.6" r="5.15"/>
<circle cx="1883.3" cy="1596.6" r="5.15"/>
<circle cx="1836.5" cy="1614.3" r="5.15"/>
<circle cx="1852.1" cy="1618.8" r="5.15"/>
<circle cx="1860.6" cy="1629.8" r="5.15"/>
<circle cx="1873.9" cy="1633.6" r="5.15"/>
<circle cx="1920" cy="1640.3" r="5.15"/>
<circle cx="1940.3" cy="1630.7" r="5.15"/>
<circle cx="1963.1" cy="1611.4" r="5.15"/>
<circle cx="1997.7" cy="1624.1" r="5.15"/>
<circle cx="2031.2" cy="1661.1" r="5.15"/>
<circle cx="1860.6" cy="1673.1" r="5.15"/>
<circle cx="1956.1" cy="1707.9" r="5.15"/>
<circle cx="1970.3" cy="1765.5" r="5.15"/>
<circle cx="1819.8" cy="1786.9" r="5.15"/>
</g>
<path d="M1278.2 2000.5v-9M1278.2 1138.4v9M1386 2000.5v-13.5M1386 1138.4v13.5M1493.8 2000.5v-9M1493.8 1138.4v9M1601.5 2000.5v-13.5M1601.5 1138.4v13.5M1709.2 2000.5v-9M1709.2 1138.4v9M1817 2000.5v-13.5M1817 1138.4v13.5M1924.8 2000.5v-9M1924.8 1138.4v9M1170.5 1892.7h9M2032.5 1892.7h-9M1170.5 1785h13.5M2032.5 1785h-13.5M1170.5 1677.2h9M2032.5 1677.2h-9M1170.5 1569.5h13.5M2032.5 1569.5h-13.5M1170.5 1461.7h9M2032.5 1461.7h-9M1170.5 1353.9h13.5M2032.5 1353.9h-13.5M1170.5 1246.2h9M2032.5 1246.2h-9" stroke="#000" stroke-width="1.6" fill="none"/>
<rect x="1170.5" y="1138.4" width="862" height="862.1" fill="none" stroke="#000" stroke-width="1.5"/>
<g font-family='"DejaVu Serif","Liberation Serif",serif' font-size="28" fill="#000" stroke="#fff" stroke-width="0.7" letter-spacing="-0.3"><text x="1166.5" y="2043.1" text-anchor="middle">−10</text><text x="1385.7" y="2043.1" text-anchor="middle">0</text><text x="1605.1" y="2043.1" text-anchor="middle">10</text><text x="1820.6" y="2043.1" text-anchor="middle">20</text><text x="2036.1" y="2043.1" text-anchor="middle">30</text><text x="1163.8" y="2011.2" text-anchor="end">−10</text><text x="1157.5" y="1795.7" text-anchor="end">0</text><text x="1159.4" y="1580.2" text-anchor="end">10</text><text x="1159.4" y="1364.6" text-anchor="end">20</text><text x="1159.4" y="1149.1" text-anchor="end">30</text></g>
<text font-family='"DejaVu Serif","Liberation Serif",serif' font-size="36.8" fill="#000" stroke="#fff" stroke-width="0.7"><tspan x="666.5" y="972" textLength="72.1" lengthAdjust="spacingAndGlyphs">TCR</tspan> <tspan x="759.9" y="972" textLength="117" lengthAdjust="spacing">radial</tspan> <tspan x="899.4" y="972" textLength="242.7" lengthAdjust="spacing">propagation</tspan> <tspan x="1164.5" y="972" textLength="156" lengthAdjust="spacing">velocity</tspan> <tspan x="1344.2" y="972" textLength="50.8" lengthAdjust="spacing">(m</tspan> <tspan x="1426.3" y="972" text-anchor="middle">s</tspan><tspan x="1439.9" y="958.8" textLength="30.7" lengthAdjust="spacingAndGlyphs" font-size="26.5">−1</tspan><tspan x="1481.3" y="972" text-anchor="middle">)</tspan></text>
<text transform="translate(574.2 0) rotate(-90)" font-family='"DejaVu Serif","Liberation Serif",serif' font-size="36.8" fill="#000" stroke="#fff" stroke-width="0.7"><tspan x="-829.8" y="0" textLength="221.8" lengthAdjust="spacing">Theoretical</tspan> <tspan x="-585.8" y="0" textLength="55.2" lengthAdjust="spacingAndGlyphs">GW</tspan> <tspan x="-509.8" y="0" textLength="114.2" lengthAdjust="spacing">phase</tspan> <tspan x="-372.7" y="0" textLength="156.4" lengthAdjust="spacing">velocity</tspan> <tspan x="-193" y="0" textLength="50.8" lengthAdjust="spacing">(m</tspan> <tspan x="-110.8" y="0" text-anchor="middle">s</tspan><tspan x="-97.5" y="-13.2" textLength="30.8" lengthAdjust="spacingAndGlyphs" font-size="26.5">−1</tspan><tspan x="-56" y="0" text-anchor="middle">)</tspan></text>
<text font-family='"DejaVu Serif","Liberation Serif",serif' font-size="33" fill="#000" stroke="#fff" stroke-width="0.7"><tspan x="165.4" y="2098" textLength="63.8" lengthAdjust="spacingAndGlyphs">TCR</tspan> <tspan x="249.3" y="2098" textLength="104" lengthAdjust="spacing">radial</tspan> <tspan x="374.5" y="2098" textLength="217.8" lengthAdjust="spacing">propagation</tspan> <tspan x="613.7" y="2098" textLength="139.5" lengthAdjust="spacing">velocity</tspan> <tspan x="774.4" y="2098" textLength="45" lengthAdjust="spacing">(m</tspan> <tspan x="848.9" y="2098" text-anchor="middle">s</tspan><tspan x="860.7" y="2086.1" textLength="27.2" lengthAdjust="spacingAndGlyphs" font-size="23.8">−1</tspan><tspan x="898.1" y="2098" text-anchor="middle">)</tspan></text>
<text transform="translate(29.8 0) rotate(-90)" font-family='"DejaVu Serif","Liberation Serif",serif' font-size="33" fill="#000" stroke="#fff" stroke-width="0.7"><tspan x="-1996.1" y="0" textLength="204" lengthAdjust="spacing">Theoretical</tspan> <tspan x="-1772.4" y="0" textLength="69.4" lengthAdjust="spacingAndGlyphs">VRW</tspan> <tspan x="-1683.3" y="0" textLength="105" lengthAdjust="spacing">radial</tspan> <tspan x="-1557.7" y="0" textLength="102.9" lengthAdjust="spacing">phase</tspan> <tspan x="-1434.5" y="0" textLength="140.2" lengthAdjust="spacing">velocity</tspan> <tspan x="-1272.3" y="0" textLength="45.5" lengthAdjust="spacing">(m</tspan> <tspan x="-1198.9" y="0" text-anchor="middle">s</tspan><tspan x="-1186.8" y="-11.9" textLength="30.4" lengthAdjust="spacingAndGlyphs" font-size="23.8">−1</tspan><tspan x="-1149.5" y="0" text-anchor="middle">)</tspan></text>
<text font-family='"DejaVu Serif","Liberation Serif",serif' font-size="31.4" fill="#000" stroke="#fff" stroke-width="0.7"><tspan x="1214.2" y="2098.5" textLength="61.4" lengthAdjust="spacingAndGlyphs">TCR</tspan> <tspan x="1293.4" y="2098.5" textLength="174.9" lengthAdjust="spacing">tangential</tspan> <tspan x="1487.2" y="2098.5" textLength="207" lengthAdjust="spacing">propagation</tspan> <tspan x="1713.1" y="2098.5" textLength="132.3" lengthAdjust="spacing">velocity</tspan> <tspan x="1865.5" y="2098.5" textLength="42.6" lengthAdjust="spacing">(m</tspan> <tspan x="1935.2" y="2098.5" text-anchor="middle">s</tspan><tspan x="1947.1" y="2087.2" textLength="24.8" lengthAdjust="spacingAndGlyphs" font-size="22.6">−1</tspan><tspan x="1982.2" y="2098.5" text-anchor="middle">)</tspan></text>
<text transform="translate(1095.2 0) rotate(-90)" font-family='"DejaVu Serif","Liberation Serif",serif' font-size="31.4" fill="#000" stroke="#fff" stroke-width="0.7"><tspan x="-1998.6" y="0" textLength="192.3" lengthAdjust="spacing">Theoretical</tspan> <tspan x="-1787.8" y="0" textLength="65.8" lengthAdjust="spacingAndGlyphs">VRW</tspan> <tspan x="-1703.6" y="0" textLength="152.4" lengthAdjust="spacing">tagential</tspan> <tspan x="-1533" y="0" textLength="97.4" lengthAdjust="spacing">phase</tspan> <tspan x="-1416.5" y="0" textLength="133.5" lengthAdjust="spacing">velocity</tspan> <tspan x="-1262.8" y="0" textLength="42.8" lengthAdjust="spacing">(m</tspan> <tspan x="-1193.6" y="0" text-anchor="middle">s</tspan><tspan x="-1182.3" y="-11.3" textLength="29.2" lengthAdjust="spacingAndGlyphs" font-size="22.6">−1</tspan><tspan x="-1146.7" y="0" text-anchor="middle">)</tspan></text>
<text x="683.5" y="117.3" font-family='"Liberation Serif","DejaVu Serif",serif' font-weight="bold" font-size="100" fill="#231815">a</text>
<text x="146.5" y="1244.5" font-family='"Liberation Serif","DejaVu Serif",serif' font-weight="bold" font-size="100" fill="#231815">b</text>
<text x="1211.5" y="1253.5" font-family='"Liberation Serif","DejaVu Serif",serif' font-weight="bold" font-size="100" fill="#231815">c</text>
</svg></body></html>
